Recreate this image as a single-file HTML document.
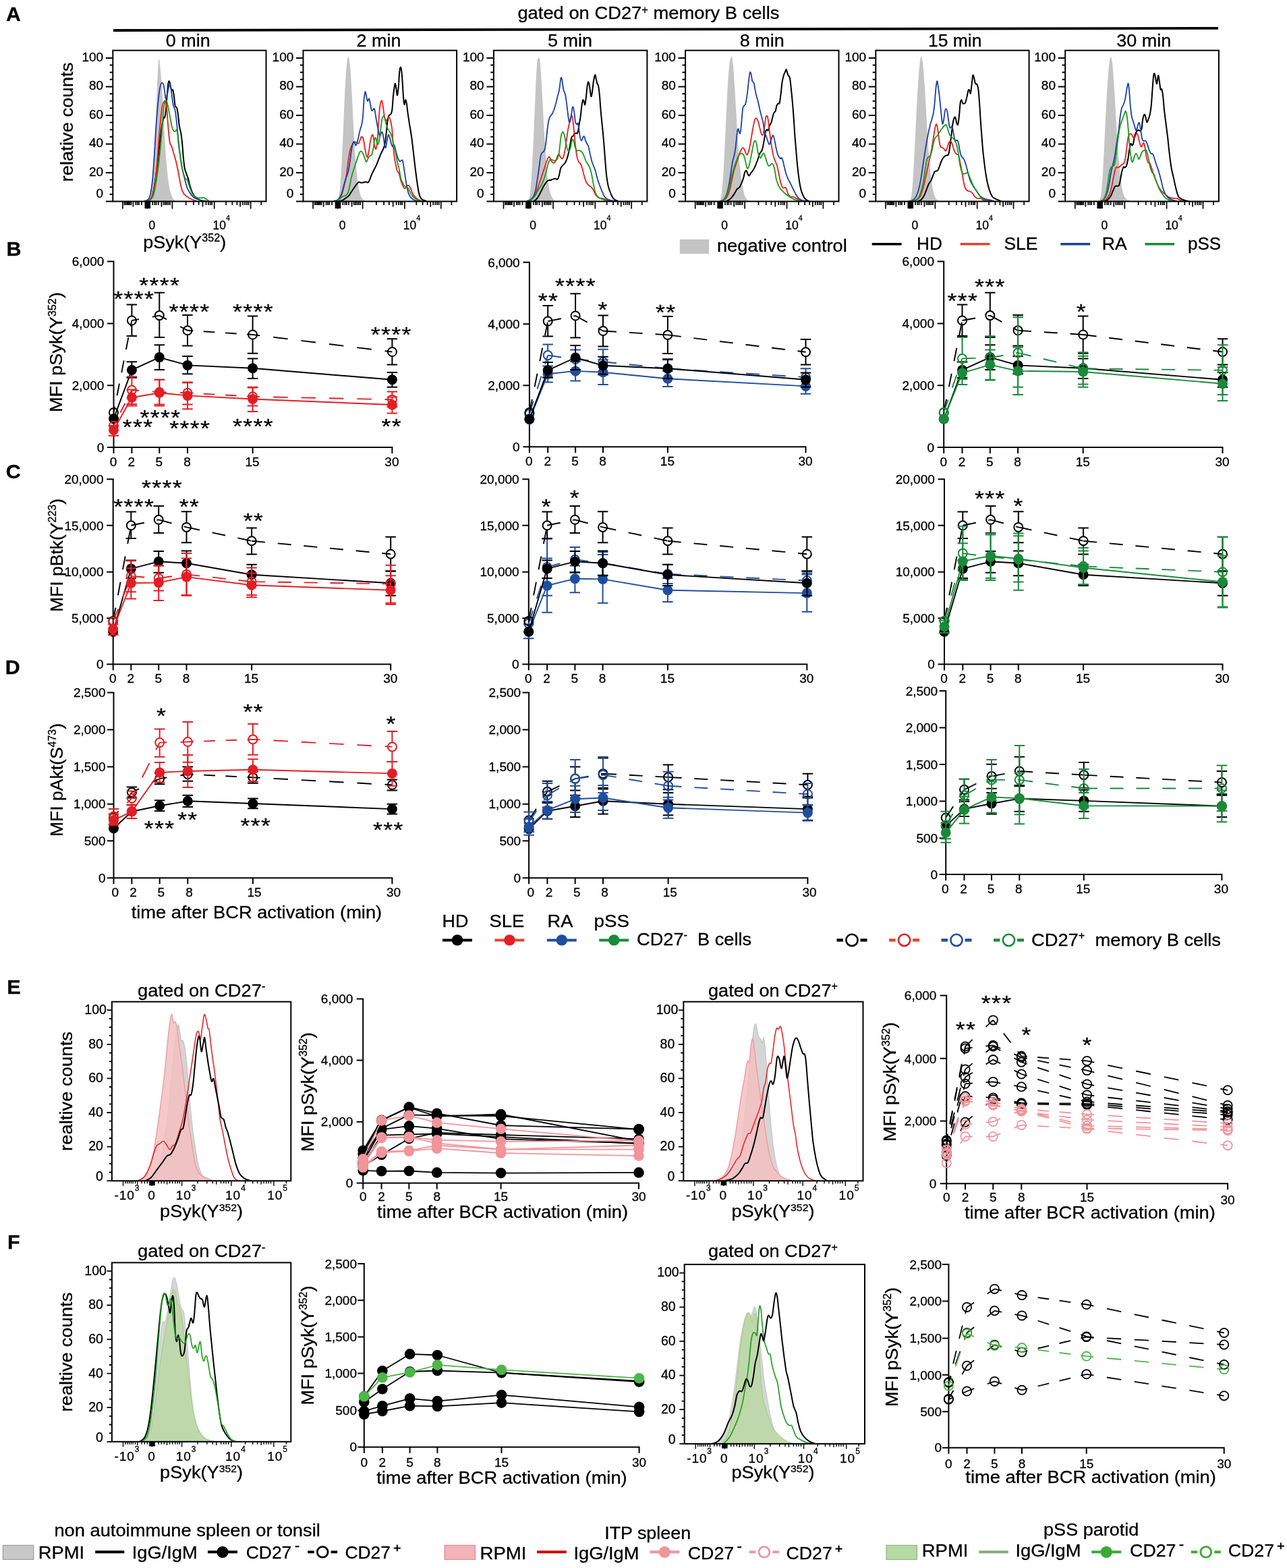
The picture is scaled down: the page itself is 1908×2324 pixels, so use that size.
<!DOCTYPE html>
<html lang="en"><head><meta charset="utf-8"><title>Figure</title>
<style>
html,body{margin:0;padding:0;background:#fff;}
body{width:1908px;height:2324px;overflow:hidden;}
svg{display:block;font-family:'Liberation Sans', Arial, Helvetica, sans-serif;}
text{fill:#000;stroke:#000;stroke-width:0.3px;}
</style></head><body>
<svg width="1908" height="2324" viewBox="0 0 1908 2324">
<rect width="1908" height="2324" fill="#fff"/>
<g id="panelA">
<text x="9" y="31" font-size="30" font-weight="bold" textLength="21.8" lengthAdjust="spacingAndGlyphs">A</text>
<text x="767.4" y="28.4" font-size="26.3" textLength="388" lengthAdjust="spacingAndGlyphs">gated on CD27<tspan font-size="15.8" dy="-8.7">+</tspan><tspan dy="8.7"> memory B cells</tspan></text>
<line x1="168" y1="45" x2="1806" y2="41.9" stroke="#000" stroke-width="3.8"/>
<path d="M220 298.5C220.8 296 222.9 293.4 224.3 284.7C225.7 275.9 226.7 265.6 227.8 250.1C228.9 234.5 229.4 220 230.4 198.2C231.3 176.5 232.2 147.8 232.9 129.1C233.7 110.5 234.1 102 234.7 94.6C235.2 87.1 235.4 87 235.9 87.6C236.4 88.3 236.6 90.6 237.3 98C238 105.5 238.8 112.6 239.9 129.1C241 145.6 242.1 169.4 243.3 189.6C244.6 209.8 245.5 226.5 246.8 241.5C248 256.4 249 264.2 250.2 272.6C251.5 281 252.4 284.1 253.7 288.1C254.9 292.2 255.9 293.2 257.1 295C258.4 296.8 260 297.6 260.6 298.1Z" fill="#c4c4c4"/>
<path d="M217.4 298.1C218.3 297.7 221 297.4 222.6 295.9C224.1 294.4 224.8 294 226 289.8C227.3 285.6 228.2 280.3 229.5 272.6C230.7 264.8 231.7 256.9 232.9 246.6C234.2 236.4 235.2 226.1 236.4 215.5C237.6 205 238.8 195.2 239.9 187.9C241 180.6 241.7 177.4 242.5 174.9C243.2 172.4 243.6 176.1 244.2 174.1C244.8 172 245.3 169.3 245.9 163.7C246.5 158.1 247 150.1 247.6 142.9C248.3 135.8 248.7 128 249.4 123.9C250 119.9 250.5 119.9 251.1 120.5C251.7 121.1 252.2 124.9 252.8 127.4C253.4 129.9 253.9 133.2 254.6 134.3C255.2 135.4 255.7 131.9 256.3 133.4C256.9 135 257.4 138.7 258 142.9C258.6 147.1 259 153.7 259.7 156.8C260.5 159.9 261.5 157.7 262.3 160.2C263.1 162.7 263.4 165.9 264.1 170.6C264.7 175.3 265 181.2 265.8 186.2C266.6 191.1 267.6 193.6 268.4 198.2C269.2 202.9 269.5 205.9 270.1 212.1C270.7 218.3 271.2 226.3 271.8 232.8C272.5 239.3 272.8 244 273.6 248.4C274.3 252.7 275.2 254.2 276.2 257C277.1 259.8 277.8 260.8 278.7 263.9C279.7 267 280.2 270.6 281.3 274.3C282.4 278 283.5 281.7 284.8 284.7C286 287.6 286.7 288.8 288.2 290.7C289.8 292.6 291.3 293.8 293.4 295C295.6 296.3 298.2 297.1 300.3 297.6C302.5 298.2 304.6 298 305.5 298.1" fill="none" stroke="#000000" stroke-width="2" stroke-linejoin="round"/>
<path d="M218.3 298.1C219.2 297.6 221.9 297.1 223.4 295C225 292.9 225.7 291.4 226.9 286.4C228.1 281.4 229.3 275.5 230.4 267.4C231.4 259.3 232 252.3 232.9 241.5C233.9 230.6 234.6 218.4 235.5 206.9C236.5 195.4 237.2 186.5 238.1 177.5C239.1 168.5 239.8 161.6 240.7 156.8C241.7 152 242.5 152 243.3 150.7C244.1 149.5 244.4 148.8 245 149.9C245.7 151 246.2 151.8 246.8 156.8C247.4 161.8 247.9 170 248.5 177.5C249.1 185 249.6 192 250.2 198.2C250.9 204.5 251.2 208.7 252 212.1C252.7 215.5 253.6 214.8 254.6 217.3C255.5 219.7 256.1 222.2 257.1 225.9C258.2 229.6 259.4 233 260.6 238C261.8 243 262.8 247.3 264.1 253.5C265.3 259.8 266.3 267 267.5 272.6C268.8 278.2 269.4 281.4 271 284.7C272.5 287.9 274 288.8 276.2 290.7C278.3 292.6 280.3 293.7 283.1 295C285.9 296.4 290.1 297.6 291.7 298.1" fill="none" stroke="#f01a1a" stroke-width="1.8" stroke-linejoin="round"/>
<path d="M213.9 298.1C214.9 297.7 217.6 297.4 219.1 295.9C220.7 294.4 221.3 295 222.6 289.8C223.8 284.7 224.9 277.6 226 267.4C227.1 257.1 227.7 246.8 228.6 232.8C229.6 218.8 230.3 203.3 231.2 189.6C232.2 175.9 232.9 166.7 233.8 156.8C234.7 146.8 235.6 140.1 236.4 134.3C237.2 128.6 237.8 126.9 238.5 124.8C239.2 122.7 239.5 122.4 240.2 122.6C240.9 122.7 241.7 123.2 242.5 125.7C243.2 128.1 243.6 132.3 244.2 136C244.8 139.8 245.3 145.5 245.9 146.4C246.5 147.3 247 143.7 247.6 141.2C248.3 138.7 248.7 135.2 249.4 132.6C250 129.9 250.6 127.8 251.1 126.5C251.6 125.3 251.8 124.6 252.3 125.7C252.8 126.8 253.1 128.8 253.7 132.6C254.2 136.3 254.8 142.1 255.4 146.4C256 150.8 256.4 153.7 257.1 156.8C257.9 159.9 259 160 259.7 163.7C260.5 167.4 260.8 171.9 261.5 177.5C262.1 183.1 262.6 187.9 263.2 194.8C263.8 201.6 264.1 208.7 264.9 215.5C265.7 222.4 266.4 226 267.5 232.8C268.6 239.7 269.7 247.3 271 253.5C272.2 259.8 273.2 262.7 274.4 267.4C275.7 272 276.3 275.7 277.9 279.5C279.4 283.2 281.2 285.6 283.1 288.1C284.9 290.6 285.8 291.7 288.2 293.3C290.7 294.9 293.8 295.9 296.9 296.8C300 297.6 304 297.9 305.5 298.1" fill="none" stroke="#1c3fa8" stroke-width="1.8" stroke-linejoin="round"/>
<path d="M219.1 298.1C220.1 297.6 222.8 296.8 224.3 295C225.9 293.2 226.5 292.5 227.8 288.1C229 283.8 230 278.3 231.2 270.8C232.5 263.4 233.6 255 234.7 246.6C235.8 238.2 236.3 233.5 237.3 224.2C238.2 214.8 238.9 205.7 239.9 194.8C240.8 183.9 241.7 171.5 242.5 163.7C243.2 155.9 243.6 154.3 244.2 151.6C244.8 148.9 245.3 148.5 245.9 148.5C246.5 148.5 246.9 148.9 247.6 151.6C248.4 154.3 249.3 159 250.2 163.7C251.2 168.4 251.9 172.8 252.8 177.5C253.8 182.2 254.5 186.5 255.4 189.6C256.3 192.7 257.1 194 258 194.8C258.9 195.6 259.8 194.2 260.6 193.9C261.4 193.6 261.7 191.4 262.3 193.1C262.9 194.8 263.4 198.8 264.1 203.4C264.7 208.1 265 212.1 265.8 219C266.6 225.8 267.4 235.2 268.4 241.5C269.3 247.7 269.9 249.5 271 253.5C272.1 257.6 273.2 261.4 274.4 263.9C275.7 266.4 276.6 264.9 277.9 267.4C279.1 269.9 280.1 274.3 281.3 277.7C282.6 281.2 283.5 284 284.8 286.4C286 288.7 286.7 289.5 288.2 290.7C289.8 291.9 291.6 292.8 293.4 293.3C295.3 293.8 297.1 293.4 298.6 293.3C300.2 293.2 300.8 292.6 302.1 292.9C303.3 293.3 304.1 294.1 305.5 295C306.9 296 309.1 297.6 309.9 298.1" fill="none" stroke="#1a9a1a" stroke-width="1.8" stroke-linejoin="round"/>
<rect x="167.3" y="74.7" width="227.2" height="223.8" fill="none" stroke="#000" stroke-width="2"/>
<path d="M156.8 298.5h10.5M162.7 287.9h4.6M162.7 277.2h4.6M162.7 266.6h4.6M156.8 256h10.5M162.7 245.4h4.6M162.7 234.7h4.6M162.7 224.1h4.6M156.8 213.5h10.5M162.7 202.8h4.6M162.7 192.2h4.6M162.7 181.6h4.6M156.8 170.9h10.5M162.7 160.3h4.6M162.7 149.7h4.6M162.7 139.1h4.6M156.8 128.4h10.5M162.7 117.8h4.6M162.7 107.2h4.6M162.7 96.5h4.6M156.8 85.9h10.5" stroke="#000" stroke-width="2" fill="none"/>
<path d="M181.9 298.5v11M218.4 298.5v11M255.4 298.5v11M317.7 298.5v11M371.6 298.5v11M197.4 298.5v8M239.4 298.5v8M300.5 298.5v8M356.1 298.5v8M184.5 298.5v5.5M186.5 298.5v5.5M188.6 298.5v5.5M190.4 298.5v5.5M192.3 298.5v5.5M194.3 298.5v5.5M201.3 298.5v5.5M203.7 298.5v5.5M206 298.5v5.5M209.9 298.5v5.5M226.2 298.5v5.5M229.3 298.5v5.5M231.6 298.5v5.5M234.8 298.5v5.5M242.5 298.5v5.5M244.9 298.5v5.5M247.2 298.5v5.5M249.5 298.5v5.5M251.9 298.5v5.5M275.7 298.5v5.5M286.9 298.5v5.5M294.6 298.5v5.5M305.5 298.5v5.5M308.9 298.5v5.5M311.7 298.5v5.5M314.1 298.5v5.5M335.1 298.5v5.5M344.4 298.5v5.5M351.4 298.5v5.5M360 298.5v5.5M363.1 298.5v5.5M365.9 298.5v5.5M368.5 298.5v5.5M387.2 298.5v5.5" stroke="#000" stroke-width="1.7" fill="none"/>
<rect x="214.5" y="298.5" width="8.6" height="10.5" fill="#000"/>
<text x="153.1" y="292.9" font-size="19" text-anchor="end">0</text>
<text x="153.1" y="260.6" font-size="19" text-anchor="end">20</text>
<text x="153.1" y="218.1" font-size="19" text-anchor="end">40</text>
<text x="153.1" y="175.6" font-size="19" text-anchor="end">60</text>
<text x="153.1" y="133.1" font-size="19" text-anchor="end">80</text>
<text x="153.1" y="90.6" font-size="19" text-anchor="end">100</text>
<text x="278.8" y="68.8" font-size="26.3" text-anchor="middle" textLength="66" lengthAdjust="spacingAndGlyphs">0 min</text>
<text x="225.4" y="339.9" font-size="17.5" text-anchor="middle">0</text>
<text x="315.5" y="339.9" font-size="17.5">10<tspan font-size="10.8" dy="-13.1">4</tspan></text>
<path d="M500.9 298.1C501.3 295.7 502.5 293.3 503.4 284.7C504.4 276 505.1 265.6 506 250.1C507 234.5 507.7 218.5 508.6 198.2C509.6 178 510.3 155.8 511.2 137.8C512.2 119.7 512.9 107.7 513.8 98C514.7 88.4 515.5 84.2 516.4 84.2C517.3 84.2 518.1 88.4 519 98C519.9 107.7 520.7 121.3 521.6 137.8C522.5 154.3 523.2 172.5 524.2 189.6C525.1 206.7 525.7 218.8 526.8 232.8C527.9 246.8 529 257.7 530.2 267.4C531.5 277 532.4 281.6 533.7 286.4C534.9 291.2 535.6 292 537.1 294.2C538.7 296.3 541.4 297.4 542.3 298.1Z" fill="#c4c4c4"/>
<path d="M502.6 298.1C503.5 297.9 505.9 297.6 507.8 296.8C509.6 295.9 511.2 294.5 512.9 293.3C514.7 292.1 515.9 291.4 517.3 289.8C518.7 288.3 519.5 286.5 520.7 284.7C522 282.8 522.8 281.5 524.2 279.5C525.6 277.4 527.1 275.1 528.5 273.4C529.9 271.7 530.7 270.4 532 270C533.2 269.5 534.2 270.7 535.4 270.8C536.7 270.9 537.6 270.7 538.9 270.5C540.1 270.2 541.1 269.4 542.3 269.4C543.6 269.4 544.7 271.2 545.8 270.5C546.9 269.8 547.4 267.8 548.4 265.6C549.3 263.5 549.9 261.2 551 258.7C552.1 256.2 553.2 254.3 554.4 251.8C555.7 249.3 556.6 247.7 557.9 244.9C559.1 242.1 560.1 239.4 561.3 236.3C562.6 233.2 563.5 230.4 564.8 227.6C566 224.8 567.2 223.5 568.2 220.7C569.3 217.9 570.1 216.1 570.8 212.1C571.6 208 571.9 203.8 572.6 198.2C573.2 192.6 573.6 185.8 574.3 181C575 176.1 575.7 173.5 576.5 171.5C577.4 169.4 578.1 171.1 579 169.7C579.8 168.3 580.5 168.5 581.2 163.7C581.9 158.9 582.3 149.2 582.9 142.9C583.6 136.7 584.1 132.5 584.7 129.1C585.2 125.7 585.5 123.3 586 123.9C586.6 124.6 587.1 129.5 587.6 132.6C588.1 135.7 588.4 141.8 589 141.2C589.5 140.6 590.2 135 590.7 129.1C591.3 123.2 591.6 113.5 592.1 108.4C592.6 103.3 592.8 101.9 593.3 100.6C593.8 99.4 594.2 98.8 594.7 101.5C595.2 104.1 595.7 107.8 596.2 115.3C596.8 122.8 597.4 135.8 598 142.9C598.5 150.1 598.8 154.1 599.4 155C599.9 156 600.5 148.4 601.1 148.1C601.7 147.8 602.2 149.9 602.8 153.3C603.4 156.7 603.8 161.5 604.5 167.1C605.3 172.7 606.2 178.5 607.1 184.4C608.1 190.3 608.8 193.4 609.7 200C610.7 206.5 611.4 212.9 612.3 220.7C613.2 228.5 614 235.4 614.9 243.2C615.8 251 616.6 257.1 617.5 263.9C618.4 270.8 619.2 276.2 620.1 281.2C621 286.2 621.6 288.9 622.7 291.6C623.8 294.2 624.4 294.7 626.1 295.9C627.9 297.1 631.1 297.7 632.2 298.1" fill="none" stroke="#000000" stroke-width="2" stroke-linejoin="round"/>
<path d="M499.1 298.1C500.1 297.3 502.8 295.7 504.3 293.3C505.9 290.9 506.5 288.7 507.8 284.7C509 280.6 510.1 275.5 511.2 270.8C512.3 266.2 512.9 264.6 513.8 258.7C514.7 252.8 515.5 244.5 516.4 238C517.3 231.5 518.1 226.5 519 222.4C519.9 218.4 520.7 217.6 521.6 215.5C522.5 213.5 523.2 212.1 524.2 211.2C525.1 210.3 525.8 210.2 526.8 210.3C527.7 210.5 528.4 211.8 529.4 212.1C530.3 212.4 531 213.3 532 212.1C532.9 210.8 533.8 206.9 534.6 205.2C535.3 203.5 535.5 202.3 536.3 202.6C537.1 202.9 537.9 203.3 538.9 206.9C539.8 210.5 540.5 217.8 541.5 222.4C542.4 227.1 543.1 232.2 544.1 232.8C545 233.4 545.7 230.3 546.6 225.9C547.6 221.5 548.3 213.3 549.2 208.6C550.2 204 551.1 200.9 551.8 200C552.6 199 552.9 200.6 553.6 203.4C554.2 206.2 554.6 212.4 555.3 215.5C556 218.6 556.8 222.3 557.5 220.7C558.3 219.2 558.9 214 559.6 206.9C560.3 199.7 560.7 190 561.3 181C562 171.9 562.6 162.5 563.4 156.8C564.2 151 564.9 149.3 565.7 149C566.4 148.7 566.7 151.2 567.4 155C568.1 158.9 568.9 166.2 569.6 170.6C570.4 175 570.9 178.3 571.7 179.2C572.5 180.2 573.4 176.8 574.3 175.8C575.2 174.8 575.8 173.4 576.5 173.7C577.3 174 577.8 174.3 578.6 177.5C579.5 180.7 580.4 184.5 581.2 191.3C582 198.2 582.3 208.1 582.9 215.5C583.6 223 583.9 227.2 584.7 232.8C585.4 238.4 586.5 242.9 587.3 246.6C588 250.4 588.2 251.7 589 253.5C589.8 255.4 590.6 254.5 591.6 257C592.5 259.5 593.1 264 594.2 267.4C595.3 270.8 596.5 273.8 597.6 276C598.7 278.2 599.3 279.5 600.2 279.5C601.2 279.5 601.9 276.9 602.8 276C603.7 275.2 604.5 274.5 605.4 274.8C606.3 275.1 606.9 275.7 608 277.7C609.1 279.8 610.1 283.7 611.5 286.4C612.9 289 614.2 290.7 615.8 292.4C617.3 294.1 618.4 294.9 620.1 295.9C621.8 296.9 624.3 297.7 625.3 298.1" fill="none" stroke="#f01a1a" stroke-width="1.8" stroke-linejoin="round"/>
<path d="M493.9 298.1C495.2 297.7 498.7 297.7 500.9 295.9C503 294.1 504.5 291.7 506 288.1C507.6 284.5 508.2 280.4 509.5 276C510.7 271.7 511.7 268 512.9 263.9C514.2 259.9 515.3 258.2 516.4 253.5C517.5 248.9 518.1 244.2 519 238C519.9 231.8 520.7 224 521.6 219C522.5 214 523.4 211.6 524.2 210.3C525 209.1 525.3 211.1 525.9 212.1C526.5 213 526.9 216.2 527.6 215.5C528.4 214.9 529.1 212.7 530.2 208.6C531.3 204.6 532.6 197.4 533.7 193.1C534.8 188.7 535.5 188.2 536.3 184.4C537.1 180.7 537.4 179.2 538 172.3C538.6 165.5 539.1 152.9 539.7 146.4C540.4 139.9 540.8 136.7 541.5 136C542.1 135.4 542.6 140.5 543.2 142.9C543.8 145.4 544.2 149.2 544.9 149.9C545.6 150.5 546.4 145.5 547.2 146.4C547.9 147.3 548.6 151.9 549.2 155C549.9 158.2 550.2 162.4 551 163.7C551.7 164.9 552.8 162.3 553.6 162C554.3 161.6 554.5 159.2 555.3 162C556.1 164.8 556.9 172.2 557.9 177.5C558.8 182.8 559.5 187 560.5 191.3C561.4 195.7 562.3 200.5 563.1 201.7C563.8 202.9 564.2 199.3 564.8 198.2C565.4 197.2 565.9 195 566.5 195.7C567.1 196.3 567.6 198.4 568.2 201.7C568.9 205 569.4 210.7 570 213.8C570.6 216.9 571.1 219.6 571.7 219C572.3 218.4 572.8 213.5 573.4 210.3C574.1 207.2 574.6 203.6 575.2 201.7C575.7 199.8 575.9 199 576.5 200C577.2 200.9 577.9 204.4 578.6 206.9C579.3 209.4 579.7 211.9 580.3 213.8C581 215.7 581.3 216.9 582.1 217.3C582.9 217.6 583.7 214 584.7 215.5C585.6 217.1 586.3 222.5 587.3 225.9C588.2 229.3 588.9 232.2 589.9 234.5C590.8 236.9 591.5 238.2 592.4 238.9C593.4 239.5 594.3 238.2 595 238C595.8 237.8 596.1 236.4 596.8 238C597.4 239.6 597.7 242 598.5 246.6C599.3 251.3 600.1 258 601.1 263.9C602 269.8 602.7 275.1 603.7 279.5C604.6 283.8 605.2 285.6 606.3 288.1C607.4 290.6 608.2 291.7 609.7 293.3C611.3 294.9 613 295.9 614.9 296.8C616.8 297.6 619.2 297.9 620.1 298.1" fill="none" stroke="#1c3fa8" stroke-width="1.8" stroke-linejoin="round"/>
<path d="M499.1 298.1C500.1 297.4 502.6 295.5 504.3 294.2C506 292.8 506.9 291.6 508.6 290.7C510.3 289.8 512.3 290.7 513.8 289C515.4 287.3 516 285.7 517.3 281.2C518.5 276.7 519.5 269.2 520.7 263.9C522 258.6 522.9 255.9 524.2 251.8C525.4 247.8 526.4 245.2 527.6 241.5C528.9 237.7 530 234 531.1 231.1C532.2 228.1 532.8 226.2 533.7 225C534.6 223.9 535.3 223.9 536.3 224.7C537.2 225.5 537.9 227.3 538.9 229.4C539.8 231.4 540.7 234.4 541.5 236.3C542.2 238.1 542.4 240 543.2 239.7C544 239.4 544.9 236.1 545.8 234.5C546.7 233 547.4 232 548.4 231.1C549.3 230.1 550 231.5 551 229.4C551.9 227.2 552.8 223 553.6 219C554.3 214.9 554.7 209.5 555.3 206.9C555.9 204.2 556.4 203.7 557 204.3C557.6 204.9 558.1 208.6 558.7 210.3C559.4 212.1 559.8 214.7 560.5 213.8C561.2 212.9 561.9 209.8 562.7 205.2C563.5 200.5 564.1 193.2 564.8 187.9C565.5 182.6 565.9 178.6 566.5 175.8C567.1 173 567.6 172.6 568.2 172.3C568.9 172 569.5 171.9 570.3 174.1C571.1 176.2 571.7 181.3 572.6 184.4C573.4 187.5 574.1 189.2 575.2 191.3C576.2 193.5 577.5 194.3 578.6 196.5C579.7 198.7 580.3 200 581.2 203.4C582.1 206.9 582.9 211.5 583.8 215.5C584.7 219.6 585.5 221.5 586.4 225.9C587.3 230.3 588.1 235.4 589 239.7C589.9 244.1 590.6 245.7 591.6 250.1C592.5 254.4 593.1 259.9 594.2 263.9C595.3 268 596.5 270.4 597.6 272.6C598.7 274.7 599.3 275.2 600.2 276C601.2 276.8 601.9 276.3 602.8 276.9C603.7 277.5 604.3 277.8 605.4 279.5C606.5 281.2 607.5 284 608.9 286.4C610.3 288.7 611.5 290.7 613.2 292.4C614.9 294.1 616.5 294.9 618.4 295.9C620.2 296.9 622.6 297.7 623.5 298.1" fill="none" stroke="#1a9a1a" stroke-width="1.8" stroke-linejoin="round"/>
<rect x="449.5" y="74.7" width="227.6" height="223.8" fill="none" stroke="#000" stroke-width="2"/>
<path d="M439 298.5h10.5M444.9 287.9h4.6M444.9 277.2h4.6M444.9 266.6h4.6M439 256h10.5M444.9 245.4h4.6M444.9 234.7h4.6M444.9 224.1h4.6M439 213.5h10.5M444.9 202.8h4.6M444.9 192.2h4.6M444.9 181.6h4.6M439 170.9h10.5M444.9 160.3h4.6M444.9 149.7h4.6M444.9 139.1h4.6M439 128.4h10.5M444.9 117.8h4.6M444.9 107.2h4.6M444.9 96.5h4.6M439 85.9h10.5" stroke="#000" stroke-width="2" fill="none"/>
<path d="M464.1 298.5v11M500.6 298.5v11M537.6 298.5v11M599.9 298.5v11M653.8 298.5v11M479.6 298.5v8M521.6 298.5v8M582.7 298.5v8M638.3 298.5v8M466.7 298.5v5.5M468.7 298.5v5.5M470.8 298.5v5.5M472.6 298.5v5.5M474.5 298.5v5.5M476.5 298.5v5.5M483.5 298.5v5.5M485.9 298.5v5.5M488.2 298.5v5.5M492.1 298.5v5.5M508.4 298.5v5.5M511.5 298.5v5.5M513.8 298.5v5.5M517 298.5v5.5M524.7 298.5v5.5M527.1 298.5v5.5M529.4 298.5v5.5M531.7 298.5v5.5M534.1 298.5v5.5M557.9 298.5v5.5M569.1 298.5v5.5M576.8 298.5v5.5M587.7 298.5v5.5M591.1 298.5v5.5M593.9 298.5v5.5M596.3 298.5v5.5M617.3 298.5v5.5M626.6 298.5v5.5M633.6 298.5v5.5M642.2 298.5v5.5M645.3 298.5v5.5M648.1 298.5v5.5M650.7 298.5v5.5M669.4 298.5v5.5" stroke="#000" stroke-width="1.7" fill="none"/>
<rect x="496.7" y="298.5" width="8.6" height="10.5" fill="#000"/>
<text x="435.3" y="292.9" font-size="19" text-anchor="end">0</text>
<text x="435.3" y="260.6" font-size="19" text-anchor="end">20</text>
<text x="435.3" y="218.1" font-size="19" text-anchor="end">40</text>
<text x="435.3" y="175.6" font-size="19" text-anchor="end">60</text>
<text x="435.3" y="133.1" font-size="19" text-anchor="end">80</text>
<text x="435.3" y="90.6" font-size="19" text-anchor="end">100</text>
<text x="561.6" y="68.8" font-size="26.3" text-anchor="middle" textLength="66" lengthAdjust="spacingAndGlyphs">2 min</text>
<text x="507.6" y="339.9" font-size="17.5" text-anchor="middle">0</text>
<text x="597.7" y="339.9" font-size="17.5">10<tspan font-size="10.8" dy="-13.1">4</tspan></text>
<path d="M783.4 298.1C783.9 295.7 785.1 293.3 786 284.7C787 276 787.7 265.6 788.6 250.1C789.6 234.5 790.3 218.5 791.2 198.2C792.2 178 792.9 156.4 793.8 137.8C794.7 119.1 795.3 103.6 796.1 94.6C796.8 85.5 797.1 88.7 797.8 87.3C798.5 85.9 799.2 83.9 799.9 86.8C800.5 89.6 800.8 92.5 801.6 103.2C802.4 113.9 803.2 129.9 804.2 146.4C805.1 162.9 805.8 179.2 806.8 194.8C807.7 210.3 808.4 220.4 809.4 232.8C810.3 245.3 810.9 254.6 812 263.9C813 273.2 814 279.2 815.4 284.7C816.8 290.1 818.2 291.7 819.7 294.2C821.3 296.6 823.3 297.4 824.1 298.1Z" fill="#c4c4c4"/>
<path d="M791.2 298.1C792 297.6 794.1 296.5 795.5 295C796.9 293.5 797.8 292 799 289.8C800.2 287.7 801.2 285.4 802.5 282.9C803.7 280.4 804.7 278.2 805.9 276C807.2 273.8 808.1 272.4 809.4 270.8C810.6 269.3 811.6 268.1 812.8 267.4C814.1 266.7 815 267.3 816.3 267C817.5 266.7 818.5 266 819.7 265.6C821 265.2 821.9 264.8 823.2 264.8C824.4 264.8 825.6 266.7 826.6 265.6C827.7 264.6 828.5 261.5 829.2 258.7C830 255.9 830.2 252.4 831 250.1C831.7 247.8 832.6 247 833.6 245.8C834.5 244.5 835.2 244.3 836.2 243.2C837.1 242.1 837.8 241.6 838.7 239.7C839.7 237.9 840.5 235.6 841.3 232.8C842.2 230 842.6 227.9 843.4 224.2C844.2 220.4 844.9 215.8 845.7 212.1C846.4 208.3 846.7 205.3 847.4 203.4C848.1 201.6 848.9 202.6 849.6 201.7C850.4 200.8 850.9 199 851.7 198.2C852.5 197.5 853.4 197.7 854.3 197.4C855.2 197.1 855.8 198.9 856.5 196.5C857.3 194.2 857.9 188.8 858.6 184.4C859.4 180.1 860 177.3 860.7 172.3C861.4 167.4 861.8 161.1 862.4 156.8C863.1 152.4 863.7 149.1 864.3 148.1C865 147.2 865.5 150.3 866 151.6C866.6 152.8 866.7 156.6 867.3 155C867.8 153.5 868.4 147.9 869 142.9C869.6 138 870.1 131.3 870.7 127.4C871.3 123.5 871.8 121 872.4 121.3C873.1 121.7 873.5 125.2 874.2 129.1C874.9 133 875.6 141.7 876.2 142.9C876.9 144.2 877.3 140.4 878 136C878.7 131.7 879.4 123.3 880.2 118.8C881 114.2 881.7 111.3 882.3 111C882.9 110.7 883.1 114.7 883.7 117C884.2 119.4 884.8 122.1 885.4 123.9C886 125.8 886.5 124.3 887.1 127.4C887.8 130.5 888.2 134.7 888.9 141.2C889.5 147.8 890 156.5 890.6 163.7C891.2 170.8 891.7 174.7 892.3 181C892.9 187.2 893.4 191.4 894 198.2C894.7 205.1 895.1 211.2 895.8 219C896.4 226.8 896.9 234 897.5 241.5C898.1 248.9 898.5 254.2 899.2 260.5C900 266.7 900.7 271.3 901.8 276C902.9 280.7 904 283.3 905.3 286.4C906.5 289.5 907.5 291.5 908.7 293.3C910 295.1 910.8 295.5 912.2 296.4C913.6 297.3 915.7 297.8 916.5 298.1" fill="none" stroke="#000000" stroke-width="2" stroke-linejoin="round"/>
<path d="M782.6 298.1C783.5 297.7 785.9 297.4 787.8 295.9C789.6 294.4 791.4 292.5 792.9 289.8C794.5 287.2 795.2 284.6 796.4 281.2C797.6 277.8 798.6 274.6 799.9 270.8C801.1 267.1 802.1 264.2 803.3 260.5C804.6 256.7 805.5 253.8 806.8 250.1C808 246.4 809.1 242.7 810.2 239.7C811.3 236.8 812 234.9 812.8 233.7C813.6 232.4 813.9 232.3 814.6 232.8C815.2 233.3 815.5 234.9 816.3 236.3C817.1 237.7 817.9 239.7 818.9 240.6C819.8 241.5 820.5 241.9 821.5 241.5C822.4 241 823.1 239.9 824.1 238C825 236.1 825.9 232.8 826.6 231.1C827.4 229.4 827.6 228.2 828.4 228.5C829.2 228.8 830 231.6 831 232.8C831.9 234.1 832.7 235.7 833.6 235.4C834.4 235.1 835 233.7 835.8 231.1C836.6 228.4 837.1 225.1 837.9 220.7C838.6 216.4 839.2 212.2 840 206.9C840.7 201.6 841.4 196 842.2 191.3C843 186.7 843.7 184.4 844.4 181C845.2 177.5 845.9 174 846.5 172.3C847.1 170.6 847.3 169.9 847.9 171.5C848.5 173 849 176.1 849.6 181C850.3 185.8 850.7 192 851.4 198.2C852 204.5 852.4 209.6 853.1 215.5C853.8 221.4 854.3 226.7 855.2 231.1C856 235.4 856.8 237.7 857.8 239.7C858.7 241.7 859.4 240.8 860.3 242.3C861.3 243.9 862 245.4 862.9 248.4C863.9 251.3 864.6 255.3 865.5 258.7C866.5 262.2 867.2 264.9 868.1 267.4C869.1 269.9 869.8 271.2 870.7 272.6C871.6 274 872.2 274.2 873.3 275.1C874.4 276.1 875.5 276.3 876.8 277.7C878 279.1 879 280.7 880.2 282.9C881.5 285.1 882.3 288 883.7 289.8C885.1 291.7 886.3 292.5 888 293.3C889.7 294.1 891.3 293.7 893.2 294.2C895 294.6 896.2 295.2 898.4 295.9C900.5 296.6 904 297.7 905.3 298.1" fill="none" stroke="#f01a1a" stroke-width="1.8" stroke-linejoin="round"/>
<path d="M780.9 298.1C781.8 297.7 784.3 297.1 786 295.9C787.7 294.7 789 293.9 790.4 291.6C791.8 289.2 792.7 287.3 793.8 282.9C794.9 278.6 795.5 273.3 796.4 267.4C797.3 261.5 798.1 256.6 799 250.1C799.9 243.6 800.7 235.4 801.6 231.1C802.5 226.7 803.3 227.1 804.2 225.9C805.1 224.7 805.7 225.7 806.4 224.2C807.2 222.6 807.8 221 808.5 217.3C809.2 213.5 809.6 208.7 810.2 203.4C810.9 198.1 811.3 192.5 812 187.9C812.6 183.2 813 180.3 813.7 177.5C814.4 174.7 814.9 173.9 815.8 172.3C816.6 170.8 817.5 170.7 818.5 168.9C819.6 167 820.5 164.8 821.5 162C822.5 159.2 823.1 156.7 824.1 153.3C825 149.9 825.7 146.7 826.6 142.9C827.6 139.2 828.5 136.9 829.2 132.6C830 128.2 830.4 121.9 831 118.8C831.5 115.6 831.7 114.6 832.2 115C832.6 115.3 833 117.3 833.6 120.5C834.1 123.7 834.5 129.2 835.3 132.6C836.1 136 837.1 136.4 837.9 139.5C838.7 142.6 839 145.5 839.6 149.9C840.2 154.2 840.7 158.7 841.3 163.7C842 168.7 842.4 174.4 843.1 177.5C843.7 180.6 844.2 181.6 844.8 181C845.4 180.3 845.9 177.5 846.5 174.1C847.1 170.6 847.7 164.8 848.2 162C848.8 159.2 849.1 157.6 849.6 158.5C850.2 159.4 850.7 163.1 851.4 167.1C852 171.2 852.4 177.9 853.1 181C853.8 184.1 854.5 184.1 855.2 184.4C855.8 184.7 856.3 181.5 856.9 182.7C857.4 183.9 857.7 187.6 858.3 191.3C858.8 195.1 859.3 200.3 860 203.4C860.7 206.5 861.2 208.8 862.1 208.6C862.9 208.5 863.9 203.7 864.7 202.6C865.4 201.5 865.8 201.5 866.4 202.6C867 203.7 867.3 206.6 868.1 208.6C868.9 210.6 869.9 212.2 870.7 213.8C871.5 215.4 871.7 214.5 872.4 217.3C873.2 220.1 874.1 225.3 875 229.4C876 233.4 876.7 236.6 877.6 239.7C878.6 242.8 879.3 244.1 880.2 246.6C881.2 249.1 881.9 250.4 882.8 253.5C883.7 256.7 884.3 260.2 885.4 263.9C886.5 267.6 887.6 270.9 888.9 274.3C890.1 277.7 891.1 280 892.3 282.9C893.6 285.9 894.4 288.5 895.8 290.7C897.2 292.9 898.4 293.9 900.1 295C901.8 296.1 903.1 296.2 905.3 296.8C907.5 297.3 910.9 297.9 912.2 298.1" fill="none" stroke="#1c3fa8" stroke-width="1.8" stroke-linejoin="round"/>
<path d="M782.6 298.1C783.5 297.7 785.9 297.2 787.8 295.9C789.6 294.5 791.2 293 792.9 290.7C794.7 288.4 795.7 285.6 797.3 282.9C798.8 280.3 800.2 278.5 801.6 276C803 273.5 803.8 272.2 805 269.1C806.3 266 807.4 262.5 808.5 258.7C809.6 255 810.2 251.8 811.1 248.4C812 244.9 812.8 241.9 813.7 239.7C814.5 237.5 814.8 236.7 815.8 236.3C816.7 235.8 817.7 236.8 818.9 237.1C820.1 237.4 821.1 238.2 822.3 238C823.6 237.8 824.7 237.8 825.8 236.3C826.9 234.7 827.6 233.1 828.4 229.4C829.2 225.6 829.5 220.5 830.1 215.5C830.7 210.6 831.2 205.2 831.8 201.7C832.5 198.2 832.9 197.1 833.6 196.2C834.2 195.2 834.7 195.5 835.3 196.5C835.9 197.5 836.4 199.2 837 201.7C837.6 204.2 838 206.9 838.7 210.3C839.5 213.8 840.2 218.2 841 220.7C841.8 223.2 842.6 224.5 843.4 224.2C844.2 223.9 844.9 221.5 845.7 219C846.4 216.5 846.8 212.6 847.4 210.3C848 208.1 848.5 206.5 849.1 206.5C849.7 206.5 850.2 208.3 850.8 210.3C851.5 212.4 851.8 215.8 852.6 218.1C853.3 220.5 854.1 222.5 855.2 223.3C856.2 224.1 857.5 222.6 858.6 222.8C859.7 222.9 860.3 223.5 861.2 224.2C862.1 224.9 862.9 225.2 863.8 226.8C864.7 228.3 865.5 230.5 866.4 232.8C867.3 235.1 868.1 237.9 869 239.7C869.9 241.6 870.6 241.6 871.6 243.2C872.5 244.7 873.2 245.9 874.2 248.4C875.1 250.9 875.8 253 876.8 257C877.7 261 878.4 266.2 879.4 270.8C880.3 275.5 881 279.5 881.9 282.9C882.9 286.3 883.3 287.9 884.5 289.8C885.8 291.8 887 292.6 888.9 293.6C890.7 294.7 892.6 295.1 894.9 295.9C897.2 296.7 900.6 297.7 901.8 298.1" fill="none" stroke="#1a9a1a" stroke-width="1.8" stroke-linejoin="round"/>
<rect x="731.9" y="74.7" width="227.5" height="223.8" fill="none" stroke="#000" stroke-width="2"/>
<path d="M721.4 298.5h10.5M727.3 287.9h4.6M727.3 277.2h4.6M727.3 266.6h4.6M721.4 256h10.5M727.3 245.4h4.6M727.3 234.7h4.6M727.3 224.1h4.6M721.4 213.5h10.5M727.3 202.8h4.6M727.3 192.2h4.6M727.3 181.6h4.6M721.4 170.9h10.5M727.3 160.3h4.6M727.3 149.7h4.6M727.3 139.1h4.6M721.4 128.4h10.5M727.3 117.8h4.6M727.3 107.2h4.6M727.3 96.5h4.6M721.4 85.9h10.5" stroke="#000" stroke-width="2" fill="none"/>
<path d="M746.5 298.5v11M783 298.5v11M820 298.5v11M882.3 298.5v11M936.2 298.5v11M762 298.5v8M804 298.5v8M865.1 298.5v8M920.7 298.5v8M749.1 298.5v5.5M751.1 298.5v5.5M753.2 298.5v5.5M755 298.5v5.5M756.9 298.5v5.5M758.9 298.5v5.5M765.9 298.5v5.5M768.3 298.5v5.5M770.6 298.5v5.5M774.5 298.5v5.5M790.8 298.5v5.5M793.9 298.5v5.5M796.2 298.5v5.5M799.4 298.5v5.5M807.1 298.5v5.5M809.5 298.5v5.5M811.8 298.5v5.5M814.1 298.5v5.5M816.5 298.5v5.5M840.3 298.5v5.5M851.5 298.5v5.5M859.2 298.5v5.5M870.1 298.5v5.5M873.5 298.5v5.5M876.3 298.5v5.5M878.7 298.5v5.5M899.7 298.5v5.5M909 298.5v5.5M916 298.5v5.5M924.6 298.5v5.5M927.7 298.5v5.5M930.5 298.5v5.5M933.1 298.5v5.5M951.8 298.5v5.5" stroke="#000" stroke-width="1.7" fill="none"/>
<rect x="779.1" y="298.5" width="8.6" height="10.5" fill="#000"/>
<text x="717.7" y="292.9" font-size="19" text-anchor="end">0</text>
<text x="717.7" y="260.6" font-size="19" text-anchor="end">20</text>
<text x="717.7" y="218.1" font-size="19" text-anchor="end">40</text>
<text x="717.7" y="175.6" font-size="19" text-anchor="end">60</text>
<text x="717.7" y="133.1" font-size="19" text-anchor="end">80</text>
<text x="717.7" y="90.6" font-size="19" text-anchor="end">100</text>
<text x="845" y="68.8" font-size="26.3" text-anchor="middle" textLength="66" lengthAdjust="spacingAndGlyphs">5 min</text>
<text x="790" y="339.9" font-size="17.5" text-anchor="middle">0</text>
<text x="880.1" y="339.9" font-size="17.5">10<tspan font-size="10.8" dy="-13.1">4</tspan></text>
<path d="M1067.6 298.1C1068 295.7 1069.2 293.3 1070.2 284.7C1071.1 276 1071.8 265.6 1072.8 250.1C1073.7 234.5 1074.4 218.5 1075.4 198.2C1076.4 178 1077.3 155.8 1078.3 137.8C1079.3 119.7 1080 107.7 1081.1 98C1082.1 88.4 1083.3 84.8 1084.3 84.2C1085.3 83.6 1085.7 86.5 1086.6 94.6C1087.5 102.6 1088.2 115.1 1089.2 129.1C1090.1 143.1 1090.8 156.8 1091.8 172.3C1092.7 187.9 1093.4 202.2 1094.4 215.5C1095.3 228.9 1096 237.3 1097 246.6C1097.9 256 1098.5 260.2 1099.6 267.4C1100.6 274.5 1101.8 281.6 1103 286.4C1104.3 291.2 1105.1 292 1106.5 294.2C1107.9 296.3 1110 297.4 1110.8 298.1Z" fill="#c4c4c4"/>
<path d="M1077.1 298.1C1077.9 297.7 1080 296.9 1081.4 295.9C1082.8 294.9 1083.5 294.1 1084.9 292.4C1086.3 290.7 1087.8 288.6 1089.2 286.4C1090.6 284.2 1091.4 281.9 1092.6 280.3C1093.9 278.8 1094.9 279.5 1096.1 277.7C1097.3 276 1098.5 273.3 1099.6 270.8C1100.6 268.3 1101.3 266.7 1102.1 263.9C1103 261.1 1103.4 257.3 1104.2 255.3C1105 253.3 1105.7 252.4 1106.5 252.7C1107.2 253 1107.5 255.6 1108.2 257C1108.9 258.4 1109.5 260.6 1110.4 260.5C1111.4 260.3 1112.2 257.7 1113.4 256.1C1114.5 254.6 1115.7 253.5 1116.8 251.8C1117.9 250.1 1118.3 249.1 1119.4 246.6C1120.5 244.1 1121.6 241.4 1122.9 238C1124.1 234.6 1125.1 230.4 1126.3 227.6C1127.6 224.8 1128.7 225.6 1129.8 222.4C1130.9 219.3 1131.5 215 1132.4 210.3C1133.3 205.7 1133.9 199.8 1134.6 196.5C1135.4 193.3 1136 192.8 1136.7 192.2C1137.5 191.6 1138 194.2 1138.8 193.1C1139.6 192 1140.2 188.3 1141 186.2C1141.9 184 1142.8 183.5 1143.6 181C1144.5 178.5 1145 174.8 1145.7 172.3C1146.4 169.8 1146.7 168.5 1147.4 167.1C1148.1 165.7 1149 166.4 1149.7 164.6C1150.4 162.7 1150.7 158.8 1151.4 156.8C1152.1 154.8 1152.9 154.1 1153.6 153.3C1154.4 152.5 1155 155.3 1155.7 152.5C1156.5 149.7 1157.1 143.2 1157.8 137.8C1158.5 132.3 1158.8 126.9 1159.5 122.2C1160.2 117.5 1161 114.6 1161.8 111.8C1162.6 109 1163.3 108.3 1164 106.7C1164.7 105 1165.1 102.5 1165.7 102.9C1166.3 103.2 1166.7 106.6 1167.3 108.4C1167.9 110.2 1168.5 111.5 1169.2 112.7C1169.8 114 1170.3 112.3 1170.9 115.3C1171.5 118.3 1172 122.9 1172.6 129.1C1173.3 135.3 1174 142.1 1174.7 149.9C1175.4 157.6 1175.8 163.6 1176.5 172.3C1177.1 181 1177.6 189.9 1178.2 198.2C1178.8 206.6 1179.3 211.5 1179.9 219C1180.5 226.5 1181 232.6 1181.6 239.7C1182.3 246.9 1182.9 252.5 1183.7 258.7C1184.5 265 1185.1 269.6 1186 274.3C1186.8 279 1187.5 281.4 1188.5 284.7C1189.6 287.9 1190.8 290.3 1192 292.4C1193.2 294.5 1194.1 295.4 1195.5 296.4C1196.9 297.4 1199 297.8 1199.8 298.1" fill="none" stroke="#000000" stroke-width="2" stroke-linejoin="round"/>
<path d="M1069.3 298.1C1070.2 297.7 1072.8 297.4 1074.5 295.9C1076.2 294.4 1077.4 292.8 1078.8 289.8C1080.2 286.9 1081.2 283.5 1082.3 279.5C1083.4 275.4 1083.9 271.7 1084.9 267.4C1085.8 263 1086.5 259 1087.5 255.3C1088.4 251.5 1089 250.1 1090 246.6C1091.1 243.2 1092.3 240 1093.5 236.3C1094.7 232.5 1095.9 228.7 1097 225.9C1098 223.1 1098.7 222 1099.6 220.7C1100.4 219.5 1101 218.7 1101.8 219C1102.6 219.3 1103.1 220.9 1103.9 222.4C1104.6 224 1105.3 226.4 1105.9 227.6C1106.6 228.9 1107 230 1107.7 229.4C1108.4 228.7 1109 227.3 1109.9 224.2C1110.8 221.1 1111.6 217.1 1112.5 212.1C1113.4 207.1 1114.2 201.8 1115.1 196.5C1116 191.2 1116.9 186.3 1117.7 182.7C1118.5 179.1 1118.7 178 1119.4 176.6C1120.1 175.3 1120.7 175 1121.5 175.4C1122.3 175.9 1122.9 177 1123.7 179.2C1124.6 181.5 1125.2 184.8 1126 187.9C1126.8 191 1127.3 194.3 1128.1 196.5C1128.8 198.8 1129.6 200.3 1130.3 200.3C1131 200.3 1131.4 199.4 1132 196.5C1132.7 193.7 1133.2 188.5 1133.8 184.4C1134.4 180.4 1134.7 176.3 1135.3 174.1C1135.9 171.8 1136.4 171.4 1137.1 172C1137.7 172.6 1138.2 174 1138.8 177.5C1139.4 181 1139.9 186.4 1140.5 191.3C1141.1 196.3 1141.5 199.9 1142.2 205.2C1143 210.4 1143.6 215.7 1144.5 220.7C1145.4 225.7 1146.1 229.4 1147.1 232.8C1148 236.2 1148.7 237.2 1149.7 239.7C1150.6 242.2 1151.3 243.2 1152.3 246.6C1153.2 250.1 1153.9 254.4 1154.9 258.7C1155.8 263.1 1156.5 267.4 1157.4 270.8C1158.4 274.3 1159.2 276.3 1160 277.7C1160.9 279.1 1161.5 278.6 1162.3 278.6C1163.1 278.6 1163.7 277.3 1164.4 277.7C1165 278.2 1165.3 279.3 1166.1 281.2C1166.9 283.1 1167.6 286.2 1168.7 288.1C1169.8 290 1170.9 290.9 1172.1 291.6C1173.4 292.2 1174.3 291.3 1175.6 291.6C1176.8 291.9 1177.6 292.6 1179 293.3C1180.4 294 1181.7 294.7 1183.4 295.4C1185.1 296.1 1186.4 296.6 1188.5 297.1C1190.7 297.6 1194.2 297.9 1195.5 298.1" fill="none" stroke="#f01a1a" stroke-width="1.8" stroke-linejoin="round"/>
<path d="M1067.6 298.1C1068.5 297.7 1071.1 297.7 1072.8 295.9C1074.5 294.1 1075.7 292 1077.1 288.1C1078.5 284.2 1079.5 279.6 1080.5 274.3C1081.6 269 1082.2 264.6 1083.1 258.7C1084.1 252.8 1084.8 246.4 1085.7 241.5C1086.7 236.5 1087.5 234.5 1088.3 231.1C1089.1 227.7 1089.4 226.8 1090 222.4C1090.7 218.1 1091.2 211.9 1091.8 206.9C1092.3 201.9 1092.7 197.7 1093.2 194.8C1093.6 191.9 1093.8 190.7 1094.4 191C1094.9 191.3 1095.6 195.4 1096.1 196.5C1096.6 197.7 1096.8 198.9 1097.3 197.4C1097.8 195.8 1098.2 192.4 1098.7 187.9C1099.2 183.4 1099.6 177.3 1100.1 172.3C1100.5 167.4 1100.8 163 1101.3 160.2C1101.8 157.4 1102.4 157.7 1103 156.8C1103.6 155.8 1104.1 156.6 1104.7 155C1105.4 153.5 1105.8 151.6 1106.5 148.1C1107.1 144.7 1107.6 141 1108.2 136C1108.8 131.1 1109.4 125.1 1109.9 120.5C1110.5 115.8 1110.8 112.6 1111.3 110.1C1111.8 107.6 1112 106.3 1112.5 106.7C1113 107 1113.4 109.4 1113.9 111.8C1114.4 114.3 1114.8 118.5 1115.4 120.5C1116.1 122.5 1117 120.9 1117.7 123.1C1118.4 125.3 1118.8 129.3 1119.4 132.6C1120 135.8 1120.4 138.1 1121.2 141.2C1121.9 144.3 1122.8 146.1 1123.7 149.9C1124.7 153.6 1125.4 157.9 1126.3 162C1127.3 166 1128 168.6 1128.9 172.3C1129.9 176.1 1130.7 178.7 1131.5 182.7C1132.3 186.7 1132.5 191.4 1133.2 194.8C1134 198.2 1135.1 199.5 1135.8 201.7C1136.6 203.9 1136.9 205 1137.6 206.9C1138.2 208.8 1138.7 210.8 1139.3 212.1C1139.9 213.3 1140.4 214.4 1141 213.8C1141.6 213.2 1142 210.8 1142.8 208.6C1143.5 206.4 1144.3 203 1145 201.7C1145.7 200.4 1146.1 200.1 1146.7 201.4C1147.4 202.6 1147.8 205.4 1148.5 208.6C1149.1 211.8 1149.8 215.6 1150.5 219C1151.3 222.4 1151.8 225.1 1152.6 227.6C1153.4 230.1 1154 231.4 1154.9 232.8C1155.7 234.2 1156.4 235.2 1157.1 235.4C1157.8 235.6 1158.2 233.2 1158.8 233.7C1159.4 234.1 1159.9 235.7 1160.6 238C1161.2 240.3 1161.8 243.2 1162.6 246.6C1163.5 250.1 1164.3 253.9 1165.2 257C1166.2 260.1 1166.7 261.4 1167.8 263.9C1168.9 266.4 1169.9 268 1171.3 270.8C1172.7 273.6 1174 276.4 1175.6 279.5C1177.1 282.6 1178.4 285.5 1179.9 288.1C1181.5 290.8 1182.5 292.5 1184.2 294.2C1185.9 295.8 1187.4 296.4 1189.4 297.1C1191.4 297.8 1194.4 297.9 1195.5 298.1" fill="none" stroke="#1c3fa8" stroke-width="1.8" stroke-linejoin="round"/>
<path d="M1068.4 298.1C1069.4 297.7 1071.9 297.7 1073.6 295.9C1075.3 294.1 1076.5 291.7 1077.9 288.1C1079.3 284.5 1080.2 281 1081.4 276C1082.6 271 1083.6 265.4 1084.9 260.5C1086.1 255.5 1087.1 252.4 1088.3 248.4C1089.6 244.3 1090.5 241.3 1091.8 238C1093 234.7 1094.1 232 1095.2 230.2C1096.3 228.4 1096.9 228.4 1097.8 228C1098.8 227.5 1099.5 227.1 1100.4 227.6C1101.3 228.2 1102.1 228.9 1103 231.1C1103.9 233.3 1104.5 236.6 1105.3 239.7C1106 242.8 1106.6 246.7 1107.3 248.4C1108 250.1 1108.4 250.2 1109.1 249.2C1109.7 248.3 1110.4 246.1 1111.1 243.2C1111.9 240.2 1112.5 237.2 1113.4 232.8C1114.2 228.5 1115.1 223 1116 219C1116.8 214.9 1117.3 212.2 1118 210.3C1118.8 208.5 1119.3 208 1119.9 208.6C1120.6 209.2 1121 210.7 1121.7 213.8C1122.4 216.9 1122.9 222.5 1123.7 225.9C1124.6 229.3 1125.6 231.4 1126.3 232.8C1127.1 234.2 1127.4 234.3 1128.1 233.7C1128.7 233.1 1129.4 230.5 1130.1 229.4C1130.9 228.2 1131.6 226.7 1132.4 227.3C1133.2 227.9 1133.9 230.6 1134.6 232.8C1135.4 235.1 1135.9 237.4 1136.7 239.7C1137.5 242.1 1138.4 244.9 1139.3 245.8C1140.2 246.6 1141 245.2 1141.9 244.6C1142.8 243.9 1143.6 242.3 1144.5 242.3C1145.4 242.4 1146 242.9 1146.7 244.9C1147.5 246.9 1148.1 250.1 1148.8 253.5C1149.5 257 1149.8 260.5 1150.5 263.9C1151.3 267.3 1152.2 270.1 1153.1 272.6C1154.1 275 1154.6 276 1155.7 277.7C1156.8 279.5 1157.8 280.5 1159.2 282.1C1160.6 283.6 1161.9 285 1163.5 286.4C1165 287.8 1166.1 288.6 1167.8 289.8C1169.5 291.1 1171.1 292.2 1173 293.3C1174.9 294.4 1176 295.1 1178.2 295.9C1180.4 296.7 1182.6 297.2 1185.1 297.6C1187.6 298 1190.8 298 1192 298.1" fill="none" stroke="#1a9a1a" stroke-width="1.8" stroke-linejoin="round"/>
<rect x="1016.1" y="74.7" width="227.4" height="223.8" fill="none" stroke="#000" stroke-width="2"/>
<path d="M1005.6 298.5h10.5M1011.5 287.9h4.6M1011.5 277.2h4.6M1011.5 266.6h4.6M1005.6 256h10.5M1011.5 245.4h4.6M1011.5 234.7h4.6M1011.5 224.1h4.6M1005.6 213.5h10.5M1011.5 202.8h4.6M1011.5 192.2h4.6M1011.5 181.6h4.6M1005.6 170.9h10.5M1011.5 160.3h4.6M1011.5 149.7h4.6M1011.5 139.1h4.6M1005.6 128.4h10.5M1011.5 117.8h4.6M1011.5 107.2h4.6M1011.5 96.5h4.6M1005.6 85.9h10.5" stroke="#000" stroke-width="2" fill="none"/>
<path d="M1030.7 298.5v11M1067.2 298.5v11M1104.2 298.5v11M1166.5 298.5v11M1220.4 298.5v11M1046.2 298.5v8M1088.2 298.5v8M1149.3 298.5v8M1204.9 298.5v8M1033.3 298.5v5.5M1035.3 298.5v5.5M1037.4 298.5v5.5M1039.2 298.5v5.5M1041.1 298.5v5.5M1043.1 298.5v5.5M1050.1 298.5v5.5M1052.5 298.5v5.5M1054.8 298.5v5.5M1058.7 298.5v5.5M1075 298.5v5.5M1078.1 298.5v5.5M1080.4 298.5v5.5M1083.6 298.5v5.5M1091.3 298.5v5.5M1093.7 298.5v5.5M1096 298.5v5.5M1098.3 298.5v5.5M1100.7 298.5v5.5M1124.5 298.5v5.5M1135.7 298.5v5.5M1143.4 298.5v5.5M1154.3 298.5v5.5M1157.7 298.5v5.5M1160.5 298.5v5.5M1162.9 298.5v5.5M1183.9 298.5v5.5M1193.2 298.5v5.5M1200.2 298.5v5.5M1208.8 298.5v5.5M1211.9 298.5v5.5M1214.7 298.5v5.5M1217.3 298.5v5.5M1236 298.5v5.5" stroke="#000" stroke-width="1.7" fill="none"/>
<rect x="1063.3" y="298.5" width="8.6" height="10.5" fill="#000"/>
<text x="1001.9" y="292.9" font-size="19" text-anchor="end">0</text>
<text x="1001.9" y="260.6" font-size="19" text-anchor="end">20</text>
<text x="1001.9" y="218.1" font-size="19" text-anchor="end">40</text>
<text x="1001.9" y="175.6" font-size="19" text-anchor="end">60</text>
<text x="1001.9" y="133.1" font-size="19" text-anchor="end">80</text>
<text x="1001.9" y="90.6" font-size="19" text-anchor="end">100</text>
<text x="1129.8" y="68.8" font-size="26.3" text-anchor="middle" textLength="66" lengthAdjust="spacingAndGlyphs">8 min</text>
<text x="1074.2" y="339.9" font-size="17.5" text-anchor="middle">0</text>
<text x="1164.3" y="339.9" font-size="17.5">10<tspan font-size="10.8" dy="-13.1">4</tspan></text>
<path d="M1349.3 298.1C1349.8 295.7 1351 293.3 1351.9 284.7C1352.8 276 1353.6 265.6 1354.5 250.1C1355.4 234.5 1356.2 216.9 1357.1 198.2C1358 179.6 1358.7 162.6 1359.7 146.4C1360.6 130.2 1361.4 119 1362.3 108.4C1363.1 97.8 1363.8 92 1364.5 87.6C1365.2 83.3 1365.4 82.6 1366.1 84.2C1366.8 85.7 1367.4 88.2 1368.3 96.3C1369.2 104.4 1370 115.4 1370.9 129.1C1371.8 142.8 1372.6 156.8 1373.5 172.3C1374.4 187.9 1375.2 202.2 1376.1 215.5C1377 228.9 1377.8 236.7 1378.7 246.6C1379.6 256.6 1380.2 263.4 1381.3 270.8C1382.4 278.3 1383.5 283.8 1384.7 288.1C1386 292.5 1386.8 293.2 1388.2 295C1389.6 296.8 1391.7 297.6 1392.5 298.1Z" fill="#c4c4c4"/>
<path d="M1361.4 298.1C1362.2 297.7 1364.2 297.4 1365.7 295.9C1367.3 294.4 1368.6 292.5 1370 289.8C1371.4 287.2 1372.3 284.3 1373.5 281.2C1374.7 278.1 1375.7 275 1377 272.6C1378.2 270.1 1379.3 269.6 1380.4 267.4C1381.5 265.2 1382.1 262.8 1383 260.5C1383.9 258.1 1384.7 255.7 1385.6 254.4C1386.5 253.2 1387.3 254 1388.2 253.5C1389.1 253.1 1389.9 253.4 1390.8 251.8C1391.7 250.3 1392.4 247.4 1393.4 244.9C1394.3 242.4 1395 240 1396 238C1396.9 236 1397.6 234.9 1398.6 233.7C1399.5 232.4 1400.2 231.7 1401.2 231.1C1402.1 230.5 1402.8 230.7 1403.7 230.2C1404.7 229.8 1405.5 231.1 1406.3 228.5C1407.2 225.8 1407.6 221 1408.4 215.5C1409.2 210.1 1409.8 204.5 1410.7 198.2C1411.5 192 1412.2 185.2 1412.9 181C1413.6 176.8 1414 176.2 1414.6 174.9C1415.3 173.7 1415.7 172.7 1416.4 174.1C1417 175.5 1417.7 180.8 1418.4 182.7C1419.1 184.6 1419.5 186.3 1420.2 184.4C1420.8 182.6 1421.3 177.9 1421.9 172.3C1422.5 166.7 1423 157.7 1423.6 153.3C1424.2 149 1424.7 148.1 1425.3 148.1C1426 148.1 1426.6 152.4 1427.4 153.3C1428.2 154.3 1429 153.6 1429.7 153.3C1430.4 153 1430.7 153.5 1431.4 151.6C1432.1 149.7 1432.9 146.1 1433.6 142.9C1434.4 139.8 1434.7 136 1435.4 134.3C1436 132.6 1436.5 132.7 1437.1 133.4C1437.7 134.2 1438.2 140 1438.8 138.6C1439.4 137.2 1439.9 130.5 1440.6 125.7C1441.2 120.8 1441.7 113.7 1442.3 111.8C1442.9 110 1443.3 113.1 1444 115.3C1444.7 117.5 1445.3 122.2 1446.1 123.9C1446.9 125.7 1447.6 123.2 1448.3 124.8C1449.1 126.4 1449.7 127.4 1450.4 132.6C1451.1 137.7 1451.5 144.6 1452.1 153.3C1452.8 162 1453.2 171.9 1453.9 181C1454.5 190 1455 195.7 1455.6 203.4C1456.2 211.2 1456.5 216.4 1457.3 224.2C1458.1 231.9 1459 239.5 1459.9 246.6C1460.8 253.8 1461.6 258.6 1462.5 263.9C1463.4 269.2 1464 272 1465.1 276C1466.2 280.1 1467.3 283.4 1468.5 286.4C1469.8 289.3 1470.4 290.8 1472 292.4C1473.6 294 1475 294.3 1477.2 295.4C1479.4 296.4 1482.9 297.6 1484.1 298.1" fill="none" stroke="#000000" stroke-width="2" stroke-linejoin="round"/>
<path d="M1354.5 298.1C1355.4 297.7 1357.8 297.4 1359.7 295.9C1361.5 294.4 1363.2 293.4 1364.9 289.8C1366.6 286.3 1367.8 281.3 1369.2 276C1370.6 270.7 1371.4 266.1 1372.6 260.5C1373.9 254.9 1374.9 250.5 1376.1 244.9C1377.3 239.3 1378.5 234.6 1379.6 229.4C1380.6 224.1 1381.2 221.1 1382.1 215.5C1383.1 209.9 1383.9 203.5 1384.7 198.2C1385.6 193 1386.3 188.6 1387 186.2C1387.7 183.7 1388.1 183.5 1388.7 184.8C1389.3 186 1389.8 189.1 1390.4 193.1C1391.1 197 1391.5 202.5 1392.2 206.9C1392.9 211.2 1393.4 215.1 1394.2 217.3C1395.1 219.4 1395.9 218 1396.8 218.6C1397.8 219.3 1398.5 219.8 1399.4 220.7C1400.4 221.6 1401.1 224.1 1402 223.8C1402.9 223.5 1403.5 221.1 1404.3 219C1405 216.9 1405.5 213.9 1406.3 212.1C1407.2 210.3 1408.1 209 1408.9 209C1409.8 209 1410.4 210.3 1411.2 212.1C1412 213.9 1412.4 216.5 1413.2 219C1414.1 221.5 1414.9 224.2 1415.8 225.9C1416.8 227.6 1417.5 227.7 1418.4 228.5C1419.4 229.3 1420.1 227.9 1421 230.2C1422 232.6 1422.7 236.9 1423.6 241.5C1424.6 246 1425.3 250 1426.2 255.3C1427.1 260.6 1427.9 266.5 1428.8 270.8C1429.7 275.2 1430.3 277.3 1431.4 279.5C1432.5 281.6 1433.6 282.1 1434.9 282.9C1436.1 283.7 1437.1 283.2 1438.3 283.8C1439.6 284.4 1440.5 285 1441.8 286.4C1443 287.8 1443.8 290.2 1445.2 291.6C1446.6 293 1447.8 293.7 1449.5 294.2C1451.2 294.6 1452.5 293.7 1454.7 294.2C1456.9 294.6 1459.1 296 1461.6 296.8C1464.1 297.5 1467.3 297.9 1468.5 298.1" fill="none" stroke="#f01a1a" stroke-width="1.8" stroke-linejoin="round"/>
<path d="M1347.6 298.1C1348.5 297.9 1350.9 297.9 1352.8 296.8C1354.6 295.6 1356.2 294.7 1357.9 291.6C1359.7 288.5 1360.9 284.8 1362.3 279.5C1363.7 274.2 1364.6 268.4 1365.7 262.2C1366.8 256 1367.4 251.1 1368.3 244.9C1369.3 238.7 1370 233.5 1370.9 227.6C1371.8 221.7 1372.6 217.4 1373.5 212.1C1374.4 206.8 1375.2 202.9 1376.1 198.2C1377 193.6 1377.8 189.9 1378.7 186.2C1379.6 182.4 1380.3 180.9 1381.3 177.5C1382.2 174.1 1383.1 171.5 1383.9 167.1C1384.6 162.8 1385 159.5 1385.6 153.3C1386.2 147.1 1386.7 138.5 1387.3 132.6C1387.9 126.7 1388.5 121.7 1389.1 120.5C1389.6 119.2 1389.9 122.6 1390.4 125.7C1391 128.8 1391.5 132.8 1392.2 137.8C1392.8 142.7 1393.3 147.4 1393.9 153.3C1394.5 159.2 1395 165.2 1395.6 170.6C1396.2 176 1396.7 182.3 1397.4 183.6C1398 184.8 1398.5 180.8 1399.1 177.5C1399.7 174.2 1400.2 168.4 1400.8 165.4C1401.4 162.5 1401.9 161.1 1402.5 161.1C1403.2 161.1 1403.6 162.5 1404.3 165.4C1404.9 168.4 1405.4 173.5 1406 177.5C1406.6 181.6 1407.1 185.7 1407.7 187.9C1408.3 190.1 1408.8 189.8 1409.4 189.6C1410.1 189.5 1410.6 186.4 1411.2 187C1411.8 187.6 1412.3 190.1 1412.9 193.1C1413.5 196 1413.9 200.6 1414.6 203.4C1415.3 206.2 1415.9 207.8 1416.7 208.6C1417.5 209.4 1418.5 207.1 1419.3 207.8C1420.1 208.4 1420.4 209.4 1421 212.1C1421.6 214.7 1422 219 1422.8 222.4C1423.5 225.9 1424.1 228.9 1425 231.1C1425.9 233.3 1426.9 233 1427.9 234.5C1428.9 236.1 1429.6 237.2 1430.5 239.7C1431.5 242.2 1432.2 244.9 1433.1 248.4C1434.1 251.8 1434.8 255.3 1435.7 258.7C1436.6 262.2 1437.2 264.6 1438.3 267.4C1439.4 270.2 1440.5 272.1 1441.8 274.3C1443 276.5 1444 277.6 1445.2 279.5C1446.5 281.3 1447.3 282.6 1448.7 284.7C1450.1 286.7 1451.3 289 1453 290.7C1454.7 292.4 1456 293.2 1458.2 294.2C1460.4 295.1 1462.3 295.2 1465.1 295.9C1467.9 296.6 1472.2 297.7 1473.7 298.1" fill="none" stroke="#1c3fa8" stroke-width="1.8" stroke-linejoin="round"/>
<path d="M1351 298.1C1352 297.9 1354.4 297.6 1356.2 296.8C1358.1 295.9 1359.7 295.8 1361.4 293.3C1363.1 290.8 1364.3 287.6 1365.7 282.9C1367.1 278.3 1368.1 273.3 1369.2 267.4C1370.3 261.5 1370.8 255.7 1371.8 250.1C1372.7 244.5 1373.4 239.5 1374.4 236.3C1375.3 233 1376 233 1377 231.9C1377.9 230.9 1378.7 231.9 1379.6 230.2C1380.4 228.5 1381 225.7 1381.8 222.4C1382.6 219.2 1383 215.3 1383.9 212.1C1384.7 208.8 1385.5 206.2 1386.5 204.3C1387.4 202.4 1388 203.1 1389.1 201.7C1390.1 200.3 1391.3 198.4 1392.5 196.5C1393.8 194.7 1394.7 193 1396 191.3C1397.2 189.6 1398.2 188.2 1399.4 187C1400.6 185.8 1401.6 184.3 1402.5 184.8C1403.5 185.2 1403.8 187.2 1404.6 189.6C1405.4 192 1406.3 195.9 1407.2 198.2C1408.1 200.6 1408.7 201.3 1409.8 202.6C1410.9 203.8 1412 203.8 1413.2 205.2C1414.5 206.6 1415.6 207.9 1416.7 210.3C1417.8 212.8 1418.4 214.9 1419.3 219C1420.2 223 1420.8 227.8 1421.5 232.8C1422.3 237.8 1422.8 242.6 1423.6 246.6C1424.5 250.7 1425.3 253.3 1426.2 255.3C1427.1 257.3 1427.9 257.6 1428.8 257.9C1429.7 258.2 1430.3 257.3 1431.4 257C1432.5 256.7 1433.8 255.2 1434.9 256.1C1435.9 257.1 1436.4 259.5 1437.4 262.2C1438.5 264.8 1439.7 268 1440.9 270.8C1442.1 273.6 1443.1 275.6 1444.4 277.7C1445.6 279.9 1446.4 280.7 1447.8 282.9C1449.2 285.1 1450.6 287.5 1452.1 289.8C1453.7 292.2 1454.9 294.4 1456.5 295.9C1458 297.4 1460 297.7 1460.8 298.1" fill="none" stroke="#1a9a1a" stroke-width="1.8" stroke-linejoin="round"/>
<rect x="1298.3" y="74.7" width="227.3" height="223.8" fill="none" stroke="#000" stroke-width="2"/>
<path d="M1287.8 298.5h10.5M1293.7 287.9h4.6M1293.7 277.2h4.6M1293.7 266.6h4.6M1287.8 256h10.5M1293.7 245.4h4.6M1293.7 234.7h4.6M1293.7 224.1h4.6M1287.8 213.5h10.5M1293.7 202.8h4.6M1293.7 192.2h4.6M1293.7 181.6h4.6M1287.8 170.9h10.5M1293.7 160.3h4.6M1293.7 149.7h4.6M1293.7 139.1h4.6M1287.8 128.4h10.5M1293.7 117.8h4.6M1293.7 107.2h4.6M1293.7 96.5h4.6M1287.8 85.9h10.5" stroke="#000" stroke-width="2" fill="none"/>
<path d="M1312.9 298.5v11M1349.4 298.5v11M1386.4 298.5v11M1448.7 298.5v11M1502.6 298.5v11M1328.4 298.5v8M1370.4 298.5v8M1431.5 298.5v8M1487.1 298.5v8M1315.5 298.5v5.5M1317.5 298.5v5.5M1319.6 298.5v5.5M1321.4 298.5v5.5M1323.3 298.5v5.5M1325.3 298.5v5.5M1332.3 298.5v5.5M1334.7 298.5v5.5M1337 298.5v5.5M1340.9 298.5v5.5M1357.2 298.5v5.5M1360.3 298.5v5.5M1362.6 298.5v5.5M1365.8 298.5v5.5M1373.5 298.5v5.5M1375.9 298.5v5.5M1378.2 298.5v5.5M1380.5 298.5v5.5M1382.9 298.5v5.5M1406.7 298.5v5.5M1417.9 298.5v5.5M1425.6 298.5v5.5M1436.5 298.5v5.5M1439.9 298.5v5.5M1442.7 298.5v5.5M1445.1 298.5v5.5M1466.1 298.5v5.5M1475.4 298.5v5.5M1482.4 298.5v5.5M1491 298.5v5.5M1494.1 298.5v5.5M1496.9 298.5v5.5M1499.5 298.5v5.5M1518.2 298.5v5.5" stroke="#000" stroke-width="1.7" fill="none"/>
<rect x="1345.5" y="298.5" width="8.6" height="10.5" fill="#000"/>
<text x="1284.1" y="292.9" font-size="19" text-anchor="end">0</text>
<text x="1284.1" y="260.6" font-size="19" text-anchor="end">20</text>
<text x="1284.1" y="218.1" font-size="19" text-anchor="end">40</text>
<text x="1284.1" y="175.6" font-size="19" text-anchor="end">60</text>
<text x="1284.1" y="133.1" font-size="19" text-anchor="end">80</text>
<text x="1284.1" y="90.6" font-size="19" text-anchor="end">100</text>
<text x="1415.7" y="68.8" font-size="26.3" text-anchor="middle" textLength="79.5" lengthAdjust="spacingAndGlyphs">15 min</text>
<text x="1356.4" y="339.9" font-size="17.5" text-anchor="middle">0</text>
<text x="1446.5" y="339.9" font-size="17.5">10<tspan font-size="10.8" dy="-13.1">4</tspan></text>
<path d="M1630.2 298.1C1630.6 295.7 1631.8 293.3 1632.8 284.7C1633.7 276 1634.4 265.6 1635.4 250.1C1636.3 234.5 1637 216.9 1637.9 198.2C1638.9 179.6 1639.6 162.6 1640.5 146.4C1641.5 130.2 1642.3 118.7 1643.1 108.4C1644 98.1 1644.5 93.6 1645.2 89.4C1645.9 85.1 1646.4 83.8 1647.1 84.7C1647.8 85.6 1648.3 86.6 1649.2 94.6C1650 102.6 1650.8 115.1 1651.8 129.1C1652.7 143.1 1653.4 156.8 1654.4 172.3C1655.3 187.9 1656 202.2 1657 215.5C1657.9 228.9 1658.6 236.7 1659.6 246.6C1660.5 256.6 1661.1 263.4 1662.1 270.8C1663.2 278.3 1664.2 283.8 1665.6 288.1C1667 292.5 1668.1 293.2 1669.9 295C1671.8 296.8 1674.9 297.6 1676 298.1Z" fill="#c4c4c4"/>
<path d="M1637.9 298.1C1638.7 297.7 1640.7 297.2 1642.3 295.9C1643.8 294.5 1645.2 293 1646.6 290.7C1648 288.4 1648.9 285.6 1650 282.9C1651.2 280.3 1652.1 277.3 1653.2 276C1654.2 274.7 1655.1 275.8 1656.1 275.7C1657.1 275.5 1657.8 276.6 1658.7 275.1C1659.5 273.7 1660 271 1660.8 267.4C1661.5 263.8 1662.1 258.9 1663 255.3C1663.9 251.7 1664.8 248.7 1665.6 247.5C1666.4 246.3 1666.9 248.7 1667.7 248.4C1668.5 248.1 1669.1 247.9 1669.9 245.8C1670.7 243.6 1671.4 240.5 1672.2 236.3C1672.9 232.1 1673.5 226.6 1674.2 222.4C1675 218.2 1675.5 214.2 1676.3 212.9C1677.1 211.7 1677.8 215.7 1678.6 215.5C1679.3 215.4 1679.7 214.6 1680.3 212.1C1680.9 209.6 1681.2 204.7 1682 201.7C1682.8 198.7 1683.6 197.3 1684.6 195.7C1685.6 194 1686.8 193 1687.7 192.7C1688.7 192.4 1689 194.2 1689.8 193.9C1690.6 193.7 1691.6 194.3 1692.4 191.3C1693.2 188.4 1693.4 181.4 1694.1 177.5C1694.8 173.6 1695.6 170.7 1696.4 169.7C1697.1 168.8 1697.4 170.3 1698.1 172.3C1698.8 174.3 1699.4 180 1700.2 181C1700.9 181.9 1701.5 179.4 1702.2 177.5C1703 175.6 1703.7 174.3 1704.5 170.6C1705.3 166.9 1706 163.6 1706.7 156.8C1707.4 149.9 1707.8 140.7 1708.5 132.6C1709.1 124.5 1709.6 115.9 1710.2 111.8C1710.8 107.7 1711.3 108.5 1711.9 109.8C1712.5 111 1713 116.2 1713.6 118.8C1714.2 121.3 1714.6 125.2 1715.2 123.9C1715.8 122.7 1716.4 112.5 1717.1 111.8C1717.8 111.2 1718.2 116.8 1718.8 120.5C1719.4 124.2 1719.9 130.5 1720.6 132.6C1721.2 134.7 1721.7 130.7 1722.3 132.2C1722.9 133.8 1723.3 135.6 1724 141.2C1724.7 146.9 1725.2 155.9 1726.1 163.7C1726.9 171.5 1727.7 177 1728.7 184.4C1729.6 191.9 1730.3 197.1 1731.3 205.2C1732.2 213.2 1732.9 221.6 1733.9 229.4C1734.8 237.1 1735.4 242.1 1736.5 248.4C1737.5 254.6 1738.7 258.3 1739.9 263.9C1741.2 269.5 1742.1 274.6 1743.4 279.5C1744.6 284.3 1745.4 288 1746.8 290.7C1748.2 293.4 1749.3 293.5 1751.1 294.7C1753 295.8 1755.2 296.5 1757.2 297.1C1759.2 297.7 1761.4 297.9 1762.4 298.1" fill="none" stroke="#000000" stroke-width="2" stroke-linejoin="round"/>
<path d="M1635.4 298.1C1636.3 297.6 1638.8 296.8 1640.5 295C1642.3 293.2 1643.5 291.5 1644.9 288.1C1646.3 284.7 1647.2 280.7 1648.3 276C1649.4 271.3 1650 266.5 1650.9 262.2C1651.8 257.8 1652.4 254.5 1653.2 251.8C1653.9 249.2 1654.4 248.1 1655.2 247.5C1656.1 246.9 1656.9 248.5 1657.8 248.4C1658.8 248.2 1659.5 247.4 1660.4 246.6C1661.3 245.9 1661.9 245 1663 244C1664.1 243.1 1665.4 243.5 1666.5 241.5C1667.5 239.4 1667.9 237.5 1668.7 232.8C1669.5 228.1 1670.1 220.8 1670.8 215.5C1671.5 210.2 1671.7 206.5 1672.5 203.4C1673.3 200.4 1674.2 199.4 1675.1 198.6C1676 197.8 1676.9 198.2 1677.7 199.1C1678.5 200 1679 202.5 1679.8 203.4C1680.5 204.4 1681.2 205.1 1682 204.3C1682.8 203.5 1683.5 200.1 1684.3 199.1C1685 198.1 1685.6 197.2 1686.3 198.6C1687.1 200 1687.6 203.8 1688.4 206.9C1689.2 209.9 1689.9 213.6 1690.7 215.5C1691.4 217.5 1691.8 217.9 1692.4 217.6C1693 217.3 1693.5 214.8 1694.1 213.8C1694.7 212.8 1695.2 211.1 1695.8 212.1C1696.5 213 1696.9 215.6 1697.6 219C1698.2 222.4 1698.5 227.2 1699.3 231.1C1700.1 235 1701 238.7 1701.9 240.6C1702.8 242.5 1703.5 240.1 1704.5 241.5C1705.4 242.9 1706.1 245.6 1707.1 248.4C1708 251.2 1708.7 254.2 1709.7 257C1710.6 259.8 1711.2 261.1 1712.3 263.9C1713.3 266.7 1714.5 269.8 1715.7 272.6C1717 275.4 1717.8 277.3 1719.2 279.5C1720.6 281.6 1721.9 283.1 1723.5 284.7C1725 286.2 1726.1 286.7 1727.8 288.1C1729.5 289.5 1731.1 291.4 1733 292.4C1734.9 293.4 1736.2 293.3 1738.2 293.6C1740.2 294 1742.1 293.6 1744.2 294.2C1746.4 294.7 1748.3 296 1750.3 296.8C1752.3 297.5 1754.5 297.9 1755.5 298.1" fill="none" stroke="#f01a1a" stroke-width="1.8" stroke-linejoin="round"/>
<path d="M1631 298.1C1632 297.7 1634.5 297.7 1636.2 295.9C1637.9 294.1 1639.1 292 1640.5 288.1C1641.9 284.2 1642.9 279.6 1644 274.3C1645.1 269 1645.7 263.7 1646.6 258.7C1647.5 253.8 1648.3 250.4 1649.2 246.6C1650.1 242.9 1650.7 241.7 1651.4 238C1652.2 234.3 1652.7 231.2 1653.5 225.9C1654.3 220.6 1655.2 214.8 1656.1 208.6C1657 202.4 1657.8 197.9 1658.7 191.3C1659.5 184.8 1660 177.9 1660.8 172.3C1661.5 166.7 1662.1 163.3 1663 160.2C1663.9 157.1 1664.7 157.5 1665.6 155C1666.5 152.6 1667.3 150.4 1668.2 146.4C1669.1 142.4 1669.7 136.6 1670.4 132.6C1671.2 128.5 1671.6 124.9 1672.2 123.9C1672.7 123 1672.9 124 1673.4 127.4C1673.8 130.8 1674.3 137.4 1674.8 142.9C1675.2 148.5 1675.4 153.2 1676 158.5C1676.5 163.8 1676.9 168.3 1677.7 172.3C1678.5 176.4 1679.4 177.9 1680.3 181C1681.2 184.1 1682.1 187.3 1682.9 189.6C1683.7 191.9 1684 194.2 1684.6 193.9C1685.2 193.6 1685.7 190.1 1686.3 187.9C1687 185.7 1687.7 182.1 1688.4 181.8C1689.1 181.5 1689.5 183.2 1690.1 186.2C1690.8 189.1 1691.2 194.5 1691.9 198.2C1692.5 202 1692.9 205 1693.6 206.9C1694.3 208.8 1695 208.7 1695.8 209C1696.7 209.3 1697.5 207.7 1698.4 208.6C1699.4 209.5 1700.1 211.3 1701 213.8C1702 216.3 1702.7 220 1703.6 222.4C1704.6 224.9 1705.3 226.6 1706.2 227.6C1707.1 228.6 1707.9 226.7 1708.8 228C1709.7 229.2 1710.5 231.8 1711.4 234.5C1712.3 237.3 1713.1 240.4 1714 243.2C1714.9 246 1715.6 247.3 1716.6 250.1C1717.5 252.9 1718.2 255.3 1719.2 258.7C1720.1 262.2 1720.8 265.4 1721.8 269.1C1722.7 272.8 1723.3 276 1724.4 279.5C1725.4 282.9 1726.4 285.6 1727.8 288.1C1729.2 290.6 1730.3 291.8 1732.1 293.3C1734 294.8 1735.8 295.5 1738.2 296.4C1740.5 297.3 1743.8 297.8 1745.1 298.1" fill="none" stroke="#1c3fa8" stroke-width="1.8" stroke-linejoin="round"/>
<path d="M1631 298.1C1632 297.6 1634.7 297.1 1636.2 295C1637.8 292.9 1638.6 290.4 1639.7 286.4C1640.8 282.3 1641.4 277.8 1642.3 272.6C1643.1 267.3 1643.7 261.2 1644.5 257C1645.3 252.8 1645.8 251.1 1646.6 249.2C1647.4 247.4 1648.2 247.4 1649.2 246.6C1650.1 245.9 1651 246.5 1651.8 244.9C1652.6 243.4 1652.9 241.7 1653.5 238C1654.1 234.3 1654.5 230.4 1655.2 224.2C1656 217.9 1656.9 210 1657.8 203.4C1658.8 196.9 1659.5 192.2 1660.4 187.9C1661.3 183.5 1662.1 182 1663 179.2C1663.9 176.4 1664.8 174.7 1665.6 172.3C1666.4 170 1667.1 167.6 1667.7 166.3C1668.3 165 1668.5 164 1669.1 165.1C1669.6 166.2 1670.2 167.9 1670.8 172.3C1671.4 176.7 1671.9 182.5 1672.5 189.6C1673.1 196.8 1673.6 205.2 1674.2 212.1C1674.9 218.9 1675.3 223 1676 227.6C1676.6 232.3 1677.1 235.8 1677.7 238C1678.3 240.2 1678.6 241 1679.4 239.7C1680.2 238.5 1681.1 233.3 1682 231.1C1682.9 228.8 1683.5 227.3 1684.3 227.3C1685 227.3 1685.6 229.5 1686.3 231.1C1687.1 232.7 1687.6 236.3 1688.4 236.3C1689.2 236.3 1689.8 233.1 1690.7 231.1C1691.5 229.1 1692.3 226.4 1693.2 225C1694.2 223.6 1694.8 223.8 1695.8 223.3C1696.8 222.8 1697.8 221.3 1698.8 222.1C1699.7 222.9 1700.2 224.8 1701 227.6C1701.8 230.5 1702.5 234.3 1703.3 238C1704 241.7 1704.5 245.3 1705.3 248.4C1706.2 251.5 1707 253.6 1707.9 255.3C1708.9 257 1709.6 256 1710.5 257.9C1711.5 259.7 1712.2 263 1713.1 265.6C1714.1 268.3 1714.6 269.8 1715.7 272.6C1716.8 275.4 1717.8 278.4 1719.2 281.2C1720.6 284 1721.9 285.9 1723.5 288.1C1725 290.3 1726.1 291.8 1727.8 293.3C1729.5 294.8 1730.8 295.5 1733 296.4C1735.2 297.3 1738.7 297.8 1739.9 298.1" fill="none" stroke="#1a9a1a" stroke-width="1.8" stroke-linejoin="round"/>
<rect x="1579.2" y="74.7" width="227.7" height="223.8" fill="none" stroke="#000" stroke-width="2"/>
<path d="M1568.7 298.5h10.5M1574.6 287.9h4.6M1574.6 277.2h4.6M1574.6 266.6h4.6M1568.7 256h10.5M1574.6 245.4h4.6M1574.6 234.7h4.6M1574.6 224.1h4.6M1568.7 213.5h10.5M1574.6 202.8h4.6M1574.6 192.2h4.6M1574.6 181.6h4.6M1568.7 170.9h10.5M1574.6 160.3h4.6M1574.6 149.7h4.6M1574.6 139.1h4.6M1568.7 128.4h10.5M1574.6 117.8h4.6M1574.6 107.2h4.6M1574.6 96.5h4.6M1568.7 85.9h10.5" stroke="#000" stroke-width="2" fill="none"/>
<path d="M1593.8 298.5v11M1630.3 298.5v11M1667.3 298.5v11M1729.6 298.5v11M1783.5 298.5v11M1609.3 298.5v8M1651.3 298.5v8M1712.4 298.5v8M1768 298.5v8M1596.4 298.5v5.5M1598.4 298.5v5.5M1600.5 298.5v5.5M1602.3 298.5v5.5M1604.2 298.5v5.5M1606.2 298.5v5.5M1613.2 298.5v5.5M1615.6 298.5v5.5M1617.9 298.5v5.5M1621.8 298.5v5.5M1638.1 298.5v5.5M1641.2 298.5v5.5M1643.5 298.5v5.5M1646.7 298.5v5.5M1654.4 298.5v5.5M1656.8 298.5v5.5M1659.1 298.5v5.5M1661.4 298.5v5.5M1663.8 298.5v5.5M1687.6 298.5v5.5M1698.8 298.5v5.5M1706.5 298.5v5.5M1717.4 298.5v5.5M1720.8 298.5v5.5M1723.6 298.5v5.5M1726 298.5v5.5M1747 298.5v5.5M1756.3 298.5v5.5M1763.3 298.5v5.5M1771.9 298.5v5.5M1775 298.5v5.5M1777.8 298.5v5.5M1780.4 298.5v5.5M1799.1 298.5v5.5" stroke="#000" stroke-width="1.7" fill="none"/>
<rect x="1626.4" y="298.5" width="8.6" height="10.5" fill="#000"/>
<text x="1565" y="292.9" font-size="19" text-anchor="end">0</text>
<text x="1565" y="260.6" font-size="19" text-anchor="end">20</text>
<text x="1565" y="218.1" font-size="19" text-anchor="end">40</text>
<text x="1565" y="175.6" font-size="19" text-anchor="end">60</text>
<text x="1565" y="133.1" font-size="19" text-anchor="end">80</text>
<text x="1565" y="90.6" font-size="19" text-anchor="end">100</text>
<text x="1695.8" y="68.8" font-size="26.3" text-anchor="middle" textLength="81" lengthAdjust="spacingAndGlyphs">30 min</text>
<text x="1637.3" y="339.9" font-size="17.5" text-anchor="middle">0</text>
<text x="1727.4" y="339.9" font-size="17.5">10<tspan font-size="10.8" dy="-13.1">4</tspan></text>
<text x="108.3" y="181" font-size="26.3" text-anchor="middle" transform="rotate(-90 108.3 181)" textLength="177" lengthAdjust="spacingAndGlyphs">relative counts</text>
<text x="212.2" y="367.9" font-size="26.3" textLength="123" lengthAdjust="spacingAndGlyphs">pSyk(Y<tspan font-size="15.8" dy="-9.5">352</tspan><tspan dy="9.5">)</tspan></text>
<rect x="1007.8" y="354.8" width="43.3" height="21.4" fill="#c4c4c4"/>
<text x="1062.9" y="372.8" font-size="26.3" textLength="193" lengthAdjust="spacingAndGlyphs">negative control</text>
<line x1="1292.7" y1="361.8" x2="1336.6" y2="361.8" stroke="#000" stroke-width="3.4"/>
<text x="1359.1" y="370" font-size="26.3" textLength="37.9" lengthAdjust="spacingAndGlyphs">HD</text>
<line x1="1423.7" y1="361.8" x2="1467.5" y2="361.8" stroke="#e8442a" stroke-width="3.4"/>
<text x="1488.4" y="370" font-size="26.3" textLength="50.2" lengthAdjust="spacingAndGlyphs">SLE</text>
<line x1="1572.3" y1="361.8" x2="1616.1" y2="361.8" stroke="#1c3fa8" stroke-width="3.4"/>
<text x="1633.8" y="370" font-size="26.3" textLength="36.9" lengthAdjust="spacingAndGlyphs">RA</text>
<line x1="1697.4" y1="361.8" x2="1741.2" y2="361.8" stroke="#1a8a3a" stroke-width="3.4"/>
<text x="1761.1" y="370" font-size="26.3" textLength="49.1" lengthAdjust="spacingAndGlyphs">pSS</text>
</g>
<g id="panelBCD">
<text x="9.4" y="378.6" font-size="30" font-weight="bold" textLength="22" lengthAdjust="spacingAndGlyphs">B</text>
<text x="8.8" y="708.8" font-size="30" font-weight="bold" textLength="22" lengthAdjust="spacingAndGlyphs">C</text>
<text x="7.8" y="999" font-size="30" font-weight="bold" textLength="22" lengthAdjust="spacingAndGlyphs">D</text>
<g>
<path d="M168.5 386.6V663H582.4M159 387.6h9.5M159 479.4h9.5M159 571.2h9.5M159 663h9.5M168.5 663v9M195.4 663v9M236.3 663v9M278 663v9M374.6 663v9M581.4 663v9" stroke="#000" stroke-width="2" fill="none"/>
<text x="154.3" y="394.3" font-size="19" text-anchor="end">6,000</text>
<text x="154.3" y="486.1" font-size="19" text-anchor="end">4,000</text>
<text x="154.3" y="577.9" font-size="19" text-anchor="end">2,000</text>
<text x="154.3" y="669.7" font-size="19" text-anchor="end">0</text>
<text x="168" y="690.7" font-size="19" text-anchor="middle">0</text>
<text x="194.9" y="690.7" font-size="19" text-anchor="middle">2</text>
<text x="235.8" y="690.7" font-size="19" text-anchor="middle">5</text>
<text x="277.5" y="690.7" font-size="19" text-anchor="middle">8</text>
<text x="374.1" y="690.7" font-size="19" text-anchor="middle">15</text>
<text x="580.9" y="690.7" font-size="19" text-anchor="middle">30</text>
<path d="M195.4 536.2V559.8M187.6 536.2h15.5M187.6 559.8h15.5M236.3 511.2V548M228.6 511.2h15.5M228.6 548h15.5M278 528.1V554.3M270.2 528.1h15.5M270.2 554.3h15.5M374.6 531.4V560.9M366.8 531.4h15.5M366.8 560.9h15.5M581.4 552.1V573.8M573.6 552.1h15.5M573.6 573.8h15.5" stroke="#000000" stroke-width="2" fill="none"/>
<circle cx="168.5" cy="620.6" r="7.5" fill="#000000"/>
<circle cx="195.4" cy="548.4" r="7.5" fill="#000000"/>
<circle cx="236.3" cy="529.6" r="7.5" fill="#000000"/>
<circle cx="278" cy="541.4" r="7.5" fill="#000000"/>
<circle cx="374.6" cy="545.8" r="7.5" fill="#000000"/>
<circle cx="581.4" cy="562.8" r="7.5" fill="#000000"/>
<path d="M168.5 620.6L195.4 548.4L236.3 529.6L278 541.4L374.6 545.8L581.4 562.8" stroke="#000000" stroke-width="1.9" fill="none" stroke-linejoin="round"/>
<path d="M195.4 451.4V468M195.4 482V497.9M187.6 451.4h15.5M187.6 497.9h15.5M236.3 433.7V460.6M236.3 474.6V500.1M228.6 433.7h15.5M228.6 500.1h15.5M278 466.9V482.8M278 496.8V512.6M270.2 466.9h15.5M270.2 512.6h15.5M374.6 468.4V489M374.6 503V523.7M366.8 468.4h15.5M366.8 523.7h15.5M581.4 502.3V514.5M581.4 528.5V540.6M573.6 502.3h15.5M573.6 540.6h15.5" stroke="#000000" stroke-width="2" fill="none"/>
<circle cx="168.5" cy="611.4" r="6.5" fill="none" stroke="#000000" stroke-width="2"/>
<circle cx="195.4" cy="475" r="6.5" fill="none" stroke="#000000" stroke-width="2"/>
<circle cx="236.3" cy="467.6" r="6.5" fill="none" stroke="#000000" stroke-width="2"/>
<circle cx="278" cy="489.8" r="6.5" fill="none" stroke="#000000" stroke-width="2"/>
<circle cx="374.6" cy="496" r="6.5" fill="none" stroke="#000000" stroke-width="2"/>
<circle cx="581.4" cy="521.5" r="6.5" fill="none" stroke="#000000" stroke-width="2"/>
<path d="M168.5 611.4L170.2 602.6M173.5 586.2L177 568.5M180.2 552.1L183.7 534.4M186.9 518L190.4 500.3M193.6 483.9L195.4 475M195.4 475L206 473.1M225.7 469.6L236.3 467.6M236.3 467.6L247.1 473.4M267.1 484L278 489.8M278 489.8L286.3 490.3M301.8 491.3L318.5 492.4M334 493.4L350.7 494.5M366.2 495.5L374.6 496M374.6 496L385.3 497.4M405.2 499.8L426.7 502.4M446.5 504.9L468 507.5M487.9 510L509.4 512.6M529.3 515.1L550.8 517.7M570.6 520.2L581.4 521.5" stroke="#000000" stroke-width="1.9" fill="none"/>
<path d="M168.5 631V645.7M160.7 631h15.5M160.7 645.7h15.5M195.4 577.5V601.5M187.6 577.5h15.5M187.6 601.5h15.5M236.3 562.8V601.5M228.6 562.8h15.5M228.6 601.5h15.5M278 567.2V606.3M270.2 567.2h15.5M270.2 606.3h15.5M374.6 573.8V610M366.8 573.8h15.5M366.8 610h15.5M581.4 588.6V612.5M573.6 588.6h15.5M573.6 612.5h15.5" stroke="#e31e24" stroke-width="2" fill="none"/>
<circle cx="168.5" cy="637.2" r="7.5" fill="#e31e24"/>
<circle cx="195.4" cy="589.3" r="7.5" fill="#e31e24"/>
<circle cx="236.3" cy="582.3" r="7.5" fill="#e31e24"/>
<circle cx="278" cy="586.4" r="7.5" fill="#e31e24"/>
<circle cx="374.6" cy="591.5" r="7.5" fill="#e31e24"/>
<circle cx="581.4" cy="600" r="7.5" fill="#e31e24"/>
<path d="M168.5 637.2L195.4 589.3L236.3 582.3L278 586.4L374.6 591.5L581.4 600" stroke="#e31e24" stroke-width="1.9" fill="none" stroke-linejoin="round"/>
<path d="M195.4 558.3V571.2M195.4 585.2V598.9M187.6 558.3h15.5M187.6 598.9h15.5M236.3 562.8V574.2M236.3 588.2V599.6M228.6 562.8h15.5M228.6 599.6h15.5M278 566.5V575.3M278 589.3V599.6M270.2 566.5h15.5M270.2 599.6h15.5M374.6 574.6V580.8M374.6 594.8V601.5M366.8 574.6h15.5M366.8 601.5h15.5M581.4 580.5V585.3M581.4 599.3V603.3M573.6 580.5h15.5M573.6 603.3h15.5" stroke="#e31e24" stroke-width="2" fill="none"/>
<circle cx="168.5" cy="631" r="6.5" fill="none" stroke="#e31e24" stroke-width="2"/>
<circle cx="195.4" cy="578.2" r="6.5" fill="none" stroke="#e31e24" stroke-width="2"/>
<circle cx="236.3" cy="581.2" r="6.5" fill="none" stroke="#e31e24" stroke-width="2"/>
<circle cx="278" cy="582.3" r="6.5" fill="none" stroke="#e31e24" stroke-width="2"/>
<circle cx="374.6" cy="587.8" r="6.5" fill="none" stroke="#e31e24" stroke-width="2"/>
<circle cx="581.4" cy="592.3" r="6.5" fill="none" stroke="#e31e24" stroke-width="2"/>
<path d="M168.5 631L172 624.1M178.4 611.5L185.4 597.8M191.9 585.1L195.4 578.2M195.4 578.2L206 579M225.7 580.4L236.3 581.2M236.3 581.2L247.1 581.5M267.1 582L278 582.3M278 582.3L286.3 582.8M301.8 583.7L318.5 584.6M334 585.5L350.7 586.5M366.2 587.4L374.6 587.8M374.6 587.8L385.3 588.1M405.2 588.5L426.7 588.9M446.5 589.4L468 589.8M487.9 590.3L509.4 590.7M529.3 591.1L550.8 591.6M570.6 592L581.4 592.3" stroke="#e31e24" stroke-width="1.9" fill="none"/>
<text transform="translate(198 453.8) scale(1.15 1)" x="-25.8" y="0" font-size="31" letter-spacing="1.2" stroke="#000" stroke-width="0.5">****</text>
<text transform="translate(235.9 434.2) scale(1.15 1)" x="-25.8" y="0" font-size="31" letter-spacing="1.2" stroke="#000" stroke-width="0.5">****</text>
<text transform="translate(280.2 473.3) scale(1.15 1)" x="-25.8" y="0" font-size="31" letter-spacing="1.2" stroke="#000" stroke-width="0.5">****</text>
<text transform="translate(374.6 473.3) scale(1.15 1)" x="-25.8" y="0" font-size="31" letter-spacing="1.2" stroke="#000" stroke-width="0.5">****</text>
<text transform="translate(579.5 506.9) scale(1.15 1)" x="-25.8" y="0" font-size="31" letter-spacing="1.2" stroke="#000" stroke-width="0.5">****</text>
<text transform="translate(237.1 629.6) scale(1.15 1)" x="-25.8" y="0" font-size="31" letter-spacing="1.2" stroke="#000" stroke-width="0.5">****</text>
<text transform="translate(203.9 644.4) scale(1.15 1)" x="-19.2" y="0" font-size="31" letter-spacing="1.2" stroke="#000" stroke-width="0.5">***</text>
<text transform="translate(280.9 645.5) scale(1.15 1)" x="-25.8" y="0" font-size="31" letter-spacing="1.2" stroke="#000" stroke-width="0.5">****</text>
<text transform="translate(374.6 643.3) scale(1.15 1)" x="-25.8" y="0" font-size="31" letter-spacing="1.2" stroke="#000" stroke-width="0.5">****</text>
<text transform="translate(579.9 643.3) scale(1.15 1)" x="-12.6" y="0" font-size="31" letter-spacing="1.2" stroke="#000" stroke-width="0.5">**</text>
</g>
<g>
<path d="M784.9 387.8V662.3H1195.5M775.4 388.8h9.5M775.4 480.2h9.5M775.4 571.2h9.5M775.4 662.3h9.5M784.9 662.3v9M812.2 662.3v9M853.1 662.3v9M894 662.3v9M989.9 662.3v9M1194.5 662.3v9" stroke="#000" stroke-width="2" fill="none"/>
<text x="770.7" y="395.5" font-size="19" text-anchor="end">6,000</text>
<text x="770.7" y="486.9" font-size="19" text-anchor="end">4,000</text>
<text x="770.7" y="577.9" font-size="19" text-anchor="end">2,000</text>
<text x="770.7" y="669" font-size="19" text-anchor="end">0</text>
<text x="784.4" y="690" font-size="19" text-anchor="middle">0</text>
<text x="811.7" y="690" font-size="19" text-anchor="middle">2</text>
<text x="852.6" y="690" font-size="19" text-anchor="middle">5</text>
<text x="893.5" y="690" font-size="19" text-anchor="middle">8</text>
<text x="989.4" y="690" font-size="19" text-anchor="middle">15</text>
<text x="1194" y="690" font-size="19" text-anchor="middle">30</text>
<path d="M812.2 542.5V566.5M804.4 542.5h15.5M804.4 566.5h15.5M853.1 535.9V564.6M845.3 535.9h15.5M845.3 564.6h15.5M894 533.3V570.1M886.3 533.3h15.5M886.3 570.1h15.5M989.9 549.9V573.1M982.1 549.9h15.5M982.1 573.1h15.5M1194.5 560.9V583.8M1186.7 560.9h15.5M1186.7 583.8h15.5" stroke="#1f4e9e" stroke-width="2" fill="none"/>
<circle cx="784.9" cy="621.8" r="7.5" fill="#1f4e9e"/>
<circle cx="812.2" cy="554.3" r="7.5" fill="#1f4e9e"/>
<circle cx="853.1" cy="549.9" r="7.5" fill="#1f4e9e"/>
<circle cx="894" cy="551.7" r="7.5" fill="#1f4e9e"/>
<circle cx="989.9" cy="561.3" r="7.5" fill="#1f4e9e"/>
<circle cx="1194.5" cy="572.4" r="7.5" fill="#1f4e9e"/>
<path d="M784.9 621.8L812.2 554.3L853.1 549.9L894 551.7L989.9 561.3L1194.5 572.4" stroke="#1f4e9e" stroke-width="1.9" fill="none" stroke-linejoin="round"/>
<path d="M812.2 510.4V519.6M812.2 533.6V559.1M804.4 510.4h15.5M804.4 559.1h15.5M853.1 518.5V525.5M853.1 539.5V551.7M845.3 518.5h15.5M845.3 551.7h15.5M894 517.8V529.2M894 543.2V555.4M886.3 517.8h15.5M886.3 555.4h15.5M989.9 533.3V539.2M989.9 553.2V560.9M982.1 533.3h15.5M982.1 560.9h15.5M1194.5 546.2V552.1M1194.5 566.1V572M1186.7 546.2h15.5M1186.7 572h15.5" stroke="#1f4e9e" stroke-width="2" fill="none"/>
<circle cx="784.9" cy="613.6" r="6.5" fill="none" stroke="#1f4e9e" stroke-width="2"/>
<circle cx="812.2" cy="526.6" r="6.5" fill="none" stroke="#1f4e9e" stroke-width="2"/>
<circle cx="853.1" cy="532.5" r="6.5" fill="none" stroke="#1f4e9e" stroke-width="2"/>
<circle cx="894" cy="536.2" r="6.5" fill="none" stroke="#1f4e9e" stroke-width="2"/>
<circle cx="989.9" cy="546.2" r="6.5" fill="none" stroke="#1f4e9e" stroke-width="2"/>
<circle cx="1194.5" cy="559.1" r="6.5" fill="none" stroke="#1f4e9e" stroke-width="2"/>
<path d="M784.9 613.6L812.2 526.6M812.2 526.6L853.1 532.5M853.1 532.5L894 536.2M894 536.2L989.9 546.2M989.9 546.2L1194.5 559.1" stroke="#1f4e9e" stroke-width="1.9" fill="none" stroke-dasharray="20 18.8"/>
<path d="M812.2 452.9V469.1M812.2 483.1V498.6M804.4 452.9h15.5M804.4 498.6h15.5M853.1 435.2V461M853.1 475V500.5M845.3 435.2h15.5M845.3 500.5h15.5M894 467.6V483.5M894 497.5V513.4M886.3 467.6h15.5M886.3 513.4h15.5M989.9 469.1V489.4M989.9 503.4V524.1M982.1 469.1h15.5M982.1 524.1h15.5M1194.5 503V514.8M1194.5 528.8V540.6M1186.7 503h15.5M1186.7 540.6h15.5" stroke="#000000" stroke-width="2" fill="none"/>
<circle cx="784.9" cy="611.4" r="6.5" fill="none" stroke="#000000" stroke-width="2"/>
<circle cx="812.2" cy="476.1" r="6.5" fill="none" stroke="#000000" stroke-width="2"/>
<circle cx="853.1" cy="468" r="6.5" fill="none" stroke="#000000" stroke-width="2"/>
<circle cx="894" cy="490.5" r="6.5" fill="none" stroke="#000000" stroke-width="2"/>
<circle cx="989.9" cy="496.4" r="6.5" fill="none" stroke="#000000" stroke-width="2"/>
<circle cx="1194.5" cy="521.8" r="6.5" fill="none" stroke="#000000" stroke-width="2"/>
<path d="M784.9 611.4L812.2 476.1M812.2 476.1L853.1 468M853.1 468L894 490.5M894 490.5L989.9 496.4M989.9 496.4L1194.5 521.8" stroke="#000000" stroke-width="1.9" fill="none" stroke-dasharray="20 18.8"/>
<path d="M812.2 537V559.8M804.4 537h15.5M804.4 559.8h15.5M853.1 511.9V548M845.3 511.9h15.5M845.3 548h15.5M894 528.8V554.7M886.3 528.8h15.5M886.3 554.7h15.5M989.9 532.2V560.9M982.1 532.2h15.5M982.1 560.9h15.5M1194.5 552.4V573.8M1186.7 552.4h15.5M1186.7 573.8h15.5" stroke="#000000" stroke-width="2" fill="none"/>
<circle cx="784.9" cy="621" r="7.5" fill="#000000"/>
<circle cx="812.2" cy="548.8" r="7.5" fill="#000000"/>
<circle cx="853.1" cy="530" r="7.5" fill="#000000"/>
<circle cx="894" cy="541.8" r="7.5" fill="#000000"/>
<circle cx="989.9" cy="546.2" r="7.5" fill="#000000"/>
<circle cx="1194.5" cy="562.8" r="7.5" fill="#000000"/>
<path d="M784.9 621L812.2 548.8L853.1 530L894 541.8L989.9 546.2L1194.5 562.8" stroke="#000000" stroke-width="1.9" fill="none" stroke-linejoin="round"/>
<text transform="translate(812.2 457.3) scale(1.15 1)" x="-12.6" y="0" font-size="31" letter-spacing="1.2" stroke="#000" stroke-width="0.5">**</text>
<text transform="translate(852.7 435.2) scale(1.15 1)" x="-25.8" y="0" font-size="31" letter-spacing="1.2" stroke="#000" stroke-width="0.5">****</text>
<text transform="translate(893.3 470.3) scale(1.15 1)" x="-6" y="0" font-size="31" letter-spacing="1.2" stroke="#000" stroke-width="0.5">*</text>
<text transform="translate(986.5 473.9) scale(1.15 1)" x="-12.6" y="0" font-size="31" letter-spacing="1.2" stroke="#000" stroke-width="0.5">**</text>
</g>
<g>
<path d="M1399.2 386.6V663H1813.5M1389.7 387.6h9.5M1389.7 479.4h9.5M1389.7 571.2h9.5M1389.7 663h9.5M1399.2 663v9M1426.5 663v9M1467.8 663v9M1509.1 663v9M1605.7 663v9M1812.5 663v9" stroke="#000" stroke-width="2" fill="none"/>
<text x="1385" y="394.3" font-size="19" text-anchor="end">6,000</text>
<text x="1385" y="486.1" font-size="19" text-anchor="end">4,000</text>
<text x="1385" y="577.9" font-size="19" text-anchor="end">2,000</text>
<text x="1385" y="669.7" font-size="19" text-anchor="end">0</text>
<text x="1398.7" y="690.7" font-size="19" text-anchor="middle">0</text>
<text x="1426" y="690.7" font-size="19" text-anchor="middle">2</text>
<text x="1467.3" y="690.7" font-size="19" text-anchor="middle">5</text>
<text x="1508.6" y="690.7" font-size="19" text-anchor="middle">8</text>
<text x="1605.2" y="690.7" font-size="19" text-anchor="middle">15</text>
<text x="1812" y="690.7" font-size="19" text-anchor="middle">30</text>
<path d="M1426.5 536.2V559.8M1418.8 536.2h15.5M1418.8 559.8h15.5M1467.8 511.2V548M1460.1 511.2h15.5M1460.1 548h15.5M1509.1 528.1V554.3M1501.4 528.1h15.5M1501.4 554.3h15.5M1605.7 531.4V560.9M1597.9 531.4h15.5M1597.9 560.9h15.5M1812.5 552.1V573.8M1804.8 552.1h15.5M1804.8 573.8h15.5" stroke="#000000" stroke-width="2" fill="none"/>
<circle cx="1399.2" cy="621" r="7.5" fill="#000000"/>
<circle cx="1426.5" cy="548.4" r="7.5" fill="#000000"/>
<circle cx="1467.8" cy="529.6" r="7.5" fill="#000000"/>
<circle cx="1509.1" cy="541.4" r="7.5" fill="#000000"/>
<circle cx="1605.7" cy="545.8" r="7.5" fill="#000000"/>
<circle cx="1812.5" cy="562.8" r="7.5" fill="#000000"/>
<path d="M1399.2 621L1426.5 548.4L1467.8 529.6L1509.1 541.4L1605.7 545.8L1812.5 562.8" stroke="#000000" stroke-width="1.9" fill="none" stroke-linejoin="round"/>
<path d="M1426.5 451.4V468M1426.5 482V497.9M1418.8 451.4h15.5M1418.8 497.9h15.5M1467.8 433.7V460.6M1467.8 474.6V500.1M1460.1 433.7h15.5M1460.1 500.1h15.5M1509.1 466.9V482.8M1509.1 496.8V512.6M1501.4 466.9h15.5M1501.4 512.6h15.5M1605.7 468.4V489M1605.7 503V523.7M1597.9 468.4h15.5M1597.9 523.7h15.5M1812.5 502.3V514.5M1812.5 528.5V540.6M1804.8 502.3h15.5M1804.8 540.6h15.5" stroke="#000000" stroke-width="2" fill="none"/>
<circle cx="1399.2" cy="611.4" r="6.5" fill="none" stroke="#000000" stroke-width="2"/>
<circle cx="1426.5" cy="475" r="6.5" fill="none" stroke="#000000" stroke-width="2"/>
<circle cx="1467.8" cy="467.6" r="6.5" fill="none" stroke="#000000" stroke-width="2"/>
<circle cx="1509.1" cy="489.8" r="6.5" fill="none" stroke="#000000" stroke-width="2"/>
<circle cx="1605.7" cy="496" r="6.5" fill="none" stroke="#000000" stroke-width="2"/>
<circle cx="1812.5" cy="521.5" r="6.5" fill="none" stroke="#000000" stroke-width="2"/>
<path d="M1399.2 611.4L1426.5 475M1426.5 475L1467.8 467.6M1467.8 467.6L1509.1 489.8M1509.1 489.8L1605.7 496M1605.7 496L1812.5 521.5" stroke="#000000" stroke-width="1.9" fill="none" stroke-dasharray="20 18.8"/>
<path d="M1426.5 500.1V524.4M1426.5 538.4V562M1418.8 500.1h15.5M1418.8 562h15.5M1467.8 498.2V523.3M1467.8 537.3V562.8M1460.1 498.2h15.5M1460.1 562.8h15.5M1509.1 469.9V515.9M1509.1 529.9V573.8M1501.4 469.9h15.5M1501.4 573.8h15.5M1605.7 522.2V539.2M1605.7 553.2V569.4M1597.9 522.2h15.5M1597.9 569.4h15.5M1812.5 511.2V541.8M1812.5 555.8V584.9M1804.8 511.2h15.5M1804.8 584.9h15.5" stroke="#1a8a3a" stroke-width="2" fill="none"/>
<circle cx="1399.2" cy="611.4" r="6.5" fill="none" stroke="#1a8a3a" stroke-width="2"/>
<circle cx="1426.5" cy="531.4" r="6.5" fill="none" stroke="#1a8a3a" stroke-width="2"/>
<circle cx="1467.8" cy="530.3" r="6.5" fill="none" stroke="#1a8a3a" stroke-width="2"/>
<circle cx="1509.1" cy="522.9" r="6.5" fill="none" stroke="#1a8a3a" stroke-width="2"/>
<circle cx="1605.7" cy="546.2" r="6.5" fill="none" stroke="#1a8a3a" stroke-width="2"/>
<circle cx="1812.5" cy="548.8" r="6.5" fill="none" stroke="#1a8a3a" stroke-width="2"/>
<path d="M1399.2 611.4L1426.5 531.4M1426.5 531.4L1467.8 530.3M1467.8 530.3L1509.1 522.9M1509.1 522.9L1605.7 546.2M1605.7 546.2L1812.5 548.8" stroke="#1a8a3a" stroke-width="1.9" fill="none" stroke-dasharray="20 18.8"/>
<path d="M1426.5 537V570.1M1418.8 537h15.5M1418.8 570.1h15.5M1467.8 518.5V563.5M1460.1 518.5h15.5M1460.1 563.5h15.5M1509.1 514.8V584.9M1501.4 514.8h15.5M1501.4 584.9h15.5M1605.7 527.7V573.8M1597.9 527.7h15.5M1597.9 573.8h15.5M1812.5 544.3V594.1M1804.8 544.3h15.5M1804.8 594.1h15.5" stroke="#1a8a3a" stroke-width="2" fill="none"/>
<circle cx="1399.2" cy="621" r="7.5" fill="#1a8a3a"/>
<circle cx="1426.5" cy="552.8" r="7.5" fill="#1a8a3a"/>
<circle cx="1467.8" cy="540.6" r="7.5" fill="#1a8a3a"/>
<circle cx="1509.1" cy="549.9" r="7.5" fill="#1a8a3a"/>
<circle cx="1605.7" cy="551" r="7.5" fill="#1a8a3a"/>
<circle cx="1812.5" cy="568.7" r="7.5" fill="#1a8a3a"/>
<path d="M1399.2 621L1426.5 552.8L1467.8 540.6L1509.1 549.9L1605.7 551L1812.5 568.7" stroke="#1a8a3a" stroke-width="1.9" fill="none" stroke-linejoin="round"/>
<text transform="translate(1426.5 457.1) scale(1.15 1)" x="-19.2" y="0" font-size="31" letter-spacing="1.2" stroke="#000" stroke-width="0.5">***</text>
<text transform="translate(1467.1 436.1) scale(1.15 1)" x="-19.2" y="0" font-size="31" letter-spacing="1.2" stroke="#000" stroke-width="0.5">***</text>
<text transform="translate(1602.7 472.9) scale(1.15 1)" x="-6" y="0" font-size="31" letter-spacing="1.2" stroke="#000" stroke-width="0.5">*</text>
</g>
<g>
<path d="M167.7 709.2V984.5H580.2M158.2 710.2h9.5M158.2 778.8h9.5M158.2 847.7h9.5M158.2 916.3h9.5M158.2 984.5h9.5M167.7 984.5v9M194.3 984.5v9M235.2 984.5v9M276.5 984.5v9M373.1 984.5v9M579.2 984.5v9" stroke="#000" stroke-width="2" fill="none"/>
<text x="153.5" y="716.9" font-size="19" text-anchor="end">20,000</text>
<text x="153.5" y="785.5" font-size="19" text-anchor="end">15,000</text>
<text x="153.5" y="854.4" font-size="19" text-anchor="end">10,000</text>
<text x="153.5" y="923" font-size="19" text-anchor="end">5,000</text>
<text x="153.5" y="991.2" font-size="19" text-anchor="end">0</text>
<text x="167.2" y="1012.2" font-size="19" text-anchor="middle">0</text>
<text x="193.8" y="1012.2" font-size="19" text-anchor="middle">2</text>
<text x="234.7" y="1012.2" font-size="19" text-anchor="middle">5</text>
<text x="276" y="1012.2" font-size="19" text-anchor="middle">8</text>
<text x="372.6" y="1012.2" font-size="19" text-anchor="middle">15</text>
<text x="578.7" y="1012.2" font-size="19" text-anchor="middle">30</text>
<path d="M194.3 830.4V857M186.5 830.4h15.5M186.5 857h15.5M235.2 817.1V848.8M227.5 817.1h15.5M227.5 848.8h15.5M276.5 816.4V853.3M268.7 816.4h15.5M268.7 853.3h15.5M373.1 836.7V868M365.3 836.7h15.5M365.3 868h15.5M579.2 846.6V882.8M571.4 846.6h15.5M571.4 882.8h15.5" stroke="#000000" stroke-width="2" fill="none"/>
<circle cx="167.7" cy="936.2" r="7.5" fill="#000000"/>
<circle cx="194.3" cy="842.9" r="7.5" fill="#000000"/>
<circle cx="235.2" cy="832.3" r="7.5" fill="#000000"/>
<circle cx="276.5" cy="834.8" r="7.5" fill="#000000"/>
<circle cx="373.1" cy="851.8" r="7.5" fill="#000000"/>
<circle cx="579.2" cy="864.3" r="7.5" fill="#000000"/>
<path d="M167.7 936.2L194.3 842.9L235.2 832.3L276.5 834.8L373.1 851.8L579.2 864.3" stroke="#000000" stroke-width="1.9" fill="none" stroke-linejoin="round"/>
<path d="M194.3 758.5V771.8M194.3 785.8V798M186.5 758.5h15.5M186.5 798h15.5M235.2 750V763.3M235.2 777.3V789.9M227.5 750h15.5M227.5 789.9h15.5M276.5 758.2V774.4M276.5 788.4V804.2M268.7 758.2h15.5M268.7 804.2h15.5M373.1 782.5V794.7M373.1 808.7V821.6M365.3 782.5h15.5M365.3 821.6h15.5M579.2 795.8V814.2M579.2 828.2V846.6M571.4 795.8h15.5M571.4 846.6h15.5" stroke="#000000" stroke-width="2" fill="none"/>
<circle cx="167.7" cy="920.4" r="6.5" fill="none" stroke="#000000" stroke-width="2"/>
<circle cx="194.3" cy="778.8" r="6.5" fill="none" stroke="#000000" stroke-width="2"/>
<circle cx="235.2" cy="770.3" r="6.5" fill="none" stroke="#000000" stroke-width="2"/>
<circle cx="276.5" cy="781.4" r="6.5" fill="none" stroke="#000000" stroke-width="2"/>
<circle cx="373.1" cy="801.7" r="6.5" fill="none" stroke="#000000" stroke-width="2"/>
<circle cx="579.2" cy="821.2" r="6.5" fill="none" stroke="#000000" stroke-width="2"/>
<path d="M167.7 920.4L194.3 778.8M194.3 778.8L235.2 770.3M235.2 770.3L276.5 781.4M276.5 781.4L373.1 801.7M373.1 801.7L579.2 821.2" stroke="#000000" stroke-width="1.9" fill="none" stroke-dasharray="20 18.8"/>
<path d="M194.3 831.2V847M194.3 861V877.2M186.5 831.2h15.5M186.5 877.2h15.5M235.2 838.5V850M235.2 864V875.4M227.5 838.5h15.5M227.5 875.4h15.5M276.5 820.1V844.4M276.5 858.4V882M268.7 820.1h15.5M268.7 882h15.5M373.1 841.5V855.1M373.1 869.1V882M365.3 841.5h15.5M365.3 882h15.5M579.2 837.8V858.4M579.2 872.4V893.8M571.4 837.8h15.5M571.4 893.8h15.5" stroke="#e31e24" stroke-width="2" fill="none"/>
<circle cx="167.7" cy="921.5" r="6.5" fill="none" stroke="#e31e24" stroke-width="2"/>
<circle cx="194.3" cy="854" r="6.5" fill="none" stroke="#e31e24" stroke-width="2"/>
<circle cx="235.2" cy="857" r="6.5" fill="none" stroke="#e31e24" stroke-width="2"/>
<circle cx="276.5" cy="851.4" r="6.5" fill="none" stroke="#e31e24" stroke-width="2"/>
<circle cx="373.1" cy="862.1" r="6.5" fill="none" stroke="#e31e24" stroke-width="2"/>
<circle cx="579.2" cy="865.4" r="6.5" fill="none" stroke="#e31e24" stroke-width="2"/>
<path d="M167.7 921.5L194.3 854M194.3 854L235.2 857M235.2 857L276.5 851.4M276.5 851.4L373.1 862.1M373.1 862.1L579.2 865.4" stroke="#e31e24" stroke-width="1.9" fill="none" stroke-dasharray="20 18.8"/>
<path d="M167.7 925.2V941M160 925.2h15.5M160 941h15.5M194.3 842.2V887.6M186.5 842.2h15.5M186.5 887.6h15.5M235.2 838.5V890.1M227.5 838.5h15.5M227.5 890.1h15.5M276.5 827.5V882.8M268.7 827.5h15.5M268.7 882.8h15.5M373.1 849.6V885.3M365.3 849.6h15.5M365.3 885.3h15.5M579.2 853.3V895.7M571.4 853.3h15.5M571.4 895.7h15.5" stroke="#e31e24" stroke-width="2" fill="none"/>
<circle cx="167.7" cy="932.5" r="7.5" fill="#e31e24"/>
<circle cx="194.3" cy="864.3" r="7.5" fill="#e31e24"/>
<circle cx="235.2" cy="863.6" r="7.5" fill="#e31e24"/>
<circle cx="276.5" cy="855.1" r="7.5" fill="#e31e24"/>
<circle cx="373.1" cy="867.3" r="7.5" fill="#e31e24"/>
<circle cx="579.2" cy="874.7" r="7.5" fill="#e31e24"/>
<path d="M167.7 932.5L194.3 864.3L235.2 863.6L276.5 855.1L373.1 867.3L579.2 874.7" stroke="#e31e24" stroke-width="1.9" fill="none" stroke-linejoin="round"/>
<text transform="translate(198 761.6) scale(1.15 1)" x="-25.8" y="0" font-size="31" letter-spacing="1.2" stroke="#000" stroke-width="0.5">****</text>
<text transform="translate(239.6 734) scale(1.15 1)" x="-25.8" y="0" font-size="31" letter-spacing="1.2" stroke="#000" stroke-width="0.5">****</text>
<text transform="translate(280.2 761.6) scale(1.15 1)" x="-12.6" y="0" font-size="31" letter-spacing="1.2" stroke="#000" stroke-width="0.5">**</text>
<text transform="translate(375.3 783) scale(1.15 1)" x="-12.6" y="0" font-size="31" letter-spacing="1.2" stroke="#000" stroke-width="0.5">**</text>
</g>
<g>
<path d="M783.8 709.2V984.5H1197.3M774.3 710.2h9.5M774.3 778.8h9.5M774.3 847.7h9.5M774.3 916.3h9.5M774.3 984.5h9.5M783.8 984.5v9M811.1 984.5v9M852.4 984.5v9M893.6 984.5v9M989.9 984.5v9M1196.3 984.5v9" stroke="#000" stroke-width="2" fill="none"/>
<text x="769.6" y="716.9" font-size="19" text-anchor="end">20,000</text>
<text x="769.6" y="785.5" font-size="19" text-anchor="end">15,000</text>
<text x="769.6" y="854.4" font-size="19" text-anchor="end">10,000</text>
<text x="769.6" y="923" font-size="19" text-anchor="end">5,000</text>
<text x="769.6" y="991.2" font-size="19" text-anchor="end">0</text>
<text x="783.3" y="1012.2" font-size="19" text-anchor="middle">0</text>
<text x="810.6" y="1012.2" font-size="19" text-anchor="middle">2</text>
<text x="851.9" y="1012.2" font-size="19" text-anchor="middle">5</text>
<text x="893.1" y="1012.2" font-size="19" text-anchor="middle">8</text>
<text x="989.4" y="1012.2" font-size="19" text-anchor="middle">15</text>
<text x="1195.8" y="1012.2" font-size="19" text-anchor="middle">30</text>
<path d="M783.8 925.2V946.2M776 925.2h15.5M776 946.2h15.5M811.1 827.5V907.8M803.3 827.5h15.5M803.3 907.8h15.5M852.4 838.5V878.3M844.6 838.5h15.5M844.6 878.3h15.5M893.6 821.9V893.8M885.9 821.9h15.5M885.9 893.8h15.5M989.9 857V892M982.1 857h15.5M982.1 892h15.5M1196.3 851.4V906.7M1188.6 851.4h15.5M1188.6 906.7h15.5" stroke="#1f4e9e" stroke-width="2" fill="none"/>
<circle cx="783.8" cy="936.2" r="7.5" fill="#1f4e9e"/>
<circle cx="811.1" cy="868" r="7.5" fill="#1f4e9e"/>
<circle cx="852.4" cy="857.7" r="7.5" fill="#1f4e9e"/>
<circle cx="893.6" cy="858.4" r="7.5" fill="#1f4e9e"/>
<circle cx="989.9" cy="874.7" r="7.5" fill="#1f4e9e"/>
<circle cx="1196.3" cy="879.1" r="7.5" fill="#1f4e9e"/>
<path d="M783.8 936.2L811.1 868L852.4 857.7L893.6 858.4L989.9 874.7L1196.3 879.1" stroke="#1f4e9e" stroke-width="1.9" fill="none" stroke-linejoin="round"/>
<path d="M811.1 798.7V833.4M811.1 847.4V882.8M803.3 798.7h15.5M803.3 882.8h15.5M852.4 810.9V822.3M852.4 836.3V847.7M844.6 810.9h15.5M844.6 847.7h15.5M893.6 818.2V827.8M893.6 841.8V852.5M885.9 818.2h15.5M885.9 852.5h15.5M989.9 836.7V843.7M989.9 857.7V865.1M982.1 836.7h15.5M982.1 865.1h15.5M1196.3 849.6V853.6M1196.3 867.6V882.8M1188.6 849.6h15.5M1188.6 882.8h15.5" stroke="#1f4e9e" stroke-width="2" fill="none"/>
<circle cx="783.8" cy="924.1" r="6.5" fill="none" stroke="#1f4e9e" stroke-width="2"/>
<circle cx="811.1" cy="840.4" r="6.5" fill="none" stroke="#1f4e9e" stroke-width="2"/>
<circle cx="852.4" cy="829.3" r="6.5" fill="none" stroke="#1f4e9e" stroke-width="2"/>
<circle cx="893.6" cy="834.8" r="6.5" fill="none" stroke="#1f4e9e" stroke-width="2"/>
<circle cx="989.9" cy="850.7" r="6.5" fill="none" stroke="#1f4e9e" stroke-width="2"/>
<circle cx="1196.3" cy="860.6" r="6.5" fill="none" stroke="#1f4e9e" stroke-width="2"/>
<path d="M783.8 924.1L811.1 840.4M811.1 840.4L852.4 829.3M852.4 829.3L893.6 834.8M893.6 834.8L989.9 850.7M989.9 850.7L1196.3 860.6" stroke="#1f4e9e" stroke-width="1.9" fill="none" stroke-dasharray="20 18.8"/>
<path d="M811.1 758.5V771.8M811.1 785.8V798M803.3 758.5h15.5M803.3 798h15.5M852.4 750V763.3M852.4 777.3V789.9M844.6 750h15.5M844.6 789.9h15.5M893.6 758.2V774.4M893.6 788.4V804.2M885.9 758.2h15.5M885.9 804.2h15.5M989.9 782.5V794.7M989.9 808.7V821.6M982.1 782.5h15.5M982.1 821.6h15.5M1196.3 795.8V814.2M1196.3 828.2V846.6M1188.6 795.8h15.5M1188.6 846.6h15.5" stroke="#000000" stroke-width="2" fill="none"/>
<circle cx="783.8" cy="920.4" r="6.5" fill="none" stroke="#000000" stroke-width="2"/>
<circle cx="811.1" cy="778.8" r="6.5" fill="none" stroke="#000000" stroke-width="2"/>
<circle cx="852.4" cy="770.3" r="6.5" fill="none" stroke="#000000" stroke-width="2"/>
<circle cx="893.6" cy="781.4" r="6.5" fill="none" stroke="#000000" stroke-width="2"/>
<circle cx="989.9" cy="801.7" r="6.5" fill="none" stroke="#000000" stroke-width="2"/>
<circle cx="1196.3" cy="821.2" r="6.5" fill="none" stroke="#000000" stroke-width="2"/>
<path d="M783.8 920.4L811.1 778.8M811.1 778.8L852.4 770.3M852.4 770.3L893.6 781.4M893.6 781.4L989.9 801.7M989.9 801.7L1196.3 821.2" stroke="#000000" stroke-width="1.9" fill="none" stroke-dasharray="20 18.8"/>
<path d="M811.1 830.4V857M803.3 830.4h15.5M803.3 857h15.5M852.4 817.1V848.8M844.6 817.1h15.5M844.6 848.8h15.5M893.6 816.4V853.3M885.9 816.4h15.5M885.9 853.3h15.5M989.9 836.7V868M982.1 836.7h15.5M982.1 868h15.5M1196.3 846.6V882.8M1188.6 846.6h15.5M1188.6 882.8h15.5" stroke="#000000" stroke-width="2" fill="none"/>
<circle cx="783.8" cy="936.2" r="7.5" fill="#000000"/>
<circle cx="811.1" cy="842.9" r="7.5" fill="#000000"/>
<circle cx="852.4" cy="832.3" r="7.5" fill="#000000"/>
<circle cx="893.6" cy="834.8" r="7.5" fill="#000000"/>
<circle cx="989.9" cy="851.8" r="7.5" fill="#000000"/>
<circle cx="1196.3" cy="864.3" r="7.5" fill="#000000"/>
<path d="M783.8 936.2L811.1 842.9L852.4 832.3L893.6 834.8L989.9 851.8L1196.3 864.3" stroke="#000000" stroke-width="1.9" fill="none" stroke-linejoin="round"/>
<text transform="translate(809.6 761.6) scale(1.15 1)" x="-6" y="0" font-size="31" letter-spacing="1.2" stroke="#000" stroke-width="0.5">*</text>
<text transform="translate(851.6 749.4) scale(1.15 1)" x="-6" y="0" font-size="31" letter-spacing="1.2" stroke="#000" stroke-width="0.5">*</text>
</g>
<g>
<path d="M1400 709.2V984.5H1813.5M1390.5 710.2h9.5M1390.5 778.8h9.5M1390.5 847.7h9.5M1390.5 916.3h9.5M1390.5 984.5h9.5M1400 984.5v9M1427.3 984.5v9M1468.6 984.5v9M1509.8 984.5v9M1606.1 984.5v9M1812.5 984.5v9" stroke="#000" stroke-width="2" fill="none"/>
<text x="1385.8" y="716.9" font-size="19" text-anchor="end">20,000</text>
<text x="1385.8" y="785.5" font-size="19" text-anchor="end">15,000</text>
<text x="1385.8" y="854.4" font-size="19" text-anchor="end">10,000</text>
<text x="1385.8" y="923" font-size="19" text-anchor="end">5,000</text>
<text x="1385.8" y="991.2" font-size="19" text-anchor="end">0</text>
<text x="1399.5" y="1012.2" font-size="19" text-anchor="middle">0</text>
<text x="1426.8" y="1012.2" font-size="19" text-anchor="middle">2</text>
<text x="1468.1" y="1012.2" font-size="19" text-anchor="middle">5</text>
<text x="1509.3" y="1012.2" font-size="19" text-anchor="middle">8</text>
<text x="1605.6" y="1012.2" font-size="19" text-anchor="middle">15</text>
<text x="1812" y="1012.2" font-size="19" text-anchor="middle">30</text>
<path d="M1427.3 830.4V857M1419.5 830.4h15.5M1419.5 857h15.5M1468.6 817.1V848.8M1460.8 817.1h15.5M1460.8 848.8h15.5M1509.8 816.4V853.3M1502.1 816.4h15.5M1502.1 853.3h15.5M1606.1 836.7V868M1598.3 836.7h15.5M1598.3 868h15.5M1812.5 846.6V882.8M1804.8 846.6h15.5M1804.8 882.8h15.5" stroke="#000000" stroke-width="2" fill="none"/>
<circle cx="1400" cy="936.2" r="7.5" fill="#000000"/>
<circle cx="1427.3" cy="842.9" r="7.5" fill="#000000"/>
<circle cx="1468.6" cy="832.3" r="7.5" fill="#000000"/>
<circle cx="1509.8" cy="834.8" r="7.5" fill="#000000"/>
<circle cx="1606.1" cy="851.8" r="7.5" fill="#000000"/>
<circle cx="1812.5" cy="864.3" r="7.5" fill="#000000"/>
<path d="M1400 936.2L1427.3 842.9L1468.6 832.3L1509.8 834.8L1606.1 851.8L1812.5 864.3" stroke="#000000" stroke-width="1.9" fill="none" stroke-linejoin="round"/>
<path d="M1427.3 758.5V771.8M1427.3 785.8V798M1419.5 758.5h15.5M1419.5 798h15.5M1468.6 750V763.3M1468.6 777.3V789.9M1460.8 750h15.5M1460.8 789.9h15.5M1509.8 758.2V774.4M1509.8 788.4V804.2M1502.1 758.2h15.5M1502.1 804.2h15.5M1606.1 782.5V794.7M1606.1 808.7V821.6M1598.3 782.5h15.5M1598.3 821.6h15.5M1812.5 795.8V814.2M1812.5 828.2V846.6M1804.8 795.8h15.5M1804.8 846.6h15.5" stroke="#000000" stroke-width="2" fill="none"/>
<circle cx="1400" cy="920.4" r="6.5" fill="none" stroke="#000000" stroke-width="2"/>
<circle cx="1427.3" cy="778.8" r="6.5" fill="none" stroke="#000000" stroke-width="2"/>
<circle cx="1468.6" cy="770.3" r="6.5" fill="none" stroke="#000000" stroke-width="2"/>
<circle cx="1509.8" cy="781.4" r="6.5" fill="none" stroke="#000000" stroke-width="2"/>
<circle cx="1606.1" cy="801.7" r="6.5" fill="none" stroke="#000000" stroke-width="2"/>
<circle cx="1812.5" cy="821.2" r="6.5" fill="none" stroke="#000000" stroke-width="2"/>
<path d="M1400 920.4L1427.3 778.8M1427.3 778.8L1468.6 770.3M1468.6 770.3L1509.8 781.4M1509.8 781.4L1606.1 801.7M1606.1 801.7L1812.5 821.2" stroke="#000000" stroke-width="1.9" fill="none" stroke-dasharray="20 18.8"/>
<path d="M1427.3 780.3V813.1M1427.3 827.1V859.9M1419.5 780.3h15.5M1419.5 859.9h15.5M1468.6 792.4V818.6M1468.6 832.6V859.9M1460.8 792.4h15.5M1460.8 859.9h15.5M1509.8 790.6V822.3M1509.8 836.3V874.7M1502.1 790.6h15.5M1502.1 874.7h15.5M1606.1 812V832.3M1606.1 846.3V866.2M1598.3 812h15.5M1598.3 866.2h15.5M1812.5 796.1V840.7M1812.5 854.7V899.4M1804.8 796.1h15.5M1804.8 899.4h15.5" stroke="#1a8a3a" stroke-width="2" fill="none"/>
<circle cx="1400" cy="920.4" r="6.5" fill="none" stroke="#1a8a3a" stroke-width="2"/>
<circle cx="1427.3" cy="820.1" r="6.5" fill="none" stroke="#1a8a3a" stroke-width="2"/>
<circle cx="1468.6" cy="825.6" r="6.5" fill="none" stroke="#1a8a3a" stroke-width="2"/>
<circle cx="1509.8" cy="829.3" r="6.5" fill="none" stroke="#1a8a3a" stroke-width="2"/>
<circle cx="1606.1" cy="839.3" r="6.5" fill="none" stroke="#1a8a3a" stroke-width="2"/>
<circle cx="1812.5" cy="847.7" r="6.5" fill="none" stroke="#1a8a3a" stroke-width="2"/>
<path d="M1400 920.4L1427.3 820.1M1427.3 820.1L1468.6 825.6M1468.6 825.6L1509.8 829.3M1509.8 829.3L1606.1 839.3M1606.1 839.3L1812.5 847.7" stroke="#1a8a3a" stroke-width="1.9" fill="none" stroke-dasharray="20 18.8"/>
<path d="M1400 919.6V938.1M1392.2 919.6h15.5M1392.2 938.1h15.5M1427.3 805.3V858.8M1419.5 805.3h15.5M1419.5 858.8h15.5M1468.6 790.6V857M1460.8 790.6h15.5M1460.8 857h15.5M1509.8 794.3V862.5M1502.1 794.3h15.5M1502.1 862.5h15.5M1606.1 816.4V866.2M1598.3 816.4h15.5M1598.3 866.2h15.5M1812.5 823.8V900.5M1804.8 823.8h15.5M1804.8 900.5h15.5" stroke="#1a8a3a" stroke-width="2" fill="none"/>
<circle cx="1400" cy="928.8" r="7.5" fill="#1a8a3a"/>
<circle cx="1427.3" cy="831.9" r="7.5" fill="#1a8a3a"/>
<circle cx="1468.6" cy="823.8" r="7.5" fill="#1a8a3a"/>
<circle cx="1509.8" cy="828.2" r="7.5" fill="#1a8a3a"/>
<circle cx="1606.1" cy="841.5" r="7.5" fill="#1a8a3a"/>
<circle cx="1812.5" cy="862.5" r="7.5" fill="#1a8a3a"/>
<path d="M1400 928.8L1427.3 831.9L1468.6 823.8L1509.8 828.2L1606.1 841.5L1812.5 862.5" stroke="#1a8a3a" stroke-width="1.9" fill="none" stroke-linejoin="round"/>
<text transform="translate(1467.1 749.8) scale(1.15 1)" x="-19.2" y="0" font-size="31" letter-spacing="1.2" stroke="#000" stroke-width="0.5">***</text>
<text transform="translate(1509.5 760.9) scale(1.15 1)" x="-6" y="0" font-size="31" letter-spacing="1.2" stroke="#000" stroke-width="0.5">*</text>
</g>
<g>
<path d="M168.5 1025.5V1301.2H582.4M159 1026.5h9.5M159 1081.5h9.5M159 1136.4h9.5M159 1191.7h9.5M159 1246.3h9.5M159 1301.2h9.5M168.5 1301.2v9M195.4 1301.2v9M236.7 1301.2v9M278.3 1301.2v9M374.9 1301.2v9M581.4 1301.2v9" stroke="#000" stroke-width="2" fill="none"/>
<text x="156.5" y="1033.2" font-size="19" text-anchor="end">2,500</text>
<text x="156.5" y="1088.2" font-size="19" text-anchor="end">2,000</text>
<text x="156.5" y="1143.1" font-size="19" text-anchor="end">1,500</text>
<text x="156.5" y="1198.4" font-size="19" text-anchor="end">1,000</text>
<text x="156.5" y="1253" font-size="19" text-anchor="end">500</text>
<text x="156.5" y="1307.9" font-size="19" text-anchor="end">0</text>
<text x="170.7" y="1329.4" font-size="19" text-anchor="middle">0</text>
<text x="197.6" y="1329.4" font-size="19" text-anchor="middle">2</text>
<text x="238.9" y="1329.4" font-size="19" text-anchor="middle">5</text>
<text x="280.5" y="1329.4" font-size="19" text-anchor="middle">8</text>
<text x="377.1" y="1329.4" font-size="19" text-anchor="middle">15</text>
<text x="583.6" y="1329.4" font-size="19" text-anchor="middle">30</text>
<path d="M195.4 1166.6V1167.4M195.4 1181.4V1182.5M187.6 1166.6h15.5M187.6 1182.5h15.5M236.7 1145.6V1147.1M236.7 1161.1V1162.2M228.9 1145.6h15.5M228.9 1162.2h15.5M278.3 1136.4V1140.5M278.3 1154.5V1157.8M270.6 1136.4h15.5M270.6 1157.8h15.5M374.9 1143.8V1145.3M374.9 1159.3V1160.7M367.2 1143.8h15.5M367.2 1160.7h15.5M581.4 1155.6V1156.3M581.4 1170.3V1171.4M573.6 1155.6h15.5M573.6 1171.4h15.5" stroke="#000000" stroke-width="2" fill="none"/>
<circle cx="168.5" cy="1212" r="6.5" fill="none" stroke="#000000" stroke-width="2"/>
<circle cx="195.4" cy="1174.4" r="6.5" fill="none" stroke="#000000" stroke-width="2"/>
<circle cx="236.7" cy="1154.1" r="6.5" fill="none" stroke="#000000" stroke-width="2"/>
<circle cx="278.3" cy="1147.5" r="6.5" fill="none" stroke="#000000" stroke-width="2"/>
<circle cx="374.9" cy="1152.3" r="6.5" fill="none" stroke="#000000" stroke-width="2"/>
<circle cx="581.4" cy="1163.3" r="6.5" fill="none" stroke="#000000" stroke-width="2"/>
<path d="M168.5 1212L175.5 1202.2M188.4 1184.2L195.4 1174.4M195.4 1174.4L206.1 1169.1M225.9 1159.4L236.7 1154.1M236.7 1154.1L247.5 1152.4M267.5 1149.2L278.3 1147.5M278.3 1147.5L286.7 1147.9M302.2 1148.6L318.9 1149.5M334.4 1150.2L351.1 1151.1M366.6 1151.8L374.9 1152.3M374.9 1152.3L385.7 1152.8M405.5 1153.9L427 1155M446.8 1156.1L468.2 1157.3M488.1 1158.3L509.5 1159.5M529.4 1160.5L550.8 1161.7M570.6 1162.7L581.4 1163.3" stroke="#000000" stroke-width="1.9" fill="none"/>
<path d="M236.7 1186.2V1202M228.9 1186.2h15.5M228.9 1202h15.5M278.3 1178.8V1196.1M270.6 1178.8h15.5M270.6 1196.1h15.5M374.9 1183.6V1198.3M367.2 1183.6h15.5M367.2 1198.3h15.5M581.4 1191.7V1206.5M573.6 1191.7h15.5M573.6 1206.5h15.5" stroke="#000000" stroke-width="2" fill="none"/>
<circle cx="168.5" cy="1227.8" r="7.5" fill="#000000"/>
<circle cx="195.4" cy="1202.8" r="7.5" fill="#000000"/>
<circle cx="236.7" cy="1194.3" r="7.5" fill="#000000"/>
<circle cx="278.3" cy="1187.3" r="7.5" fill="#000000"/>
<circle cx="374.9" cy="1191" r="7.5" fill="#000000"/>
<circle cx="581.4" cy="1199.1" r="7.5" fill="#000000"/>
<path d="M168.5 1227.8L195.4 1202.8L236.7 1194.3L278.3 1187.3L374.9 1191L581.4 1199.1" stroke="#000000" stroke-width="1.9" fill="none" stroke-linejoin="round"/>
<path d="M168.5 1199.1V1203.1M168.5 1217.1V1221.2M160.7 1199.1h15.5M160.7 1221.2h15.5M195.4 1172.5V1176.2M195.4 1190.2V1193.5M187.6 1172.5h15.5M187.6 1193.5h15.5M236.7 1080.4V1093.6M236.7 1107.6V1121.7M228.9 1080.4h15.5M228.9 1121.7h15.5M278.3 1070V1092.5M278.3 1106.5V1129.8M270.6 1070h15.5M270.6 1129.8h15.5M374.9 1073V1088.9M374.9 1102.9V1118.7M367.2 1073h15.5M367.2 1118.7h15.5M581.4 1084.1V1099.9M581.4 1113.9V1129M573.6 1084.1h15.5M573.6 1129h15.5" stroke="#e31e24" stroke-width="2" fill="none"/>
<circle cx="168.5" cy="1210.1" r="6.5" fill="none" stroke="#e31e24" stroke-width="2"/>
<circle cx="195.4" cy="1183.2" r="6.5" fill="none" stroke="#e31e24" stroke-width="2"/>
<circle cx="236.7" cy="1100.6" r="6.5" fill="none" stroke="#e31e24" stroke-width="2"/>
<circle cx="278.3" cy="1099.5" r="6.5" fill="none" stroke="#e31e24" stroke-width="2"/>
<circle cx="374.9" cy="1095.9" r="6.5" fill="none" stroke="#e31e24" stroke-width="2"/>
<circle cx="581.4" cy="1106.9" r="6.5" fill="none" stroke="#e31e24" stroke-width="2"/>
<path d="M168.5 1210.1L175.5 1203.1M188.4 1190.2L195.4 1183.2M195.4 1183.2L200.8 1172.5M210.7 1152.7L221.4 1131.2M231.3 1111.4L236.7 1100.6M236.7 1100.6L247.5 1100.4M267.5 1099.8L278.3 1099.5M278.3 1099.5L286.7 1099.2M302.2 1098.6L318.9 1098M334.4 1097.4L351.1 1096.8M366.6 1096.2L374.9 1095.9M374.9 1095.9L385.7 1096.4M405.5 1097.5L427 1098.6M446.8 1099.7L468.2 1100.9M488.1 1101.9L509.5 1103.1M529.4 1104.1L550.8 1105.3M570.6 1106.3L581.4 1106.9" stroke="#e31e24" stroke-width="1.9" fill="none"/>
<path d="M168.5 1206.5V1223M160.7 1206.5h15.5M160.7 1223h15.5M195.4 1192.8V1213.1M187.6 1192.8h15.5M187.6 1213.1h15.5M236.7 1130.1V1159.6M228.9 1130.1h15.5M228.9 1159.6h15.5M278.3 1119.1V1167M270.6 1119.1h15.5M270.6 1167h15.5M374.9 1125.3V1158.5M367.2 1125.3h15.5M367.2 1158.5h15.5M581.4 1129V1164.8M573.6 1129h15.5M573.6 1164.8h15.5" stroke="#e31e24" stroke-width="2" fill="none"/>
<circle cx="168.5" cy="1215.7" r="7.5" fill="#e31e24"/>
<circle cx="195.4" cy="1202.8" r="7.5" fill="#e31e24"/>
<circle cx="236.7" cy="1144.9" r="7.5" fill="#e31e24"/>
<circle cx="278.3" cy="1143" r="7.5" fill="#e31e24"/>
<circle cx="374.9" cy="1140.8" r="7.5" fill="#e31e24"/>
<circle cx="581.4" cy="1146.4" r="7.5" fill="#e31e24"/>
<path d="M168.5 1215.7L195.4 1202.8L236.7 1144.9L278.3 1143L374.9 1140.8L581.4 1146.4" stroke="#e31e24" stroke-width="1.9" fill="none" stroke-linejoin="round"/>
<text transform="translate(238.9 1071.7) scale(1.15 1)" x="-6" y="0" font-size="31" letter-spacing="1.2" stroke="#000" stroke-width="0.5">*</text>
<text transform="translate(374.9 1066.2) scale(1.15 1)" x="-12.6" y="0" font-size="31" letter-spacing="1.2" stroke="#000" stroke-width="0.5">**</text>
<text transform="translate(579.5 1083.9) scale(1.15 1)" x="-6" y="0" font-size="31" letter-spacing="1.2" stroke="#000" stroke-width="0.5">*</text>
<text transform="translate(235.9 1238.7) scale(1.15 1)" x="-19.2" y="0" font-size="31" letter-spacing="1.2" stroke="#000" stroke-width="0.5">***</text>
<text transform="translate(277.6 1225.8) scale(1.15 1)" x="-12.6" y="0" font-size="31" letter-spacing="1.2" stroke="#000" stroke-width="0.5">**</text>
<text transform="translate(378.6 1235) scale(1.15 1)" x="-19.2" y="0" font-size="31" letter-spacing="1.2" stroke="#000" stroke-width="0.5">***</text>
<text transform="translate(575.1 1241.3) scale(1.15 1)" x="-19.2" y="0" font-size="31" letter-spacing="1.2" stroke="#000" stroke-width="0.5">***</text>
</g>
<g>
<path d="M784.1 1025.5V1301.2H1198.4M774.6 1026.5h9.5M774.6 1081.5h9.5M774.6 1136.4h9.5M774.6 1191.7h9.5M774.6 1246.3h9.5M774.6 1301.2h9.5M784.1 1301.2v9M811.4 1301.2v9M852.7 1301.2v9M894 1301.2v9M990.6 1301.2v9M1197.4 1301.2v9" stroke="#000" stroke-width="2" fill="none"/>
<text x="772.1" y="1033.2" font-size="19" text-anchor="end">2,500</text>
<text x="772.1" y="1088.2" font-size="19" text-anchor="end">2,000</text>
<text x="772.1" y="1143.1" font-size="19" text-anchor="end">1,500</text>
<text x="772.1" y="1198.4" font-size="19" text-anchor="end">1,000</text>
<text x="772.1" y="1253" font-size="19" text-anchor="end">500</text>
<text x="772.1" y="1307.9" font-size="19" text-anchor="end">0</text>
<text x="786.7" y="1329.4" font-size="19" text-anchor="middle">0</text>
<text x="814" y="1329.4" font-size="19" text-anchor="middle">2</text>
<text x="855.3" y="1329.4" font-size="19" text-anchor="middle">5</text>
<text x="896.6" y="1329.4" font-size="19" text-anchor="middle">8</text>
<text x="993.2" y="1329.4" font-size="19" text-anchor="middle">15</text>
<text x="1200" y="1329.4" font-size="19" text-anchor="middle">30</text>
<path d="M811.4 1189.9V1213.8M803.7 1189.9h15.5M803.7 1213.8h15.5M852.7 1178.8V1210.9M845 1178.8h15.5M845 1210.9h15.5M894 1167.7V1206.5M886.3 1167.7h15.5M886.3 1206.5h15.5M990.6 1175.1V1208.3M982.8 1175.1h15.5M982.8 1208.3h15.5M1197.4 1182.5V1215.7M1189.7 1182.5h15.5M1189.7 1215.7h15.5" stroke="#000000" stroke-width="2" fill="none"/>
<circle cx="784.1" cy="1228.6" r="7.5" fill="#000000"/>
<circle cx="811.4" cy="1202" r="7.5" fill="#000000"/>
<circle cx="852.7" cy="1194.7" r="7.5" fill="#000000"/>
<circle cx="894" cy="1187.3" r="7.5" fill="#000000"/>
<circle cx="990.6" cy="1191.7" r="7.5" fill="#000000"/>
<circle cx="1197.4" cy="1199.1" r="7.5" fill="#000000"/>
<path d="M784.1 1228.6L811.4 1202L852.7 1194.7L894 1187.3L990.6 1191.7L1197.4 1199.1" stroke="#000000" stroke-width="1.9" fill="none" stroke-linejoin="round"/>
<path d="M811.4 1157.8V1166.3M811.4 1180.3V1188.8M803.7 1157.8h15.5M803.7 1188.8h15.5M852.7 1136.4V1147.1M852.7 1161.1V1171.4M845 1136.4h15.5M845 1171.4h15.5M894 1123.5V1139.7M894 1153.7V1169.6M886.3 1123.5h15.5M886.3 1169.6h15.5M990.6 1133.5V1144.9M990.6 1158.9V1170.3M982.8 1133.5h15.5M982.8 1170.3h15.5M1197.4 1146.7V1156.3M1197.4 1170.3V1180.6M1189.7 1146.7h15.5M1189.7 1180.6h15.5" stroke="#000000" stroke-width="2" fill="none"/>
<circle cx="784.1" cy="1215.7" r="6.5" fill="none" stroke="#000000" stroke-width="2"/>
<circle cx="811.4" cy="1173.3" r="6.5" fill="none" stroke="#000000" stroke-width="2"/>
<circle cx="852.7" cy="1154.1" r="6.5" fill="none" stroke="#000000" stroke-width="2"/>
<circle cx="894" cy="1146.7" r="6.5" fill="none" stroke="#000000" stroke-width="2"/>
<circle cx="990.6" cy="1151.9" r="6.5" fill="none" stroke="#000000" stroke-width="2"/>
<circle cx="1197.4" cy="1163.3" r="6.5" fill="none" stroke="#000000" stroke-width="2"/>
<path d="M784.1 1215.7L811.4 1173.3M811.4 1173.3L852.7 1154.1M852.7 1154.1L894 1146.7M894 1146.7L990.6 1151.9M990.6 1151.9L1197.4 1163.3" stroke="#000000" stroke-width="1.9" fill="none" stroke-dasharray="20 18.8"/>
<path d="M784.1 1203.5V1211.2M784.1 1225.2V1233M776.4 1203.5h15.5M776.4 1233h15.5M811.4 1161.1V1171.8M811.4 1185.8V1196.5M803.7 1161.1h15.5M803.7 1196.5h15.5M852.7 1126.1V1147.1M852.7 1161.1V1182.5M845 1126.1h15.5M845 1182.5h15.5M894 1121.7V1141.6M894 1155.6V1175.1M886.3 1121.7h15.5M886.3 1175.1h15.5M990.6 1143.8V1157.8M990.6 1171.8V1185.4M982.8 1143.8h15.5M982.8 1185.4h15.5M1197.4 1161.1V1170M1197.4 1184V1192.8M1189.7 1161.1h15.5M1189.7 1192.8h15.5" stroke="#1f4e9e" stroke-width="2" fill="none"/>
<circle cx="784.1" cy="1218.2" r="6.5" fill="none" stroke="#1f4e9e" stroke-width="2"/>
<circle cx="811.4" cy="1178.8" r="6.5" fill="none" stroke="#1f4e9e" stroke-width="2"/>
<circle cx="852.7" cy="1154.1" r="6.5" fill="none" stroke="#1f4e9e" stroke-width="2"/>
<circle cx="894" cy="1148.6" r="6.5" fill="none" stroke="#1f4e9e" stroke-width="2"/>
<circle cx="990.6" cy="1164.8" r="6.5" fill="none" stroke="#1f4e9e" stroke-width="2"/>
<circle cx="1197.4" cy="1177" r="6.5" fill="none" stroke="#1f4e9e" stroke-width="2"/>
<path d="M784.1 1218.2L811.4 1178.8M811.4 1178.8L852.7 1154.1M852.7 1154.1L894 1148.6M894 1148.6L990.6 1164.8M990.6 1164.8L1197.4 1177" stroke="#1f4e9e" stroke-width="1.9" fill="none" stroke-dasharray="20 18.8"/>
<path d="M784.1 1213.8V1237.8M776.4 1213.8h15.5M776.4 1237.8h15.5M811.4 1188V1213.8M803.7 1188h15.5M803.7 1213.8h15.5M852.7 1164.8V1203.9M845 1164.8h15.5M845 1203.9h15.5M894 1164.1V1200.9M886.3 1164.1h15.5M886.3 1200.9h15.5M990.6 1181.8V1212.7M982.8 1181.8h15.5M982.8 1212.7h15.5M1197.4 1193.5V1216.4M1189.7 1193.5h15.5M1189.7 1216.4h15.5" stroke="#1f4e9e" stroke-width="2" fill="none"/>
<circle cx="784.1" cy="1225.6" r="7.5" fill="#1f4e9e"/>
<circle cx="811.4" cy="1200.9" r="7.5" fill="#1f4e9e"/>
<circle cx="852.7" cy="1184.3" r="7.5" fill="#1f4e9e"/>
<circle cx="894" cy="1182.5" r="7.5" fill="#1f4e9e"/>
<circle cx="990.6" cy="1197.2" r="7.5" fill="#1f4e9e"/>
<circle cx="1197.4" cy="1204.6" r="7.5" fill="#1f4e9e"/>
<path d="M784.1 1225.6L811.4 1200.9L852.7 1184.3L894 1182.5L990.6 1197.2L1197.4 1204.6" stroke="#1f4e9e" stroke-width="1.9" fill="none" stroke-linejoin="round"/>
</g>
<g>
<path d="M1402.2 1023V1296H1812.4M1392.7 1024h9.5M1392.7 1078.5h9.5M1392.7 1133.1h9.5M1392.7 1187.6h9.5M1392.7 1242.2h9.5M1392.7 1296h9.5M1402.2 1296v9M1429.5 1296v9M1470 1296v9M1511.3 1296v9M1606.8 1296v9M1811.4 1296v9" stroke="#000" stroke-width="2" fill="none"/>
<text x="1390.2" y="1030.7" font-size="19" text-anchor="end">2,500</text>
<text x="1390.2" y="1085.2" font-size="19" text-anchor="end">2,000</text>
<text x="1390.2" y="1139.8" font-size="19" text-anchor="end">1,500</text>
<text x="1390.2" y="1194.3" font-size="19" text-anchor="end">1,000</text>
<text x="1390.2" y="1248.9" font-size="19" text-anchor="end">500</text>
<text x="1390.2" y="1302.7" font-size="19" text-anchor="end">0</text>
<text x="1401.2" y="1324.2" font-size="19" text-anchor="middle">0</text>
<text x="1428.5" y="1324.2" font-size="19" text-anchor="middle">2</text>
<text x="1469" y="1324.2" font-size="19" text-anchor="middle">5</text>
<text x="1510.3" y="1324.2" font-size="19" text-anchor="middle">8</text>
<text x="1605.8" y="1324.2" font-size="19" text-anchor="middle">15</text>
<text x="1810.4" y="1324.2" font-size="19" text-anchor="middle">30</text>
<path d="M1429.5 1188V1210.1M1421.7 1188h15.5M1421.7 1210.1h15.5M1470 1175.1V1206.5M1462.3 1175.1h15.5M1462.3 1206.5h15.5M1511.3 1164.1V1202.8M1503.6 1164.1h15.5M1503.6 1202.8h15.5M1606.8 1170.7V1202.8M1599.1 1170.7h15.5M1599.1 1202.8h15.5M1811.4 1178.8V1210.9M1803.7 1178.8h15.5M1803.7 1210.9h15.5" stroke="#000000" stroke-width="2" fill="none"/>
<circle cx="1402.2" cy="1224.1" r="7.5" fill="#000000"/>
<circle cx="1429.5" cy="1199.1" r="7.5" fill="#000000"/>
<circle cx="1470" cy="1191" r="7.5" fill="#000000"/>
<circle cx="1511.3" cy="1183.6" r="7.5" fill="#000000"/>
<circle cx="1606.8" cy="1186.9" r="7.5" fill="#000000"/>
<circle cx="1811.4" cy="1194.7" r="7.5" fill="#000000"/>
<path d="M1402.2 1224.1L1429.5 1199.1L1470 1191L1511.3 1183.6L1606.8 1186.9L1811.4 1194.7" stroke="#000000" stroke-width="1.9" fill="none" stroke-linejoin="round"/>
<path d="M1429.5 1154.8V1163.3M1429.5 1177.3V1185.4M1421.7 1154.8h15.5M1421.7 1185.4h15.5M1470 1132.7V1143.4M1470 1157.4V1168.8M1462.3 1132.7h15.5M1462.3 1168.8h15.5M1511.3 1121.7V1136M1511.3 1150V1165.2M1503.6 1121.7h15.5M1503.6 1165.2h15.5M1606.8 1130.1V1141.6M1606.8 1155.6V1167.7M1599.1 1130.1h15.5M1599.1 1167.7h15.5M1811.4 1143V1152.6M1811.4 1166.6V1177M1803.7 1143h15.5M1803.7 1177h15.5" stroke="#000000" stroke-width="2" fill="none"/>
<circle cx="1402.2" cy="1212" r="6.5" fill="none" stroke="#000000" stroke-width="2"/>
<circle cx="1429.5" cy="1170.3" r="6.5" fill="none" stroke="#000000" stroke-width="2"/>
<circle cx="1470" cy="1150.4" r="6.5" fill="none" stroke="#000000" stroke-width="2"/>
<circle cx="1511.3" cy="1143" r="6.5" fill="none" stroke="#000000" stroke-width="2"/>
<circle cx="1606.8" cy="1148.6" r="6.5" fill="none" stroke="#000000" stroke-width="2"/>
<circle cx="1811.4" cy="1159.6" r="6.5" fill="none" stroke="#000000" stroke-width="2"/>
<path d="M1402.2 1212L1429.5 1170.3M1429.5 1170.3L1470 1150.4M1470 1150.4L1511.3 1143M1511.3 1143L1606.8 1148.6M1606.8 1148.6L1811.4 1159.6" stroke="#000000" stroke-width="1.9" fill="none" stroke-dasharray="20 18.8"/>
<path d="M1402.2 1202.8V1216M1402.2 1230V1243.3M1394.4 1202.8h15.5M1394.4 1243.3h15.5M1429.5 1154.8V1171.8M1429.5 1185.8V1202M1421.7 1154.8h15.5M1421.7 1202h15.5M1470 1126.1V1148.9M1470 1162.9V1186.2M1462.3 1126.1h15.5M1462.3 1186.2h15.5M1511.3 1105.1V1148.9M1511.3 1162.9V1207.2M1503.6 1105.1h15.5M1503.6 1207.2h15.5M1606.8 1140.1V1161.5M1606.8 1175.5V1197.2M1599.1 1140.1h15.5M1599.1 1197.2h15.5M1811.4 1134.6V1161.5M1811.4 1175.5V1202M1803.7 1134.6h15.5M1803.7 1202h15.5" stroke="#1a8a3a" stroke-width="2" fill="none"/>
<circle cx="1402.2" cy="1223" r="6.5" fill="none" stroke="#1a8a3a" stroke-width="2"/>
<circle cx="1429.5" cy="1178.8" r="6.5" fill="none" stroke="#1a8a3a" stroke-width="2"/>
<circle cx="1470" cy="1155.9" r="6.5" fill="none" stroke="#1a8a3a" stroke-width="2"/>
<circle cx="1511.3" cy="1155.9" r="6.5" fill="none" stroke="#1a8a3a" stroke-width="2"/>
<circle cx="1606.8" cy="1168.5" r="6.5" fill="none" stroke="#1a8a3a" stroke-width="2"/>
<circle cx="1811.4" cy="1168.5" r="6.5" fill="none" stroke="#1a8a3a" stroke-width="2"/>
<path d="M1402.2 1223L1429.5 1178.8M1429.5 1178.8L1470 1155.9M1470 1155.9L1511.3 1155.9M1511.3 1155.9L1606.8 1168.5M1606.8 1168.5L1811.4 1168.5" stroke="#1a8a3a" stroke-width="1.9" fill="none" stroke-dasharray="20 18.8"/>
<path d="M1402.2 1219.4V1248.8M1394.4 1219.4h15.5M1394.4 1248.8h15.5M1429.5 1180.6V1220.5M1421.7 1180.6h15.5M1421.7 1220.5h15.5M1470 1158.5V1204.6M1462.3 1158.5h15.5M1462.3 1204.6h15.5M1511.3 1145.6V1221.2M1503.6 1145.6h15.5M1503.6 1221.2h15.5M1606.8 1175.1V1213.1M1599.1 1175.1h15.5M1599.1 1213.1h15.5M1811.4 1171.4V1218.2M1803.7 1171.4h15.5M1803.7 1218.2h15.5" stroke="#1a8a3a" stroke-width="2" fill="none"/>
<circle cx="1402.2" cy="1234.1" r="7.5" fill="#1a8a3a"/>
<circle cx="1429.5" cy="1200.2" r="7.5" fill="#1a8a3a"/>
<circle cx="1470" cy="1181.4" r="7.5" fill="#1a8a3a"/>
<circle cx="1511.3" cy="1183.2" r="7.5" fill="#1a8a3a"/>
<circle cx="1606.8" cy="1194.3" r="7.5" fill="#1a8a3a"/>
<circle cx="1811.4" cy="1194.7" r="7.5" fill="#1a8a3a"/>
<path d="M1402.2 1234.1L1429.5 1200.2L1470 1181.4L1511.3 1183.2L1606.8 1194.3L1811.4 1194.7" stroke="#1a8a3a" stroke-width="1.9" fill="none" stroke-linejoin="round"/>
</g>
<text x="92.2" y="522" font-size="26.3" text-anchor="middle" transform="rotate(-90 92.2 522)" textLength="178" lengthAdjust="spacingAndGlyphs">MFI pSyk(Y<tspan font-size="15.8" dy="-9.5">352</tspan><tspan dy="9.5">)</tspan></text>
<text x="92.5" y="823" font-size="26.3" text-anchor="middle" transform="rotate(-90 92.5 823)" textLength="168" lengthAdjust="spacingAndGlyphs">MFI pBtk(Y<tspan font-size="15.8" dy="-9.5">223</tspan><tspan dy="9.5">)</tspan></text>
<text x="92.5" y="1156" font-size="26.3" text-anchor="middle" transform="rotate(-90 92.5 1156)" textLength="168" lengthAdjust="spacingAndGlyphs">MFI pAkt(S<tspan font-size="15.8" dy="-9.5">473</tspan><tspan dy="9.5">)</tspan></text>
<text x="194.7" y="1361.4" font-size="26.3" textLength="371.5" lengthAdjust="spacingAndGlyphs">time after BCR activation (min)</text>
<text x="655.6" y="1373.8" font-size="26.3" textLength="38.9" lengthAdjust="spacingAndGlyphs">HD</text>
<line x1="656" y1="1393.4" x2="700" y2="1393.4" stroke="#000" stroke-width="4"/>
<circle cx="678" cy="1393.4" r="8.2" fill="#000"/>
<text x="725.6" y="1373.8" font-size="26.3" textLength="51.8" lengthAdjust="spacingAndGlyphs">SLE</text>
<line x1="733.4" y1="1393.4" x2="777.4" y2="1393.4" stroke="#e8442a" stroke-width="4"/>
<circle cx="755.4" cy="1393.4" r="8.2" fill="#e31e24"/>
<text x="811.5" y="1373.8" font-size="26.3" textLength="37.8" lengthAdjust="spacingAndGlyphs">RA</text>
<line x1="810.8" y1="1393.4" x2="854.8" y2="1393.4" stroke="#1f4e9e" stroke-width="4"/>
<circle cx="832.8" cy="1393.4" r="8.2" fill="#1f4e9e"/>
<text x="880.5" y="1373.8" font-size="26.3" textLength="52.5" lengthAdjust="spacingAndGlyphs">pSS</text>
<line x1="888.2" y1="1393.4" x2="932.2" y2="1393.4" stroke="#1a8a3a" stroke-width="4"/>
<circle cx="910.2" cy="1393.4" r="8.2" fill="#1a8a3a"/>
<text x="944.1" y="1400.8" font-size="26.3" textLength="170" lengthAdjust="spacingAndGlyphs" style="white-space:pre">CD27<tspan font-size="15.8" dy="-9.5">-</tspan><tspan dy="9.5">  B cells</tspan></text>
<line x1="1240.5" y1="1393.4" x2="1250" y2="1393.4" stroke="#000" stroke-width="4.4"/>
<line x1="1275.5" y1="1393.4" x2="1285.5" y2="1393.4" stroke="#000" stroke-width="4.4"/>
<circle cx="1263" cy="1393.4" r="8.6" fill="#fff" stroke="#000" stroke-width="2.6"/>
<line x1="1318.1" y1="1393.4" x2="1327.6" y2="1393.4" stroke="#e8442a" stroke-width="4.4"/>
<line x1="1353.1" y1="1393.4" x2="1363.1" y2="1393.4" stroke="#e8442a" stroke-width="4.4"/>
<circle cx="1340.6" cy="1393.4" r="8.6" fill="#fff" stroke="#e31e24" stroke-width="2.6"/>
<line x1="1395.5" y1="1393.4" x2="1405" y2="1393.4" stroke="#1f4e9e" stroke-width="4.4"/>
<line x1="1430.5" y1="1393.4" x2="1440.5" y2="1393.4" stroke="#1f4e9e" stroke-width="4.4"/>
<circle cx="1418" cy="1393.4" r="8.6" fill="#fff" stroke="#1f4e9e" stroke-width="2.6"/>
<line x1="1473" y1="1393.4" x2="1482.5" y2="1393.4" stroke="#1a8a3a" stroke-width="4.4"/>
<line x1="1508" y1="1393.4" x2="1518" y2="1393.4" stroke="#1a8a3a" stroke-width="4.4"/>
<circle cx="1495.5" cy="1393.4" r="8.6" fill="#fff" stroke="#1a8a3a" stroke-width="2.6"/>
<text x="1529" y="1401.8" font-size="26.3" textLength="281" lengthAdjust="spacingAndGlyphs" style="white-space:pre">CD27<tspan font-size="15.8" dy="-9.5">+</tspan><tspan dy="9.5">  memory B cells</tspan></text>
</g>
<g id="panelEF">
<text x="10.2" y="1472.9" font-size="30" font-weight="bold" textLength="20.5" lengthAdjust="spacingAndGlyphs">E</text>
<text x="11" y="1850.9" font-size="30" font-weight="bold" textLength="18.6" lengthAdjust="spacingAndGlyphs">F</text>
<path d="M218.4 1750.2C220.4 1748.3 226 1745.1 229.5 1739.7C233 1734.3 235.3 1728.8 237.8 1720.3C240.3 1711.9 241.3 1705.1 243.3 1692.7C245.3 1680.2 246.9 1668.6 248.8 1651.2C250.8 1633.8 252.6 1613.3 254.4 1595.9C256.1 1578.5 257 1567.4 258.5 1554.4C260 1541.5 261.5 1530.2 262.7 1524C263.8 1517.8 264.1 1518.4 264.9 1519.9C265.6 1521.4 266.1 1528.1 266.8 1532.3C267.5 1536.5 268 1541.6 268.8 1543.4C269.5 1545.1 270.1 1540.5 271 1542C271.9 1543.5 272.7 1545.9 273.7 1551.7C274.7 1557.4 275.5 1563.8 276.5 1573.8C277.5 1583.7 278.3 1595 279.3 1607C280.3 1618.9 280.8 1627.2 282 1640.1C283.3 1653.1 284.7 1666.9 286.2 1678.8C287.7 1690.8 288.8 1697.5 290.3 1706.5C291.8 1715.5 292.7 1722.1 294.5 1728.6C296.2 1735.1 297.8 1738.7 300 1742.4C302.2 1746.2 304.7 1748 306.9 1749.4C309.2 1750.7 311.4 1750 312.4 1750.2Z" fill="#d0d0d0" fill-opacity="0.9" stroke="#c6c6c6" stroke-width="1.4" stroke-linejoin="round"/>
<path d="M201.8 1750.2C203.8 1749.3 209.4 1748.6 212.9 1745.2C216.4 1741.8 218.7 1737.4 221.2 1731.4C223.7 1725.4 224.7 1721.5 226.7 1712C228.7 1702.6 230.3 1691.8 232.3 1678.8C234.2 1665.9 235.8 1655.1 237.8 1640.1C239.8 1625.2 241.6 1611.3 243.3 1595.9C245.1 1580.5 246.1 1567.9 247.5 1554.4C248.9 1541 249.8 1530.5 251.1 1521.2C252.3 1512 253.3 1504.3 254.4 1503.3C255.5 1502.3 256.1 1513.7 257.1 1515.7C258.1 1517.7 258.9 1512.8 259.9 1514.3C260.9 1515.8 261.7 1518.3 262.7 1524C263.7 1529.7 264.2 1536.7 265.4 1546.1C266.7 1555.6 268.1 1565.1 269.6 1576.5C271.1 1588 272.2 1597.3 273.7 1609.7C275.2 1622.2 276.4 1633.2 277.9 1645.7C279.4 1658.1 280.5 1667.9 282 1678.8C283.5 1689.8 284.7 1697.5 286.2 1706.5C287.7 1715.5 288.6 1722.6 290.3 1728.6C292.1 1734.6 293.4 1736.7 295.9 1739.7C298.3 1742.7 300.7 1743.5 304.1 1745.2C307.6 1746.9 312.2 1748.5 315.2 1749.4C318.2 1750.3 319.7 1750 320.7 1750.2Z" fill="#f3bfc1" fill-opacity="0.85" stroke="#f09a9e" stroke-width="1.4" stroke-linejoin="round"/>
<path d="M204.6 1749.9C206.1 1749.1 210.4 1747.5 212.9 1745.2C215.4 1742.9 216.4 1740.9 218.4 1736.9C220.4 1732.9 222.2 1728.1 224 1723.1C225.7 1718.1 226.6 1713.7 228.1 1709.3C229.6 1704.8 230.8 1700.7 232.3 1698.2C233.8 1695.7 234.7 1696.7 236.4 1695.4C238.1 1694.2 240.2 1691.3 241.9 1691.3C243.7 1691.3 244.3 1693.2 246.1 1695.4C247.8 1697.7 249.9 1703.2 251.6 1703.7C253.4 1704.2 254.3 1699.7 255.8 1698.2C257.3 1696.7 258.2 1698.9 259.9 1695.4C261.6 1692 263.4 1685.3 265.4 1678.8C267.4 1672.4 269 1668.5 271 1659.5C273 1650.5 274.8 1639.5 276.5 1629.1C278.2 1618.6 279.2 1611.4 280.6 1601.4C282.1 1591.5 283.3 1583.7 284.8 1573.8C286.3 1563.8 287.7 1553.8 288.9 1546.1C290.2 1538.4 290.7 1533.9 291.7 1530.9C292.7 1527.9 293.5 1527.8 294.5 1529.5C295.5 1531.3 296.2 1542.1 297.2 1540.6C298.2 1539.1 299 1527.8 300 1521.2C301 1514.7 301.8 1506.1 302.8 1504.1C303.8 1502.1 304.5 1506.6 305.5 1510.2C306.5 1513.8 307.4 1521 308.3 1524C309.1 1527 309.5 1522.8 310.2 1526.8C311 1530.8 311.5 1538.7 312.4 1546.1C313.3 1553.6 314.2 1560.8 315.2 1568.2C316.2 1575.7 317 1580.1 318 1587.6C319 1595.1 319.7 1601.3 320.7 1609.7C321.7 1618.2 322.5 1625.6 323.5 1634.6C324.5 1643.6 325 1651.5 326.3 1659.5C327.5 1667.5 328.9 1671.4 330.4 1678.8C331.9 1686.3 333.1 1693.5 334.6 1701C336.1 1708.4 337.2 1714.4 338.7 1720.3C340.2 1726.3 341.4 1729.7 342.9 1734.1C344.4 1738.6 345.3 1742.4 347 1745.2C348.7 1748 351.5 1749.1 352.5 1749.9" fill="none" stroke="#e8282c" stroke-width="1.6" stroke-linejoin="round"/>
<path d="M215.7 1749.9C217.2 1749.1 221 1748 224 1745.2C226.9 1742.4 229.3 1738.1 232.3 1734.1C235.2 1730.2 237.8 1726.8 240.6 1723.1C243.3 1719.4 245.2 1715.6 247.5 1713.4C249.7 1711.2 251 1712.9 253 1710.6C255 1708.4 256.5 1705.2 258.5 1701C260.5 1696.7 262.3 1691.9 264.1 1687.1C265.8 1682.4 266.9 1677.4 268.2 1674.7C269.5 1672 270.4 1675.2 271.5 1671.9C272.6 1668.7 273.1 1663.4 274.3 1656.7C275.4 1650 276.7 1640.6 277.9 1634.6C279 1628.6 279.6 1625.8 280.6 1623.5C281.6 1621.3 282.4 1625.2 283.4 1622.2C284.4 1619.2 285.2 1614.7 286.2 1607C287.2 1599.2 287.9 1589.3 288.9 1579.3C289.9 1569.4 290.7 1559.4 291.7 1551.7C292.7 1543.9 293.6 1538.4 294.5 1536.5C295.3 1534.5 295.7 1536.6 296.4 1540.6C297.2 1544.6 297.7 1557.6 298.6 1558.6C299.5 1559.6 300.5 1549.9 301.4 1546.1C302.2 1542.4 302.6 1536.3 303.3 1537.8C304.1 1539.3 304.6 1548 305.5 1554.4C306.4 1560.9 307.3 1567.3 308.3 1573.8C309.3 1580.2 310.1 1585.1 311.1 1590.4C312.1 1595.6 312.8 1601.3 313.8 1602.8C314.8 1604.3 315.6 1596.9 316.6 1598.7C317.6 1600.4 318.4 1607.5 319.4 1612.5C320.4 1617.5 321.1 1621.3 322.1 1626.3C323.1 1631.3 323.9 1634.9 324.9 1640.1C325.9 1645.4 326.4 1651.9 327.6 1655.3C328.9 1658.8 330.6 1656.8 331.8 1659.5C333 1662.2 333.6 1667.3 334.6 1670.6C335.6 1673.8 336.1 1673.5 337.3 1677.5C338.6 1681.4 340 1686.9 341.5 1692.7C343 1698.4 344.1 1703.3 345.6 1709.3C347.1 1715.2 348 1720.4 349.8 1725.9C351.5 1731.3 353.1 1735.9 355.3 1739.7C357.5 1743.4 359.5 1744.7 362.2 1746.6C364.9 1748.4 369 1749.3 370.5 1749.9" fill="none" stroke="#000000" stroke-width="2" stroke-linejoin="round"/>
<rect x="165.9" y="1484.7" width="265.4" height="265.5" fill="none" stroke="#000" stroke-width="2"/>
<path d="M158.5 1750.2h7.4M161.9 1737.5h4M161.9 1724.9h4M161.9 1712.2h4M158.5 1699.6h7.4M161.9 1687h4M161.9 1674.3h4M161.9 1661.7h4M158.5 1649h7.4M161.9 1636.4h4M161.9 1623.7h4M161.9 1611h4M158.5 1598.4h7.4M161.9 1585.8h4M161.9 1573.1h4M161.9 1560.5h4M158.5 1547.8h7.4M161.9 1535.2h4M161.9 1522.5h4M161.9 1509.9h4M158.5 1497.2h7.4" stroke="#000" stroke-width="1.8" fill="none"/>
<path d="M182.5 1750.2v7.6M225.3 1750.2v7.6M269.6 1750.2v7.6M342.9 1750.2v7.6M405.9 1750.2v7.6M203.8 1750.2v5.2M247.5 1750.2v5.2M320.7 1750.2v5.2M387.1 1750.2v5.2M185.8 1750.2v4M188.8 1750.2v4M191.6 1750.2v4M194.4 1750.2v4M197.1 1750.2v4M200.5 1750.2v4M210.1 1750.2v4M214.3 1750.2v4M218.4 1750.2v4M235 1750.2v4M239.2 1750.2v4M243.3 1750.2v4M251.6 1750.2v4M255.8 1750.2v4M259.9 1750.2v4M263.2 1750.2v4M266.3 1750.2v4M293.1 1750.2v4M306.9 1750.2v4M315.2 1750.2v4M327.6 1750.2v4M331.8 1750.2v4M335.1 1750.2v4M338.7 1750.2v4M363.6 1750.2v4M374.7 1750.2v4M381.6 1750.2v4M391.2 1750.2v4M394.8 1750.2v4M398.2 1750.2v4M401.5 1750.2v4M424.4 1750.2v4" stroke="#000" stroke-width="1.4" fill="none"/>
<rect x="221.2" y="1750.2" width="8.6" height="6.8" fill="#000"/>
<text x="152.9" y="1750" font-size="19.5" text-anchor="end">0</text>
<text x="152.9" y="1705.4" font-size="19.5" text-anchor="end">20</text>
<text x="152.9" y="1654.8" font-size="19.5" text-anchor="end">40</text>
<text x="152.9" y="1604.2" font-size="19.5" text-anchor="end">60</text>
<text x="152.9" y="1553.6" font-size="19.5" text-anchor="end">80</text>
<text x="157.9" y="1503" font-size="19.5" text-anchor="end">100</text>
<text x="169.5" y="1778.4" font-size="19" letter-spacing="0.9">-10<tspan font-size="12" dy="-13.3">3</tspan></text>
<text x="224.5" y="1778.4" font-size="19" text-anchor="middle">0</text>
<text x="260.7" y="1778.4" font-size="19" letter-spacing="1">10<tspan font-size="12" dy="-13.3">3</tspan></text>
<text x="334" y="1778.4" font-size="19" letter-spacing="1">10<tspan font-size="12" dy="-13.3">4</tspan></text>
<text x="396.2" y="1778.4" font-size="19" letter-spacing="1">10<tspan font-size="12" dy="-13.3">5</tspan></text>
<text x="298.6" y="1804" font-size="26.3" text-anchor="middle" textLength="123" lengthAdjust="spacingAndGlyphs">pSyk(Y<tspan font-size="15.3" dy="-9.2">352</tspan><tspan dy="9.2">)</tspan></text>
<text x="204" y="1476.5" font-size="26.3" textLength="189.5" lengthAdjust="spacingAndGlyphs">gated on CD27<tspan font-size="15.8" dy="-9.5">-</tspan></text>
<text x="106.6" y="1617.5" font-size="26.3" text-anchor="middle" transform="rotate(-90 106.6 1617.5)" textLength="177" lengthAdjust="spacingAndGlyphs">realtive counts</text>
<path d="M1072.7 1750.2C1074.7 1748.8 1080.3 1746.3 1083.8 1742.4C1087.3 1738.6 1089.6 1735.1 1092.1 1728.6C1094.6 1722.1 1095.6 1717.9 1097.6 1706.5C1099.6 1695.1 1101.4 1680 1103.1 1665C1104.9 1650.1 1105.8 1639 1107.3 1623.5C1108.8 1608.1 1109.9 1594.2 1111.4 1579.3C1112.9 1564.4 1114.3 1551.1 1115.6 1540.6C1116.8 1530.1 1117.4 1525.3 1118.3 1521.2C1119.2 1517.2 1119.8 1516.9 1120.6 1517.9C1121.3 1518.9 1121.7 1523.4 1122.5 1526.8C1123.2 1530.1 1123.7 1534 1124.7 1536.5C1125.7 1538.9 1127 1538.9 1128 1540.6C1129 1542.3 1129.5 1546.6 1130.2 1546.1C1131 1545.6 1131.5 1536.8 1132.2 1537.8C1132.9 1538.8 1133.4 1544.2 1134.1 1551.7C1134.8 1559.1 1135.4 1567.4 1136.3 1579.3C1137.2 1591.3 1138.1 1604.1 1139.1 1618C1140.1 1632 1140.8 1644.8 1141.8 1656.7C1142.8 1668.7 1143.6 1675.4 1144.6 1684.4C1145.6 1693.3 1146.1 1698.5 1147.4 1706.5C1148.6 1714.5 1150 1722.4 1151.5 1728.6C1153 1734.8 1153.9 1737.6 1155.7 1741.1C1157.4 1744.5 1159.2 1746.3 1161.2 1748C1163.2 1749.6 1165.7 1749.8 1166.7 1750.2Z" fill="#d0d0d0" fill-opacity="0.9" stroke="#c6c6c6" stroke-width="1.4" stroke-linejoin="round"/>
<path d="M1058.9 1750.2C1060.9 1749.3 1066.5 1748.1 1070 1745.2C1073.4 1742.3 1075.8 1739.6 1078.2 1734.1C1080.7 1728.7 1081.8 1723.3 1083.8 1714.8C1085.8 1706.3 1087.3 1698.6 1089.3 1687.1C1091.3 1675.7 1093.1 1662.6 1094.8 1651.2C1096.6 1639.8 1097.5 1632.5 1099 1623.5C1100.5 1614.6 1101.8 1609.4 1103.1 1601.4C1104.5 1593.5 1105.5 1584.5 1106.5 1579.3C1107.4 1574.1 1107.9 1573.4 1108.7 1572.4C1109.5 1571.4 1110.1 1577 1110.9 1573.8C1111.6 1570.5 1112.1 1560.1 1112.8 1554.4C1113.5 1548.7 1114.1 1544.5 1114.7 1542C1115.4 1539.5 1115.8 1538.4 1116.4 1540.6C1117.1 1542.8 1117.5 1547.5 1118.3 1554.4C1119.2 1561.4 1119.9 1569.4 1121.1 1579.3C1122.4 1589.3 1123.8 1598.8 1125.3 1609.7C1126.7 1620.7 1127.9 1629.7 1129.4 1640.1C1130.9 1650.6 1132.1 1657.8 1133.5 1667.8C1135 1677.7 1136.2 1687 1137.7 1695.4C1139.2 1703.9 1140.4 1708.8 1141.8 1714.8C1143.3 1720.8 1144.2 1724.6 1146 1728.6C1147.7 1732.6 1149.3 1734.2 1151.5 1736.9C1153.8 1739.6 1155.7 1741.8 1158.4 1743.8C1161.2 1745.8 1163.7 1746.8 1166.7 1748C1169.7 1749.1 1173.5 1749.8 1175 1750.2Z" fill="#f3bfc1" fill-opacity="0.85" stroke="#f09a9e" stroke-width="1.4" stroke-linejoin="round"/>
<path d="M1061.7 1749.9C1063.6 1749.1 1069.2 1747.5 1072.7 1745.2C1076.2 1742.9 1078.3 1740.4 1081 1736.9C1083.8 1733.4 1085.9 1729.1 1087.9 1725.9C1089.9 1722.6 1090.3 1721.4 1092.1 1718.9C1093.8 1716.5 1095.9 1715.8 1097.6 1712C1099.3 1708.3 1100.3 1702.7 1101.8 1698.2C1103.2 1693.7 1104.6 1690.4 1105.9 1687.1C1107.2 1683.9 1108 1681.7 1109.2 1680.2C1110.5 1678.7 1111.4 1681.1 1112.8 1678.8C1114.2 1676.6 1115.5 1671.8 1117 1667.8C1118.5 1663.8 1119.6 1660.7 1121.1 1656.7C1122.6 1652.7 1123.8 1650.1 1125.3 1645.7C1126.7 1641.2 1128.2 1637.8 1129.4 1631.8C1130.6 1625.9 1131.2 1617.5 1132.2 1612.5C1133.2 1607.5 1133.9 1609.2 1134.9 1604.2C1135.9 1599.2 1136.7 1589.8 1137.7 1584.8C1138.7 1579.9 1139.5 1578.3 1140.5 1576.5C1141.5 1574.8 1142.2 1578.6 1143.2 1575.2C1144.2 1571.7 1145 1564.4 1146 1557.2C1147 1550 1147.8 1541 1148.8 1535.1C1149.8 1529.1 1150.5 1525.8 1151.5 1524C1152.5 1522.3 1153.3 1525.9 1154.3 1525.4C1155.3 1524.9 1156.1 1520 1157.1 1521.2C1158 1522.5 1158.8 1526.8 1159.8 1532.3C1160.8 1537.8 1161.6 1543.2 1162.6 1551.7C1163.6 1560.1 1164.4 1570.4 1165.3 1579.3C1166.3 1588.3 1167.1 1593.5 1168.1 1601.4C1169.1 1609.4 1169.9 1615.6 1170.9 1623.5C1171.9 1631.5 1172.6 1637.7 1173.6 1645.7C1174.6 1653.6 1175.4 1661.3 1176.4 1667.8C1177.4 1674.3 1178.2 1675.6 1179.2 1681.6C1180.2 1687.6 1180.7 1694 1181.9 1701C1183.2 1707.9 1184.6 1714.6 1186.1 1720.3C1187.6 1726 1188.7 1729 1190.2 1732.8C1191.7 1736.5 1192.6 1738.6 1194.4 1741.1C1196.1 1743.5 1197.4 1745 1199.9 1746.6C1202.4 1748.2 1206.7 1749.3 1208.2 1749.9" fill="none" stroke="#e8282c" stroke-width="1.6" stroke-linejoin="round"/>
<path d="M1075.5 1749.9C1077.5 1749.3 1083.1 1748.4 1086.5 1746.6C1090 1744.7 1092.4 1742.4 1094.8 1739.7C1097.3 1736.9 1098.6 1734.1 1100.4 1731.4C1102.1 1728.6 1103 1726 1104.5 1724.5C1106 1723 1107.2 1725.3 1108.7 1723.1C1110.2 1720.8 1111.3 1716.5 1112.8 1712C1114.3 1707.5 1115.5 1703.7 1117 1698.2C1118.5 1692.7 1119.7 1687.6 1121.1 1681.6C1122.5 1675.6 1123.6 1669.5 1124.7 1665C1125.8 1660.5 1126.4 1658.2 1127.5 1656.7C1128.6 1655.2 1129.7 1659.2 1130.8 1656.7C1131.9 1654.2 1132.5 1648.9 1133.5 1642.9C1134.6 1636.9 1135.6 1630 1136.9 1623.5C1138.1 1617.1 1139.3 1610.8 1140.5 1607C1141.6 1603.1 1142.2 1602 1143.2 1602C1144.2 1602 1145 1608.1 1146 1607C1147 1605.9 1147.8 1602.4 1148.8 1595.9C1149.8 1589.4 1150.7 1576.5 1151.5 1571C1152.4 1565.5 1152.7 1565.5 1153.5 1565.5C1154.2 1565.5 1154.8 1567.8 1155.7 1571C1156.6 1574.2 1157.5 1583 1158.4 1583.5C1159.3 1584 1159.9 1577 1160.6 1573.8C1161.4 1570.5 1161.9 1564.5 1162.6 1565.5C1163.3 1566.5 1163.8 1573.6 1164.5 1579.3C1165.3 1585 1165.9 1595.3 1166.7 1597.3C1167.5 1599.3 1167.9 1595.6 1168.9 1590.4C1169.9 1585.1 1171.2 1575.2 1172.3 1568.2C1173.4 1561.3 1173.9 1556.6 1175 1551.7C1176.1 1546.7 1177.2 1542.9 1178.3 1540.6C1179.4 1538.3 1180.1 1538.2 1181.1 1538.7C1182.1 1539.2 1182.9 1541 1183.9 1543.4C1184.9 1545.7 1185.5 1548.4 1186.6 1551.7C1187.8 1554.9 1189.1 1559.3 1190.2 1561.3C1191.4 1563.3 1192.1 1560.5 1193 1562.7C1193.8 1565 1194.2 1566.8 1194.9 1573.8C1195.7 1580.7 1196.2 1590.5 1197.1 1601.4C1198 1612.4 1198.9 1623.2 1199.9 1634.6C1200.9 1646.1 1201.7 1654.6 1202.7 1665C1203.7 1675.5 1204.2 1683.2 1205.4 1692.7C1206.7 1702.1 1208.1 1710.1 1209.6 1717.6C1211.1 1725 1212.2 1729.4 1213.7 1734.1C1215.2 1738.9 1215.6 1741 1217.9 1743.8C1220.1 1746.7 1224.7 1748.8 1226.2 1749.9" fill="none" stroke="#000000" stroke-width="2" stroke-linejoin="round"/>
<rect x="1013.3" y="1484.7" width="266.2" height="265.5" fill="none" stroke="#000" stroke-width="2"/>
<path d="M1005.9 1750.2h7.4M1009.3 1737.5h4M1009.3 1724.9h4M1009.3 1712.2h4M1005.9 1699.6h7.4M1009.3 1687h4M1009.3 1674.3h4M1009.3 1661.7h4M1005.9 1649h7.4M1009.3 1636.4h4M1009.3 1623.7h4M1009.3 1611h4M1005.9 1598.4h7.4M1009.3 1585.8h4M1009.3 1573.1h4M1009.3 1560.5h4M1005.9 1547.8h7.4M1009.3 1535.2h4M1009.3 1522.5h4M1009.3 1509.9h4M1005.9 1497.2h7.4" stroke="#000" stroke-width="1.8" fill="none"/>
<path d="M1029.9 1750.2v7.6M1072.7 1750.2v7.6M1117 1750.2v7.6M1190.2 1750.2v7.6M1253.3 1750.2v7.6M1051.2 1750.2v5.2M1094.8 1750.2v5.2M1168.1 1750.2v5.2M1234.5 1750.2v5.2M1033.2 1750.2v4M1036.2 1750.2v4M1039 1750.2v4M1041.8 1750.2v4M1044.5 1750.2v4M1047.8 1750.2v4M1057.5 1750.2v4M1061.7 1750.2v4M1065.8 1750.2v4M1082.4 1750.2v4M1086.5 1750.2v4M1090.7 1750.2v4M1099 1750.2v4M1103.1 1750.2v4M1107.3 1750.2v4M1110.6 1750.2v4M1113.6 1750.2v4M1140.5 1750.2v4M1154.3 1750.2v4M1162.6 1750.2v4M1175 1750.2v4M1179.2 1750.2v4M1182.5 1750.2v4M1186.1 1750.2v4M1211 1750.2v4M1222 1750.2v4M1228.9 1750.2v4M1238.6 1750.2v4M1242.2 1750.2v4M1245.5 1750.2v4M1248.8 1750.2v4M1271.8 1750.2v4" stroke="#000" stroke-width="1.4" fill="none"/>
<rect x="1068.6" y="1750.2" width="8.6" height="6.8" fill="#000"/>
<text x="1000.3" y="1750" font-size="19.5" text-anchor="end">0</text>
<text x="1000.3" y="1705.4" font-size="19.5" text-anchor="end">20</text>
<text x="1000.3" y="1654.8" font-size="19.5" text-anchor="end">40</text>
<text x="1000.3" y="1604.2" font-size="19.5" text-anchor="end">60</text>
<text x="1000.3" y="1553.6" font-size="19.5" text-anchor="end">80</text>
<text x="1005.3" y="1503" font-size="19.5" text-anchor="end">100</text>
<text x="1016.9" y="1778.4" font-size="19" letter-spacing="0.9">-10<tspan font-size="12" dy="-13.3">3</tspan></text>
<text x="1071.9" y="1778.4" font-size="19" text-anchor="middle">0</text>
<text x="1108.1" y="1778.4" font-size="19" letter-spacing="1">10<tspan font-size="12" dy="-13.3">3</tspan></text>
<text x="1181.4" y="1778.4" font-size="19" letter-spacing="1">10<tspan font-size="12" dy="-13.3">4</tspan></text>
<text x="1243.6" y="1778.4" font-size="19" letter-spacing="1">10<tspan font-size="12" dy="-13.3">5</tspan></text>
<text x="1146" y="1804" font-size="26.3" text-anchor="middle" textLength="123" lengthAdjust="spacingAndGlyphs">pSyk(Y<tspan font-size="15.3" dy="-9.2">352</tspan><tspan dy="9.2">)</tspan></text>
<text x="1050" y="1476.5" font-size="26.3" textLength="192" lengthAdjust="spacingAndGlyphs">gated on CD27<tspan font-size="15.8" dy="-9.5">+</tspan></text>
<path d="M212.9 2136.8C214.4 2133.7 218.7 2128.7 221.2 2119.7C223.7 2110.6 224.7 2101.4 226.7 2086.5C228.7 2071.6 230.5 2052.7 232.3 2036.7C234 2020.8 235.2 2010 236.4 1998C237.6 1986.1 238.2 1977.3 239.2 1970.4C240.2 1963.4 240.9 1961.1 241.9 1959.3C242.9 1957.6 243.7 1962.7 244.7 1960.7C245.7 1958.7 246.5 1953.5 247.5 1948.2C248.5 1943 249.2 1937.6 250.2 1931.7C251.2 1925.7 252 1921 253 1915.1C254 1909.1 254.8 1902.4 255.8 1898.5C256.8 1894.6 257.5 1893 258.5 1893.5C259.5 1894 260.3 1897.4 261.3 1901.2C262.3 1905.1 263.1 1909.6 264.1 1915.1C265.1 1920.5 265.8 1927.2 266.8 1931.7C267.8 1936.1 268.6 1937.5 269.6 1940C270.6 1942.4 271.4 1940 272.4 1945.5C273.3 1951 274.1 1960.9 275.1 1970.4C276.1 1979.8 276.9 1987.1 277.9 1998C278.9 2009 279.6 2019.3 280.6 2031.2C281.6 2043.1 282.2 2052.4 283.4 2064.4C284.7 2076.3 285.8 2088.1 287.6 2097.6C289.3 2107 290.6 2111.2 293.1 2116.9C295.6 2122.6 297.9 2126 301.4 2129.4C304.9 2132.7 309 2134.4 312.4 2135.7C315.9 2137.1 319.2 2136.6 320.7 2136.8Z" fill="#d2d2d2" fill-opacity="0.9" stroke="#cacaca" stroke-width="1.4" stroke-linejoin="round"/>
<path d="M215.7 2136.8C216.9 2134.2 220.3 2130 222.6 2122.4C224.8 2114.9 226.1 2107.2 228.1 2094.8C230.1 2082.4 231.6 2068.7 233.6 2053.3C235.6 2037.9 237.2 2023 239.2 2009.1C241.2 1995.1 243 1985.9 244.7 1975.9C246.4 1965.9 247.4 1962.2 248.8 1953.8C250.3 1945.3 251.8 1936.1 253 1928.9C254.2 1921.7 254.9 1916.9 255.8 1913.7C256.6 1910.5 256.8 1910.2 257.7 1910.9C258.5 1911.7 259.5 1914.1 260.5 1917.8C261.5 1921.6 262.1 1927.7 263.2 1931.7C264.4 1935.6 265.4 1934 266.8 1940C268.2 1945.9 269.5 1953.4 271 1964.8C272.5 1976.3 273.6 1990.1 275.1 2003.5C276.6 2017 277.8 2027.1 279.3 2039.5C280.8 2051.9 281.7 2061.2 283.4 2072.7C285.2 2084.1 286.7 2094.1 288.9 2103.1C291.2 2112 293.1 2117.2 295.9 2122.4C298.6 2127.7 300.7 2129.6 304.1 2132.1C307.6 2134.6 312.2 2135.4 315.2 2136.3C318.2 2137.1 319.7 2136.7 320.7 2136.8Z" fill="#bcd8a6" fill-opacity="0.9" stroke="#a9cf8f" stroke-width="1.4" stroke-linejoin="round"/>
<path d="M207.4 2136.5C208.6 2135.5 212 2134.8 214.3 2130.7C216.5 2126.7 218.1 2122.1 219.8 2114.1C221.6 2106.2 222.5 2098.4 224 2086.5C225.5 2074.6 226.6 2062.7 228.1 2047.8C229.6 2032.9 230.8 2019.5 232.3 2003.5C233.8 1987.6 235.2 1971.8 236.4 1959.3C237.6 1946.9 238.2 1941.4 239.2 1934.4C240.2 1927.5 240.9 1923.7 241.9 1920.6C242.9 1917.5 243.7 1916.8 244.7 1917.3C245.7 1917.8 246.5 1919.8 247.5 1923.4C248.5 1926.9 249.4 1933.2 250.2 1937.2C251.1 1941.2 251.4 1947 252.2 1945.5C252.9 1944 253.6 1933.4 254.4 1928.9C255.1 1924.4 255.7 1919.6 256.3 1920.6C257 1921.6 257.3 1924.5 258 1934.4C258.6 1944.4 259.2 1966.2 259.9 1975.9C260.6 1985.6 261.1 1987.8 261.8 1988.3C262.6 1988.8 263.3 1978.9 264.1 1978.7C264.8 1978.4 265.2 1982 266 1987C266.7 1991.9 267.3 2002.3 268.2 2006.3C269.1 2010.3 270 2010.1 271 2009.1C272 2008.1 272.7 2007.3 273.7 2000.8C274.7 1994.3 275.5 1979.1 276.5 1973.1C277.5 1967.2 278.4 1970.1 279.3 1967.6C280.2 1965.1 280.7 1961.8 281.5 1959.3C282.2 1956.8 282.6 1953.5 283.4 1953.8C284.3 1954 285.3 1961.7 286.2 1960.7C287 1959.7 287.4 1955.5 288.1 1948.2C288.9 1941 289.6 1926.5 290.3 1920.6C291.1 1914.7 291.5 1915.6 292.3 1915.6C293 1915.6 293.6 1919 294.5 1920.6C295.4 1922.2 296.2 1923.8 297.2 1924.7C298.2 1925.7 299 1923.9 300 1926.1C301 1928.4 301.9 1936.7 302.8 1937.2C303.6 1937.7 304 1931.9 304.7 1928.9C305.4 1925.9 306.1 1918.6 306.9 1920.6C307.7 1922.6 308.4 1932 309.1 1940C309.9 1947.9 310.2 1955.4 311.1 1964.8C311.9 1974.3 312.8 1982.5 313.8 1992.5C314.8 2002.4 315.6 2010.7 316.6 2020.1C317.6 2029.6 318.4 2036.1 319.4 2045C320.4 2054 321 2060.5 322.1 2069.9C323.3 2079.4 324.5 2089.6 325.7 2097.6C327 2105.5 327.4 2109.2 329 2114.1C330.6 2119.1 332.3 2121.7 334.6 2125.2C336.8 2128.7 339 2131.5 341.5 2133.5C344 2135.5 347.1 2136 348.4 2136.5" fill="none" stroke="#000000" stroke-width="2" stroke-linejoin="round"/>
<path d="M210.1 2136.5C211.4 2135.5 215.1 2134.3 217.1 2130.7C219 2127.2 219.7 2124.4 221.2 2116.9C222.7 2109.4 223.9 2101.2 225.3 2089.3C226.8 2077.3 228 2066 229.5 2050.6C231 2035.1 232.2 2020 233.6 2003.5C235 1987.1 236.1 1972.7 237.2 1959.3C238.4 1945.9 239 1936.5 240 1928.9C241 1921.3 241.8 1918.8 242.8 1917.3C243.8 1915.8 244.5 1917.5 245.5 1920.6C246.5 1923.7 247.3 1932.4 248.3 1934.4C249.3 1936.4 250.2 1933.4 251.1 1931.7C251.9 1929.9 252.3 1924.2 253 1924.7C253.7 1925.2 254.2 1928.7 254.9 1934.4C255.7 1940.1 256.2 1948.6 257.1 1956.5C258 1964.5 258.9 1973.7 259.9 1978.7C260.9 1983.6 261.6 1983.4 262.7 1984.2C263.8 1984.9 264.7 1982.1 266 1982.8C267.2 1983.6 268.2 1986.8 269.6 1988.3C271 1989.8 272.5 1991.9 273.7 1991.1C275 1990.4 275.5 1986.7 276.5 1984.2C277.5 1981.7 278.3 1978 279.3 1977.3C280.3 1976.5 281 1976.8 282 1980C283 1983.3 283.8 1992 284.8 1995.3C285.8 1998.5 286.7 1998.3 287.6 1998C288.5 1997.8 288.9 1992.6 289.8 1993.9C290.7 1995.1 291.5 2005.2 292.5 2004.9C293.5 2004.7 294.5 1995.2 295.3 1992.5C296.1 1989.8 296.5 1986.7 297.2 1989.7C298 1992.7 298.6 2004.1 299.4 2009.1C300.3 2014.1 301.1 2016.9 301.9 2017.4C302.8 2017.9 303.4 2013.1 304.1 2011.8C304.9 2010.6 305.5 2008.5 306.4 2010.5C307.3 2012.5 308.1 2017.7 309.1 2022.9C310.1 2028.1 310.8 2035.5 311.9 2039.5C313 2043.5 314.1 2042.5 315.2 2045C316.3 2047.5 317 2049.3 318 2053.3C319 2057.3 319.6 2061.2 320.7 2067.1C321.8 2073.1 322.8 2079 324.1 2086.5C325.3 2094 326.3 2103.6 327.6 2108.6C329 2113.6 330.1 2111.2 331.8 2114.1C333.5 2117.1 335.3 2121.7 337.3 2125.2C339.3 2128.7 340.6 2131.5 342.9 2133.5C345.1 2135.5 348.5 2136 349.8 2136.5" fill="none" stroke="#1fa01f" stroke-width="1.7" stroke-linejoin="round"/>
<rect x="165.9" y="1871.4" width="265.4" height="265.4" fill="none" stroke="#000" stroke-width="2"/>
<path d="M158.5 2136.8h7.4M161.9 2124.2h4M161.9 2111.5h4M161.9 2098.9h4M158.5 2086.2h7.4M161.9 2073.6h4M161.9 2060.9h4M161.9 2048.3h4M158.5 2035.6h7.4M161.9 2023h4M161.9 2010.4h4M161.9 1997.7h4M158.5 1985.1h7.4M161.9 1972.4h4M161.9 1959.8h4M161.9 1947.1h4M158.5 1934.5h7.4M161.9 1921.8h4M161.9 1909.2h4M161.9 1896.5h4M158.5 1883.9h7.4" stroke="#000" stroke-width="1.8" fill="none"/>
<path d="M182.5 2136.8v7.6M225.3 2136.8v7.6M269.6 2136.8v7.6M342.9 2136.8v7.6M405.9 2136.8v7.6M203.8 2136.8v5.2M247.5 2136.8v5.2M320.7 2136.8v5.2M387.1 2136.8v5.2M185.8 2136.8v4M188.8 2136.8v4M191.6 2136.8v4M194.4 2136.8v4M197.1 2136.8v4M200.5 2136.8v4M210.1 2136.8v4M214.3 2136.8v4M218.4 2136.8v4M235 2136.8v4M239.2 2136.8v4M243.3 2136.8v4M251.6 2136.8v4M255.8 2136.8v4M259.9 2136.8v4M263.2 2136.8v4M266.3 2136.8v4M293.1 2136.8v4M306.9 2136.8v4M315.2 2136.8v4M327.6 2136.8v4M331.8 2136.8v4M335.1 2136.8v4M338.7 2136.8v4M363.6 2136.8v4M374.7 2136.8v4M381.6 2136.8v4M391.2 2136.8v4M394.8 2136.8v4M398.2 2136.8v4M401.5 2136.8v4M424.4 2136.8v4" stroke="#000" stroke-width="1.4" fill="none"/>
<rect x="221.2" y="2136.8" width="8.6" height="6.8" fill="#000"/>
<text x="152.9" y="2136.6" font-size="19.5" text-anchor="end">0</text>
<text x="152.9" y="2092" font-size="19.5" text-anchor="end">20</text>
<text x="152.9" y="2041.5" font-size="19.5" text-anchor="end">40</text>
<text x="152.9" y="1990.9" font-size="19.5" text-anchor="end">60</text>
<text x="152.9" y="1940.3" font-size="19.5" text-anchor="end">80</text>
<text x="157.9" y="1889.7" font-size="19.5" text-anchor="end">100</text>
<text x="169.5" y="2165" font-size="19" letter-spacing="0.9">-10<tspan font-size="12" dy="-13.3">3</tspan></text>
<text x="224.5" y="2165" font-size="19" text-anchor="middle">0</text>
<text x="260.7" y="2165" font-size="19" letter-spacing="1">10<tspan font-size="12" dy="-13.3">3</tspan></text>
<text x="334" y="2165" font-size="19" letter-spacing="1">10<tspan font-size="12" dy="-13.3">4</tspan></text>
<text x="396.2" y="2165" font-size="19" letter-spacing="1">10<tspan font-size="12" dy="-13.3">5</tspan></text>
<text x="298.6" y="2190.8" font-size="26.3" text-anchor="middle" textLength="123" lengthAdjust="spacingAndGlyphs">pSyk(Y<tspan font-size="15.3" dy="-9.2">352</tspan><tspan dy="9.2">)</tspan></text>
<text x="204" y="1863.1" font-size="26.3" textLength="189.5" lengthAdjust="spacingAndGlyphs">gated on CD27<tspan font-size="15.8" dy="-9.5">-</tspan></text>
<text x="106.6" y="2004.1" font-size="26.3" text-anchor="middle" transform="rotate(-90 106.6 2004.1)" textLength="177" lengthAdjust="spacingAndGlyphs">realtive counts</text>
<path d="M1056.1 2139.9C1058.1 2138.7 1063.7 2137.1 1067.2 2133.5C1070.7 2129.9 1073 2125.2 1075.5 2119.7C1078 2114.2 1079.3 2110.1 1081 2103.1C1082.8 2096.1 1083.7 2089.9 1085.2 2081C1086.7 2072 1087.8 2064.3 1089.3 2053.3C1090.8 2042.4 1092 2032.1 1093.5 2020.1C1094.9 2008.2 1096.1 1996.9 1097.6 1987C1099.1 1977 1100.3 1971.3 1101.8 1964.8C1103.2 1958.4 1104.4 1954 1105.9 1951C1107.4 1948 1108.8 1948.2 1110 1948.2C1111.3 1948.2 1111.8 1951.5 1112.8 1951C1113.8 1950.5 1114.6 1948 1115.6 1945.5C1116.6 1943 1117.5 1938.2 1118.3 1937.2C1119.2 1936.2 1119.5 1937 1120.3 1940C1121 1942.9 1121.6 1947.3 1122.5 1953.8C1123.4 1960.2 1124.3 1966.9 1125.3 1975.9C1126.2 1984.9 1127 1994.1 1128 2003.5C1129 2013 1129.8 2020 1130.8 2028.4C1131.8 2036.9 1132.3 2042.1 1133.5 2050.6C1134.8 2059 1136.2 2067 1137.7 2075.4C1139.2 2083.9 1140.4 2090.6 1141.8 2097.6C1143.3 2104.5 1144.2 2108.7 1146 2114.1C1147.7 2119.6 1149.3 2124 1151.5 2128C1153.8 2132 1155.7 2134.1 1158.4 2136.3C1161.2 2138.4 1165.2 2139.2 1166.7 2139.9Z" fill="#d2d2d2" fill-opacity="0.9" stroke="#cacaca" stroke-width="1.4" stroke-linejoin="round"/>
<path d="M1070 2139.9C1071.4 2137.7 1075.8 2133.6 1078.2 2128C1080.7 2122.3 1081.8 2118.6 1083.8 2108.6C1085.8 2098.7 1087.6 2085.6 1089.3 2072.7C1091.1 2059.7 1092 2050.2 1093.5 2036.7C1094.9 2023.3 1096.1 2010 1097.6 1998C1099.1 1986.1 1100.3 1978.8 1101.8 1970.4C1103.2 1961.9 1104.6 1955.5 1105.9 1951C1107.2 1946.5 1108 1945.5 1109.2 1945.5C1110.5 1945.5 1111.8 1948.3 1112.8 1951C1113.8 1953.8 1114 1960.7 1114.7 1960.7C1115.5 1960.7 1116.2 1953.5 1117 1951C1117.8 1948.5 1118.4 1946.4 1119.2 1946.9C1119.9 1947.4 1120.4 1948.6 1121.1 1953.8C1121.8 1959 1122.3 1966.9 1123 1975.9C1123.8 1984.9 1124.4 1991.1 1125.3 2003.5C1126.1 2016 1127 2032.6 1128 2045C1129 2057.5 1129.5 2065.2 1130.8 2072.7C1132 2080.1 1133.4 2081.5 1134.9 2086.5C1136.4 2091.5 1137.3 2095.3 1139.1 2100.3C1140.8 2105.3 1142.6 2110.2 1144.6 2114.1C1146.6 2118.1 1147.6 2119.5 1150.1 2122.4C1152.6 2125.4 1155.4 2128.2 1158.4 2130.7C1161.4 2133.2 1163.2 2134.6 1166.7 2136.3C1170.2 2137.9 1175.8 2139.2 1177.8 2139.9Z" fill="#bcd8a6" fill-opacity="0.9" stroke="#a9cf8f" stroke-width="1.4" stroke-linejoin="round"/>
<path d="M1072.7 2139.6C1074.2 2138 1078 2135.3 1081 2130.7C1084 2126.2 1086.8 2119.6 1089.3 2114.1C1091.8 2108.7 1092.8 2106.3 1094.8 2100.3C1096.8 2094.4 1098.6 2088.4 1100.4 2081C1102.1 2073.5 1103 2067.3 1104.5 2058.8C1106 2050.4 1107.4 2042.9 1108.7 2034C1109.9 2025 1110.5 2017.5 1111.4 2009.1C1112.3 2000.6 1112.7 1992.9 1113.6 1987C1114.5 1981 1115.3 1977.9 1116.4 1975.9C1117.5 1973.9 1118.7 1975.4 1119.7 1975.9C1120.7 1976.4 1121.2 1981.6 1121.9 1978.7C1122.7 1975.7 1123.2 1966.8 1123.9 1959.3C1124.6 1951.8 1125.1 1940.7 1125.8 1937.2C1126.6 1933.7 1127.2 1935 1128 1940C1128.8 1944.9 1129.3 1956.4 1130.2 1964.8C1131.1 1973.3 1131.9 1981 1133 1987C1134.1 1992.9 1135.2 1994.5 1136.3 1998C1137.4 2001.5 1138.1 2004.6 1139.1 2006.3C1140.1 2008.1 1140.8 2004.7 1141.8 2007.7C1142.8 2010.7 1143.6 2018.2 1144.6 2022.9C1145.6 2027.6 1146.4 2030.5 1147.4 2034C1148.4 2037.4 1149.1 2039.3 1150.1 2042.3C1151.1 2045.2 1151.9 2045.6 1152.9 2050.6C1153.9 2055.5 1154.7 2063.4 1155.7 2069.9C1156.7 2076.4 1157.2 2081 1158.4 2086.5C1159.7 2092 1161.1 2096.1 1162.6 2100.3C1164.1 2104.6 1165.2 2107.8 1166.7 2110C1168.2 2112.2 1169.6 2112.3 1170.9 2112.8C1172.1 2113.3 1172.6 2111.5 1173.6 2112.8C1174.6 2114 1175.2 2116.7 1176.4 2119.7C1177.6 2122.7 1178.8 2126.9 1180.6 2129.4C1182.3 2131.8 1183.6 2132 1186.1 2133.5C1188.6 2135 1191.4 2136.6 1194.4 2137.6C1197.4 2138.7 1201.2 2139.2 1202.7 2139.6" fill="none" stroke="#1fa01f" stroke-width="1.7" stroke-linejoin="round"/>
<path d="M1056.1 2139.6C1057.6 2139 1061.4 2138.9 1064.4 2136.3C1067.4 2133.7 1070 2130.2 1072.7 2125.2C1075.5 2120.2 1077.4 2113.6 1079.6 2108.6C1081.9 2103.6 1083.4 2102 1085.2 2097.6C1086.9 2093.1 1088 2089.2 1089.3 2083.7C1090.7 2078.3 1091.4 2071.1 1092.6 2067.1C1093.9 2063.2 1094.9 2062.5 1096.2 2061.6C1097.5 2060.7 1098.6 2063.7 1099.8 2062.2C1101.1 2060.7 1102 2056.5 1103.1 2053.3C1104.2 2050.1 1104.9 2045.7 1105.9 2044.5C1106.9 2043.2 1107.7 2044.6 1108.7 2046.4C1109.7 2048.2 1110.4 2053.5 1111.4 2054.7C1112.4 2055.9 1113.2 2056.1 1114.2 2053.3C1115.2 2050.6 1116 2045.5 1117 2039.5C1118 2033.5 1118.7 2025.6 1119.7 2020.1C1120.7 2014.7 1121.5 2014.1 1122.5 2009.1C1123.5 2004.1 1124.3 1998.2 1125.3 1992.5C1126.2 1986.8 1127.1 1979.3 1128 1977.3C1128.9 1975.3 1129.5 1979.7 1130.2 1981.4C1131 1983.2 1131.3 1988.5 1132.2 1987C1133 1985.5 1133.9 1979.1 1134.9 1973.1C1135.9 1967.2 1136.8 1958 1137.7 1953.8C1138.5 1949.5 1138.8 1949.6 1139.6 1949.6C1140.5 1949.6 1141.4 1954 1142.4 1953.8C1143.4 1953.5 1144.3 1952.2 1145.2 1948.2C1146.1 1944.3 1146.5 1937.4 1147.4 1931.7C1148.3 1925.9 1149.2 1917.9 1150.1 1916.5C1151 1915 1151.6 1919.1 1152.4 1923.4C1153.1 1927.6 1153.4 1932.5 1154.3 1940C1155.1 1947.4 1156.1 1955.9 1157.1 1964.8C1158 1973.8 1158.8 1981.3 1159.8 1989.7C1160.8 1998.2 1161.6 2004.4 1162.6 2011.8C1163.6 2019.3 1164.4 2025.7 1165.3 2031.2C1166.3 2036.7 1167.1 2037.8 1168.1 2042.3C1169.1 2046.7 1169.9 2051.1 1170.9 2056.1C1171.9 2061.1 1172.6 2064.9 1173.6 2069.9C1174.6 2074.9 1175.2 2079.3 1176.4 2083.7C1177.6 2088.2 1179.3 2090.3 1180.6 2094.8C1181.8 2099.3 1182.1 2103.6 1183.3 2108.6C1184.6 2113.6 1185.7 2118.5 1187.5 2122.4C1189.2 2126.4 1190.8 2128.2 1193 2130.7C1195.2 2133.2 1197.2 2134.7 1199.9 2136.3C1202.6 2137.9 1206.7 2139 1208.2 2139.6" fill="none" stroke="#000000" stroke-width="2" stroke-linejoin="round"/>
<rect x="1014.7" y="1874.1" width="267.3" height="265.8" fill="none" stroke="#000" stroke-width="2"/>
<path d="M1007.3 2139.9h7.4M1010.7 2127.2h4M1010.7 2114.6h4M1010.7 2101.9h4M1007.3 2089.2h7.4M1010.7 2076.6h4M1010.7 2063.9h4M1010.7 2051.2h4M1007.3 2038.6h7.4M1010.7 2025.9h4M1010.7 2013.2h4M1010.7 2000.6h4M1007.3 1987.9h7.4M1010.7 1975.3h4M1010.7 1962.6h4M1010.7 1949.9h4M1007.3 1937.3h7.4M1010.7 1924.6h4M1010.7 1911.9h4M1010.7 1899.3h4M1007.3 1886.6h7.4" stroke="#000" stroke-width="1.8" fill="none"/>
<path d="M1031.2 2139.9v7.6M1074.1 2139.9v7.6M1118.3 2139.9v7.6M1191.6 2139.9v7.6M1254.7 2139.9v7.6M1052.5 2139.9v5.2M1096.2 2139.9v5.2M1169.5 2139.9v5.2M1235.9 2139.9v5.2M1034.6 2139.9v4M1037.6 2139.9v4M1040.4 2139.9v4M1043.1 2139.9v4M1045.9 2139.9v4M1049.2 2139.9v4M1058.9 2139.9v4M1063 2139.9v4M1067.2 2139.9v4M1083.8 2139.9v4M1087.9 2139.9v4M1092.1 2139.9v4M1100.4 2139.9v4M1104.5 2139.9v4M1108.7 2139.9v4M1112 2139.9v4M1115 2139.9v4M1141.8 2139.9v4M1155.7 2139.9v4M1164 2139.9v4M1176.4 2139.9v4M1180.6 2139.9v4M1183.9 2139.9v4M1187.5 2139.9v4M1212.3 2139.9v4M1223.4 2139.9v4M1230.3 2139.9v4M1240 2139.9v4M1243.6 2139.9v4M1246.9 2139.9v4M1250.2 2139.9v4M1273.2 2139.9v4" stroke="#000" stroke-width="1.4" fill="none"/>
<rect x="1070" y="2139.9" width="8.6" height="6.8" fill="#000"/>
<text x="1001.7" y="2139.7" font-size="19.5" text-anchor="end">0</text>
<text x="1001.7" y="2095.1" font-size="19.5" text-anchor="end">20</text>
<text x="1001.7" y="2044.4" font-size="19.5" text-anchor="end">40</text>
<text x="1001.7" y="1993.7" font-size="19.5" text-anchor="end">60</text>
<text x="1001.7" y="1943.1" font-size="19.5" text-anchor="end">80</text>
<text x="1006.7" y="1892.4" font-size="19.5" text-anchor="end">100</text>
<text x="1018.2" y="2168.1" font-size="19" letter-spacing="0.9">-10<tspan font-size="12" dy="-13.3">3</tspan></text>
<text x="1073.3" y="2168.1" font-size="19" text-anchor="middle">0</text>
<text x="1109.5" y="2168.1" font-size="19" letter-spacing="1">10<tspan font-size="12" dy="-13.3">3</tspan></text>
<text x="1182.8" y="2168.1" font-size="19" letter-spacing="1">10<tspan font-size="12" dy="-13.3">4</tspan></text>
<text x="1245" y="2168.1" font-size="19" letter-spacing="1">10<tspan font-size="12" dy="-13.3">5</tspan></text>
<text x="1146" y="2190.8" font-size="26.3" text-anchor="middle" textLength="123" lengthAdjust="spacingAndGlyphs">pSyk(Y<tspan font-size="15.3" dy="-9.2">352</tspan><tspan dy="9.2">)</tspan></text>
<text x="1050" y="1863.1" font-size="26.3" textLength="192" lengthAdjust="spacingAndGlyphs">gated on CD27<tspan font-size="15.8" dy="-9.5">+</tspan></text>
<path d="M538.2 1479.4V1753.5H948M528.7 1480.4h9.5M528.7 1571.5h9.5M528.7 1662.7h9.5M528.7 1753.5h9.5M538.2 1753.5v9M565.6 1753.5v9M606.4 1753.5v9M647.7 1753.5v9M742.6 1753.5v9M947 1753.5v9" stroke="#000" stroke-width="2" fill="none"/>
<text x="523.4" y="1487.1" font-size="19" text-anchor="end">6,000</text>
<text x="523.4" y="1578.2" font-size="19" text-anchor="end">4,000</text>
<text x="523.4" y="1669.4" font-size="19" text-anchor="end">2,000</text>
<text x="523.4" y="1760.2" font-size="19" text-anchor="end">0</text>
<text x="538.2" y="1780" font-size="19" text-anchor="middle">0</text>
<text x="565.6" y="1780" font-size="19" text-anchor="middle">2</text>
<text x="606.4" y="1780" font-size="19" text-anchor="middle">5</text>
<text x="647.7" y="1780" font-size="19" text-anchor="middle">8</text>
<text x="742.6" y="1780" font-size="19" text-anchor="middle">15</text>
<text x="947" y="1780" font-size="19" text-anchor="middle">30</text>
<circle cx="538.2" cy="1705.3" r="7.8" fill="#000000"/>
<circle cx="565.6" cy="1660.2" r="7.8" fill="#000000"/>
<circle cx="606.4" cy="1640.9" r="7.8" fill="#000000"/>
<circle cx="647.7" cy="1650.2" r="7.8" fill="#000000"/>
<circle cx="742.6" cy="1668" r="7.8" fill="#000000"/>
<circle cx="947" cy="1673.6" r="7.8" fill="#000000"/>
<path d="M538.2 1705.3L565.6 1660.2L606.4 1640.9L647.7 1650.2L742.6 1668L947 1673.6" stroke="#000000" stroke-width="1.8" fill="none" stroke-linejoin="round"/>
<circle cx="538.2" cy="1710" r="7.8" fill="#000000"/>
<circle cx="565.6" cy="1660.8" r="7.8" fill="#000000"/>
<circle cx="606.4" cy="1641.5" r="7.8" fill="#000000"/>
<circle cx="647.7" cy="1654.6" r="7.8" fill="#000000"/>
<circle cx="742.6" cy="1651.5" r="7.8" fill="#000000"/>
<circle cx="947" cy="1691.3" r="7.8" fill="#000000"/>
<path d="M538.2 1710L565.6 1660.8L606.4 1641.5L647.7 1654.6L742.6 1651.5L947 1691.3" stroke="#000000" stroke-width="1.8" fill="none" stroke-linejoin="round"/>
<circle cx="538.2" cy="1716.2" r="7.8" fill="#000000"/>
<circle cx="565.6" cy="1672.6" r="7.8" fill="#000000"/>
<circle cx="606.4" cy="1652.4" r="7.8" fill="#000000"/>
<circle cx="647.7" cy="1653.3" r="7.8" fill="#000000"/>
<circle cx="742.6" cy="1654" r="7.8" fill="#000000"/>
<circle cx="947" cy="1674.2" r="7.8" fill="#000000"/>
<path d="M538.2 1716.2L565.6 1672.6L606.4 1652.4L647.7 1653.3L742.6 1654L947 1674.2" stroke="#000000" stroke-width="1.8" fill="none" stroke-linejoin="round"/>
<circle cx="538.2" cy="1722.4" r="7.8" fill="#000000"/>
<circle cx="565.6" cy="1674.2" r="7.8" fill="#000000"/>
<circle cx="606.4" cy="1668.9" r="7.8" fill="#000000"/>
<circle cx="647.7" cy="1672.6" r="7.8" fill="#000000"/>
<circle cx="742.6" cy="1688.2" r="7.8" fill="#000000"/>
<circle cx="947" cy="1694.4" r="7.8" fill="#000000"/>
<path d="M538.2 1722.4L565.6 1674.2L606.4 1668.9L647.7 1672.6L742.6 1688.2L947 1694.4" stroke="#000000" stroke-width="1.8" fill="none" stroke-linejoin="round"/>
<circle cx="538.2" cy="1725.5" r="7.8" fill="#000000"/>
<circle cx="565.6" cy="1682.6" r="7.8" fill="#000000"/>
<circle cx="606.4" cy="1681.3" r="7.8" fill="#000000"/>
<circle cx="647.7" cy="1680.4" r="7.8" fill="#000000"/>
<circle cx="742.6" cy="1685.1" r="7.8" fill="#000000"/>
<circle cx="947" cy="1695" r="7.8" fill="#000000"/>
<path d="M538.2 1725.5L565.6 1682.6L606.4 1681.3L647.7 1680.4L742.6 1685.1L947 1695" stroke="#000000" stroke-width="1.8" fill="none" stroke-linejoin="round"/>
<circle cx="538.2" cy="1728.6" r="7.8" fill="#000000"/>
<circle cx="565.6" cy="1711.5" r="7.8" fill="#000000"/>
<circle cx="606.4" cy="1687.6" r="7.8" fill="#000000"/>
<circle cx="647.7" cy="1678.8" r="7.8" fill="#000000"/>
<circle cx="742.6" cy="1682" r="7.8" fill="#000000"/>
<circle cx="947" cy="1688.2" r="7.8" fill="#000000"/>
<path d="M538.2 1728.6L565.6 1711.5L606.4 1687.6L647.7 1678.8L742.6 1682L947 1688.2" stroke="#000000" stroke-width="1.8" fill="none" stroke-linejoin="round"/>
<circle cx="538.2" cy="1734.8" r="7.8" fill="#000000"/>
<circle cx="565.6" cy="1735.8" r="7.8" fill="#000000"/>
<circle cx="606.4" cy="1735.5" r="7.8" fill="#000000"/>
<circle cx="647.7" cy="1737.9" r="7.8" fill="#000000"/>
<circle cx="742.6" cy="1738.6" r="7.8" fill="#000000"/>
<circle cx="947" cy="1737.9" r="7.8" fill="#000000"/>
<path d="M538.2 1734.8L565.6 1735.8L606.4 1735.5L647.7 1737.9L742.6 1738.6L947 1737.9" stroke="#000000" stroke-width="1.8" fill="none" stroke-linejoin="round"/>
<circle cx="538.2" cy="1717.7" r="7.8" fill="#f0959b"/>
<circle cx="565.6" cy="1660.8" r="7.8" fill="#f0959b"/>
<circle cx="606.4" cy="1653.3" r="7.8" fill="#f0959b"/>
<circle cx="647.7" cy="1663.9" r="7.8" fill="#f0959b"/>
<circle cx="742.6" cy="1673.2" r="7.8" fill="#f0959b"/>
<circle cx="947" cy="1691.3" r="7.8" fill="#f0959b"/>
<path d="M538.2 1717.7L565.6 1660.8L606.4 1653.3L647.7 1663.9L742.6 1673.2L947 1691.3" stroke="#f0959b" stroke-width="1.8" fill="none" stroke-linejoin="round"/>
<circle cx="538.2" cy="1722.4" r="7.8" fill="#f0959b"/>
<circle cx="565.6" cy="1685.7" r="7.8" fill="#f0959b"/>
<circle cx="606.4" cy="1685.1" r="7.8" fill="#f0959b"/>
<circle cx="647.7" cy="1689.7" r="7.8" fill="#f0959b"/>
<circle cx="742.6" cy="1691.9" r="7.8" fill="#f0959b"/>
<circle cx="947" cy="1690.7" r="7.8" fill="#f0959b"/>
<path d="M538.2 1722.4L565.6 1685.7L606.4 1685.1L647.7 1689.7L742.6 1691.9L947 1690.7" stroke="#f0959b" stroke-width="1.8" fill="none" stroke-linejoin="round"/>
<circle cx="538.2" cy="1727.1" r="7.8" fill="#f0959b"/>
<circle cx="565.6" cy="1686.6" r="7.8" fill="#f0959b"/>
<circle cx="606.4" cy="1685.7" r="7.8" fill="#f0959b"/>
<circle cx="647.7" cy="1694.4" r="7.8" fill="#f0959b"/>
<circle cx="742.6" cy="1703.7" r="7.8" fill="#f0959b"/>
<circle cx="947" cy="1697.5" r="7.8" fill="#f0959b"/>
<path d="M538.2 1727.1L565.6 1686.6L606.4 1685.7L647.7 1694.4L742.6 1703.7L947 1697.5" stroke="#f0959b" stroke-width="1.8" fill="none" stroke-linejoin="round"/>
<circle cx="538.2" cy="1728.6" r="7.8" fill="#f0959b"/>
<circle cx="565.6" cy="1706.8" r="7.8" fill="#f0959b"/>
<circle cx="606.4" cy="1705.3" r="7.8" fill="#f0959b"/>
<circle cx="647.7" cy="1697.5" r="7.8" fill="#f0959b"/>
<circle cx="742.6" cy="1703.7" r="7.8" fill="#f0959b"/>
<circle cx="947" cy="1703.7" r="7.8" fill="#f0959b"/>
<path d="M538.2 1728.6L565.6 1706.8L606.4 1705.3L647.7 1697.5L742.6 1703.7L947 1703.7" stroke="#f0959b" stroke-width="1.8" fill="none" stroke-linejoin="round"/>
<circle cx="538.2" cy="1730.2" r="7.8" fill="#f0959b"/>
<circle cx="565.6" cy="1708.4" r="7.8" fill="#f0959b"/>
<circle cx="606.4" cy="1706.2" r="7.8" fill="#f0959b"/>
<circle cx="647.7" cy="1702.2" r="7.8" fill="#f0959b"/>
<circle cx="742.6" cy="1709" r="7.8" fill="#f0959b"/>
<circle cx="947" cy="1713.1" r="7.8" fill="#f0959b"/>
<path d="M538.2 1730.2L565.6 1708.4L606.4 1706.2L647.7 1702.2L742.6 1709L947 1713.1" stroke="#f0959b" stroke-width="1.8" fill="none" stroke-linejoin="round"/>
<path d="M1403.2 1474.6V1754.3H1821.1M1393.7 1475.6h9.5M1393.7 1568.8h9.5M1393.7 1661.4h9.5M1393.7 1754.3h9.5M1403.2 1754.3v9M1431 1754.3v9M1472.3 1754.3v9M1514.3 1754.3v9M1611.5 1754.3v9M1820.1 1754.3v9" stroke="#000" stroke-width="2" fill="none"/>
<text x="1388.4" y="1482.3" font-size="19" text-anchor="end">6,000</text>
<text x="1388.4" y="1575.5" font-size="19" text-anchor="end">4,000</text>
<text x="1388.4" y="1668.1" font-size="19" text-anchor="end">2,000</text>
<text x="1388.4" y="1761" font-size="19" text-anchor="end">0</text>
<text x="1403.2" y="1780.7" font-size="19" text-anchor="middle">0</text>
<text x="1431" y="1780.7" font-size="19" text-anchor="middle">2</text>
<text x="1472.3" y="1780.7" font-size="19" text-anchor="middle">5</text>
<text x="1514.3" y="1780.7" font-size="19" text-anchor="middle">8</text>
<text x="1611.5" y="1780.7" font-size="19" text-anchor="middle">15</text>
<text x="1820.1" y="1785.3" font-size="19" text-anchor="middle">30</text>
<circle cx="1403.2" cy="1689.9" r="6.6" fill="none" stroke="#000000" stroke-width="1.8"/>
<circle cx="1431" cy="1551" r="6.6" fill="none" stroke="#000000" stroke-width="1.8"/>
<circle cx="1472.3" cy="1511.9" r="6.6" fill="none" stroke="#000000" stroke-width="1.8"/>
<circle cx="1514.3" cy="1565.3" r="6.6" fill="none" stroke="#000000" stroke-width="1.8"/>
<circle cx="1611.5" cy="1572.4" r="6.6" fill="none" stroke="#000000" stroke-width="1.8"/>
<circle cx="1820.1" cy="1615.8" r="6.6" fill="none" stroke="#000000" stroke-width="1.8"/>
<path d="M1403.2 1689.9L1405 1680.8M1408.3 1664.2L1412 1646.1M1415.3 1629.5L1418.9 1611.4M1422.2 1594.8L1425.8 1576.7M1429.2 1560.1L1431 1551M1431 1551L1441.7 1540.9M1461.5 1522.1L1472.3 1511.9M1472.3 1511.9L1477.7 1518.8M1487.8 1531.6L1498.7 1545.5M1508.8 1558.3L1514.3 1565.3M1514.3 1565.3L1522.7 1565.9M1538.2 1567L1555.1 1568.3M1570.6 1569.4L1587.5 1570.6M1603 1571.8L1611.5 1572.4M1611.5 1572.4L1622.3 1574.7M1642.3 1578.8L1664 1583.3M1684.1 1587.5L1705.8 1592M1725.8 1596.2L1747.5 1600.7M1767.5 1604.9L1789.2 1609.4M1809.2 1613.6L1820.1 1615.8" stroke="#000000" stroke-width="1.8" fill="none"/>
<circle cx="1403.2" cy="1691.7" r="6.6" fill="none" stroke="#000000" stroke-width="1.8"/>
<circle cx="1431" cy="1553.9" r="6.6" fill="none" stroke="#000000" stroke-width="1.8"/>
<circle cx="1472.3" cy="1549.3" r="6.6" fill="none" stroke="#000000" stroke-width="1.8"/>
<circle cx="1514.3" cy="1567.1" r="6.6" fill="none" stroke="#000000" stroke-width="1.8"/>
<circle cx="1611.5" cy="1586.6" r="6.6" fill="none" stroke="#000000" stroke-width="1.8"/>
<circle cx="1820.1" cy="1638.3" r="6.6" fill="none" stroke="#000000" stroke-width="1.8"/>
<path d="M1403.2 1691.7L1405 1682.7M1408.3 1666.2L1412 1648.3M1415.3 1631.7L1418.9 1613.8M1422.2 1597.3L1425.8 1579.4M1429.2 1562.8L1431 1553.9M1431 1553.9L1441.7 1552.7M1461.5 1550.5L1472.3 1549.3M1472.3 1549.3L1483.2 1553.9M1503.4 1562.4L1514.3 1567.1M1514.3 1567.1L1522.7 1568.8M1538.2 1571.9L1555.1 1575.3M1570.6 1578.4L1587.5 1581.8M1603 1584.9L1611.5 1586.6M1611.5 1586.6L1622.3 1589.3M1642.3 1594.3L1664 1599.6M1684.1 1604.6L1705.8 1610M1725.8 1614.9L1747.5 1620.3M1767.5 1625.2L1789.2 1630.6M1809.2 1635.6L1820.1 1638.3" stroke="#000000" stroke-width="1.8" fill="none"/>
<circle cx="1403.2" cy="1695.2" r="6.6" fill="none" stroke="#000000" stroke-width="1.8"/>
<circle cx="1431" cy="1584.9" r="6.6" fill="none" stroke="#000000" stroke-width="1.8"/>
<circle cx="1472.3" cy="1551" r="6.6" fill="none" stroke="#000000" stroke-width="1.8"/>
<circle cx="1514.3" cy="1574.2" r="6.6" fill="none" stroke="#000000" stroke-width="1.8"/>
<circle cx="1611.5" cy="1606.9" r="6.6" fill="none" stroke="#000000" stroke-width="1.8"/>
<circle cx="1820.1" cy="1643.6" r="6.6" fill="none" stroke="#000000" stroke-width="1.8"/>
<path d="M1403.2 1695.2L1405.6 1685.6M1410.1 1668L1414.9 1648.9M1419.3 1631.2L1424.1 1612.1M1428.6 1594.4L1431 1584.9M1431 1584.9L1441.7 1576.1M1461.5 1559.8L1472.3 1551M1472.3 1551L1483.2 1557.1M1503.4 1568.2L1514.3 1574.2M1514.3 1574.2L1522.7 1577M1538.2 1582.3L1555.1 1587.9M1570.6 1593.2L1587.5 1598.8M1603 1604.1L1611.5 1606.9M1611.5 1606.9L1622.3 1608.8M1642.3 1612.4L1664 1616.2M1684.1 1619.7L1705.8 1623.5M1725.8 1627L1747.5 1630.8M1767.5 1634.4L1789.2 1638.2M1809.2 1641.7L1820.1 1643.6" stroke="#000000" stroke-width="1.8" fill="none"/>
<circle cx="1403.2" cy="1697" r="6.6" fill="none" stroke="#000000" stroke-width="1.8"/>
<circle cx="1431" cy="1596.6" r="6.6" fill="none" stroke="#000000" stroke-width="1.8"/>
<circle cx="1472.3" cy="1570.6" r="6.6" fill="none" stroke="#000000" stroke-width="1.8"/>
<circle cx="1514.3" cy="1592" r="6.6" fill="none" stroke="#000000" stroke-width="1.8"/>
<circle cx="1611.5" cy="1622.9" r="6.6" fill="none" stroke="#000000" stroke-width="1.8"/>
<circle cx="1820.1" cy="1647.2" r="6.6" fill="none" stroke="#000000" stroke-width="1.8"/>
<path d="M1403.2 1697L1405.6 1688.3M1410.1 1672.2L1414.9 1654.8M1419.3 1638.8L1424.1 1621.4M1428.6 1605.3L1431 1596.6M1431 1596.6L1441.7 1589.8M1461.5 1577.4L1472.3 1570.6M1472.3 1570.6L1483.2 1576.2M1503.4 1586.4L1514.3 1592M1514.3 1592L1522.7 1594.7M1538.2 1599.6L1555.1 1605M1570.6 1609.9L1587.5 1615.3M1603 1620.3L1611.5 1622.9M1611.5 1622.9L1622.3 1624.2M1642.3 1626.5L1664 1629M1684.1 1631.4L1705.8 1633.9M1725.8 1636.2L1747.5 1638.7M1767.5 1641.1L1789.2 1643.6M1809.2 1645.9L1820.1 1647.2" stroke="#000000" stroke-width="1.8" fill="none"/>
<circle cx="1403.2" cy="1707.7" r="6.6" fill="none" stroke="#000000" stroke-width="1.8"/>
<circle cx="1431" cy="1606.2" r="6.6" fill="none" stroke="#000000" stroke-width="1.8"/>
<circle cx="1472.3" cy="1603.4" r="6.6" fill="none" stroke="#000000" stroke-width="1.8"/>
<circle cx="1514.3" cy="1610.8" r="6.6" fill="none" stroke="#000000" stroke-width="1.8"/>
<circle cx="1611.5" cy="1632.9" r="6.6" fill="none" stroke="#000000" stroke-width="1.8"/>
<circle cx="1820.1" cy="1648.9" r="6.6" fill="none" stroke="#000000" stroke-width="1.8"/>
<path d="M1403.2 1707.7L1405.6 1698.9M1410.1 1682.6L1414.9 1665.1M1419.3 1648.8L1424.1 1631.2M1428.6 1615L1431 1606.2M1431 1606.2L1441.7 1605.5M1461.5 1604.1L1472.3 1603.4M1472.3 1603.4L1483.2 1605.3M1503.4 1608.9L1514.3 1610.8M1514.3 1610.8L1522.7 1612.8M1538.2 1616.3L1555.1 1620.1M1570.6 1623.6L1587.5 1627.5M1603 1631L1611.5 1632.9M1611.5 1632.9L1622.3 1633.7M1642.3 1635.3L1664 1637M1684.1 1638.5L1705.8 1640.2M1725.8 1641.7L1747.5 1643.4M1767.5 1644.9L1789.2 1646.6M1809.2 1648.1L1820.1 1648.9" stroke="#000000" stroke-width="1.8" fill="none"/>
<circle cx="1403.2" cy="1711.2" r="6.6" fill="none" stroke="#000000" stroke-width="1.8"/>
<circle cx="1431" cy="1624.7" r="6.6" fill="none" stroke="#000000" stroke-width="1.8"/>
<circle cx="1472.3" cy="1626.9" r="6.6" fill="none" stroke="#000000" stroke-width="1.8"/>
<circle cx="1514.3" cy="1634.7" r="6.6" fill="none" stroke="#000000" stroke-width="1.8"/>
<circle cx="1611.5" cy="1635.8" r="6.6" fill="none" stroke="#000000" stroke-width="1.8"/>
<circle cx="1820.1" cy="1652.5" r="6.6" fill="none" stroke="#000000" stroke-width="1.8"/>
<path d="M1403.2 1711.2L1406.8 1700M1413.5 1679.2L1420.7 1656.7M1427.4 1636L1431 1624.7M1431 1624.7L1441.7 1625.3M1461.5 1626.3L1472.3 1626.9M1472.3 1626.9L1483.2 1628.9M1503.4 1632.7L1514.3 1634.7M1514.3 1634.7L1522.7 1634.8M1538.2 1635L1555.1 1635.1M1570.6 1635.3L1587.5 1635.5M1603 1635.7L1611.5 1635.8M1611.5 1635.8L1622.3 1636.6M1642.3 1638.2L1664 1640M1684.1 1641.6L1705.8 1643.3M1725.8 1644.9L1747.5 1646.7M1767.5 1648.3L1789.2 1650M1809.2 1651.6L1820.1 1652.5" stroke="#000000" stroke-width="1.8" fill="none"/>
<circle cx="1403.2" cy="1713" r="6.6" fill="none" stroke="#000000" stroke-width="1.8"/>
<circle cx="1431" cy="1663.2" r="6.6" fill="none" stroke="#000000" stroke-width="1.8"/>
<circle cx="1472.3" cy="1629.4" r="6.6" fill="none" stroke="#000000" stroke-width="1.8"/>
<circle cx="1514.3" cy="1636.5" r="6.6" fill="none" stroke="#000000" stroke-width="1.8"/>
<circle cx="1611.5" cy="1637.5" r="6.6" fill="none" stroke="#000000" stroke-width="1.8"/>
<circle cx="1820.1" cy="1659.6" r="6.6" fill="none" stroke="#000000" stroke-width="1.8"/>
<path d="M1403.2 1713L1410.4 1700.1M1423.8 1676.1L1431 1663.2M1431 1663.2L1441.7 1654.4M1461.5 1638.1L1472.3 1629.4M1472.3 1629.4L1483.2 1631.2M1503.4 1634.6L1514.3 1636.5M1514.3 1636.5L1522.7 1636.6M1538.2 1636.7L1555.1 1636.9M1570.6 1637.1L1587.5 1637.3M1603 1637.5L1611.5 1637.5M1611.5 1637.5L1622.3 1638.7M1642.3 1640.8L1664 1643.1M1684.1 1645.2L1705.8 1647.5M1725.8 1649.6L1747.5 1651.9M1767.5 1654.1L1789.2 1656.3M1809.2 1658.5L1820.1 1659.6" stroke="#000000" stroke-width="1.8" fill="none"/>
<circle cx="1403.2" cy="1704.1" r="6.6" fill="none" stroke="#f0959b" stroke-width="1.8"/>
<circle cx="1431" cy="1627.6" r="6.6" fill="none" stroke="#f0959b" stroke-width="1.8"/>
<circle cx="1472.3" cy="1632.9" r="6.6" fill="none" stroke="#f0959b" stroke-width="1.8"/>
<circle cx="1514.3" cy="1643.6" r="6.6" fill="none" stroke="#f0959b" stroke-width="1.8"/>
<circle cx="1611.5" cy="1651.4" r="6.6" fill="none" stroke="#f0959b" stroke-width="1.8"/>
<circle cx="1820.1" cy="1665" r="6.6" fill="none" stroke="#f0959b" stroke-width="1.8"/>
<path d="M1403.2 1704.1L1406.8 1694.2M1413.5 1675.8L1420.7 1655.9M1427.4 1637.5L1431 1627.6M1431 1627.6L1441.7 1629M1461.5 1631.5L1472.3 1632.9M1472.3 1632.9L1483.2 1635.7M1503.4 1640.8L1514.3 1643.6M1514.3 1643.6L1522.7 1644.3M1538.2 1645.5L1555.1 1646.9M1570.6 1648.1L1587.5 1649.5M1603 1650.7L1611.5 1651.4M1611.5 1651.4L1622.3 1652.1M1642.3 1653.4L1664 1654.8M1684.1 1656.1L1705.8 1657.5M1725.8 1658.8L1747.5 1660.2M1767.5 1661.5L1789.2 1663M1809.2 1664.3L1820.1 1665" stroke="#f0959b" stroke-width="1.8" fill="none"/>
<circle cx="1403.2" cy="1709.5" r="6.6" fill="none" stroke="#f0959b" stroke-width="1.8"/>
<circle cx="1431" cy="1632.2" r="6.6" fill="none" stroke="#f0959b" stroke-width="1.8"/>
<circle cx="1472.3" cy="1636.5" r="6.6" fill="none" stroke="#f0959b" stroke-width="1.8"/>
<circle cx="1514.3" cy="1647.2" r="6.6" fill="none" stroke="#f0959b" stroke-width="1.8"/>
<circle cx="1611.5" cy="1659.6" r="6.6" fill="none" stroke="#f0959b" stroke-width="1.8"/>
<circle cx="1820.1" cy="1670.3" r="6.6" fill="none" stroke="#f0959b" stroke-width="1.8"/>
<path d="M1403.2 1709.5L1406.8 1699.4M1413.5 1680.9L1420.7 1660.8M1427.4 1642.2L1431 1632.2M1431 1632.2L1441.7 1633.3M1461.5 1635.4L1472.3 1636.5M1472.3 1636.5L1483.2 1639.3M1503.4 1644.4L1514.3 1647.2M1514.3 1647.2L1522.7 1648.2M1538.2 1650.2L1555.1 1652.4M1570.6 1654.4L1587.5 1656.5M1603 1658.5L1611.5 1659.6M1611.5 1659.6L1622.3 1660.2M1642.3 1661.2L1664 1662.3M1684.1 1663.3L1705.8 1664.4M1725.8 1665.5L1747.5 1666.6M1767.5 1667.6L1789.2 1668.7M1809.2 1669.7L1820.1 1670.3" stroke="#f0959b" stroke-width="1.8" fill="none"/>
<circle cx="1403.2" cy="1711.2" r="6.6" fill="none" stroke="#f0959b" stroke-width="1.8"/>
<circle cx="1431" cy="1666.7" r="6.6" fill="none" stroke="#f0959b" stroke-width="1.8"/>
<circle cx="1472.3" cy="1662.5" r="6.6" fill="none" stroke="#f0959b" stroke-width="1.8"/>
<circle cx="1514.3" cy="1645.4" r="6.6" fill="none" stroke="#f0959b" stroke-width="1.8"/>
<circle cx="1611.5" cy="1668.5" r="6.6" fill="none" stroke="#f0959b" stroke-width="1.8"/>
<circle cx="1820.1" cy="1673.9" r="6.6" fill="none" stroke="#f0959b" stroke-width="1.8"/>
<path d="M1403.2 1711.2L1410.4 1699.7M1423.8 1678.3L1431 1666.7M1431 1666.7L1441.7 1665.6M1461.5 1663.6L1472.3 1662.5M1472.3 1662.5L1483.2 1658M1503.4 1649.8L1514.3 1645.4M1514.3 1645.4L1522.7 1647.4M1538.2 1651.1L1555.1 1655.1M1570.6 1658.8L1587.5 1662.8M1603 1666.5L1611.5 1668.5M1611.5 1668.5L1622.3 1668.8M1642.3 1669.3L1664 1669.9M1684.1 1670.4L1705.8 1670.9M1725.8 1671.4L1747.5 1672M1767.5 1672.5L1789.2 1673.1M1809.2 1673.6L1820.1 1673.9" stroke="#f0959b" stroke-width="1.8" fill="none"/>
<circle cx="1403.2" cy="1723.7" r="6.6" fill="none" stroke="#f0959b" stroke-width="1.8"/>
<circle cx="1431" cy="1684.5" r="6.6" fill="none" stroke="#f0959b" stroke-width="1.8"/>
<circle cx="1472.3" cy="1684.5" r="6.6" fill="none" stroke="#f0959b" stroke-width="1.8"/>
<circle cx="1514.3" cy="1667.4" r="6.6" fill="none" stroke="#f0959b" stroke-width="1.8"/>
<circle cx="1611.5" cy="1673.1" r="6.6" fill="none" stroke="#f0959b" stroke-width="1.8"/>
<circle cx="1820.1" cy="1697.7" r="6.6" fill="none" stroke="#f0959b" stroke-width="1.8"/>
<path d="M1403.2 1723.7L1410.4 1713.5M1423.8 1694.7L1431 1684.5M1431 1684.5L1441.7 1684.5M1461.5 1684.5L1472.3 1684.5M1472.3 1684.5L1483.2 1680.1M1503.4 1671.9L1514.3 1667.4M1514.3 1667.4L1522.7 1667.9M1538.2 1668.9L1555.1 1669.8M1570.6 1670.7L1587.5 1671.7M1603 1672.6L1611.5 1673.1M1611.5 1673.1L1622.3 1674.4M1642.3 1676.8L1664 1679.3M1684.1 1681.7L1705.8 1684.2M1725.8 1686.6L1747.5 1689.2M1767.5 1691.5L1789.2 1694.1M1809.2 1696.4L1820.1 1697.7" stroke="#f0959b" stroke-width="1.8" fill="none"/>
<circle cx="1403.2" cy="1707.7" r="6.6" fill="none" stroke="#f0959b" stroke-width="1.8"/>
<circle cx="1431" cy="1631.1" r="6.6" fill="none" stroke="#f0959b" stroke-width="1.8"/>
<circle cx="1472.3" cy="1638.3" r="6.6" fill="none" stroke="#f0959b" stroke-width="1.8"/>
<circle cx="1514.3" cy="1646.4" r="6.6" fill="none" stroke="#f0959b" stroke-width="1.8"/>
<circle cx="1611.5" cy="1672.1" r="6.6" fill="none" stroke="#f0959b" stroke-width="1.8"/>
<circle cx="1820.1" cy="1675.6" r="6.6" fill="none" stroke="#f0959b" stroke-width="1.8"/>
<path d="M1403.2 1707.7L1406.8 1697.7M1413.5 1679.4L1420.7 1659.5M1427.4 1641.1L1431 1631.1M1431 1631.1L1441.7 1633M1461.5 1636.4L1472.3 1638.3M1472.3 1638.3L1483.2 1640.4M1503.4 1644.3L1514.3 1646.4M1514.3 1646.4L1522.7 1648.7M1538.2 1652.8L1555.1 1657.2M1570.6 1661.3L1587.5 1665.8M1603 1669.9L1611.5 1672.1M1611.5 1672.1L1622.3 1672.3M1642.3 1672.6L1664 1673M1684.1 1673.3L1705.8 1673.7M1725.8 1674L1747.5 1674.4M1767.5 1674.7L1789.2 1675.1M1809.2 1675.4L1820.1 1675.6" stroke="#f0959b" stroke-width="1.8" fill="none"/>
<text transform="translate(1431.3 1536.9) scale(1.15 1)" x="-12.6" y="0" font-size="31" letter-spacing="1.2" stroke="#000" stroke-width="0.5">**</text>
<text transform="translate(1476.9 1498.4) scale(1.15 1)" x="-19.2" y="0" font-size="31" letter-spacing="1.2" stroke="#000" stroke-width="0.5">***</text>
<text transform="translate(1521.4 1544.7) scale(1.15 1)" x="-6" y="0" font-size="31" letter-spacing="1.2" stroke="#000" stroke-width="0.5">*</text>
<text transform="translate(1611.5 1559.7) scale(1.15 1)" x="-6" y="0" font-size="31" letter-spacing="1.2" stroke="#000" stroke-width="0.5">*</text>
<path d="M539.8 1872.1V2144.7H948.6M530.3 1873.1h9.5M530.3 1927.3h9.5M530.3 1981.4h9.5M530.3 2035.5h9.5M530.3 2090.6h9.5M530.3 2144.7h9.5M539.8 2144.7v9M566.9 2144.7v9M607.6 2144.7v9M648.4 2144.7v9M743.5 2144.7v9M947.6 2144.7v9" stroke="#000" stroke-width="2" fill="none"/>
<text x="529" y="1879.8" font-size="19" text-anchor="end">2,500</text>
<text x="529" y="1934" font-size="19" text-anchor="end">2,000</text>
<text x="529" y="1988.1" font-size="19" text-anchor="end">1,500</text>
<text x="529" y="2042.2" font-size="19" text-anchor="end">1,000</text>
<text x="529" y="2097.3" font-size="19" text-anchor="end">500</text>
<text x="529" y="2151.4" font-size="19" text-anchor="end">0</text>
<text x="539.8" y="2174" font-size="19" text-anchor="middle">0</text>
<text x="566.9" y="2174" font-size="19" text-anchor="middle">2</text>
<text x="607.6" y="2174" font-size="19" text-anchor="middle">5</text>
<text x="648.4" y="2174" font-size="19" text-anchor="middle">8</text>
<text x="743.5" y="2174" font-size="19" text-anchor="middle">15</text>
<text x="947.6" y="2174" font-size="19" text-anchor="middle">30</text>
<circle cx="539.8" cy="2069.7" r="7.8" fill="#000000"/>
<circle cx="566.9" cy="2031.8" r="7.8" fill="#000000"/>
<circle cx="607.6" cy="2006.9" r="7.8" fill="#000000"/>
<circle cx="648.4" cy="2008.5" r="7.8" fill="#000000"/>
<circle cx="743.5" cy="2034.6" r="7.8" fill="#000000"/>
<circle cx="947.6" cy="2048" r="7.8" fill="#000000"/>
<path d="M539.8 2069.7L566.9 2031.8L607.6 2006.9L648.4 2008.5L743.5 2034.6L947.6 2048" stroke="#000000" stroke-width="1.8" fill="none" stroke-linejoin="round"/>
<circle cx="539.8" cy="2078.1" r="7.8" fill="#000000"/>
<circle cx="566.9" cy="2058.8" r="7.8" fill="#000000"/>
<circle cx="607.6" cy="2033" r="7.8" fill="#000000"/>
<circle cx="648.4" cy="2031.5" r="7.8" fill="#000000"/>
<circle cx="743.5" cy="2034.6" r="7.8" fill="#000000"/>
<circle cx="947.6" cy="2047" r="7.8" fill="#000000"/>
<path d="M539.8 2078.1L566.9 2058.8L607.6 2033L648.4 2031.5L743.5 2034.6L947.6 2047" stroke="#000000" stroke-width="1.8" fill="none" stroke-linejoin="round"/>
<circle cx="539.8" cy="2091.5" r="7.8" fill="#000000"/>
<circle cx="566.9" cy="2083.7" r="7.8" fill="#000000"/>
<circle cx="607.6" cy="2072.8" r="7.8" fill="#000000"/>
<circle cx="648.4" cy="2076.6" r="7.8" fill="#000000"/>
<circle cx="743.5" cy="2067.6" r="7.8" fill="#000000"/>
<circle cx="947.6" cy="2085.3" r="7.8" fill="#000000"/>
<path d="M539.8 2091.5L566.9 2083.7L607.6 2072.8L648.4 2076.6L743.5 2067.6L947.6 2085.3" stroke="#000000" stroke-width="1.8" fill="none" stroke-linejoin="round"/>
<circle cx="539.8" cy="2096.2" r="7.8" fill="#000000"/>
<circle cx="566.9" cy="2091.5" r="7.8" fill="#000000"/>
<circle cx="607.6" cy="2083.7" r="7.8" fill="#000000"/>
<circle cx="648.4" cy="2084.4" r="7.8" fill="#000000"/>
<circle cx="743.5" cy="2079.1" r="7.8" fill="#000000"/>
<circle cx="947.6" cy="2092.4" r="7.8" fill="#000000"/>
<path d="M539.8 2096.2L566.9 2091.5L607.6 2083.7L648.4 2084.4L743.5 2079.1L947.6 2092.4" stroke="#000000" stroke-width="1.8" fill="none" stroke-linejoin="round"/>
<circle cx="539.8" cy="2069.7" r="7.8" fill="#4db748"/>
<circle cx="566.9" cy="2041.7" r="7.8" fill="#4db748"/>
<circle cx="607.6" cy="2034" r="7.8" fill="#4db748"/>
<circle cx="648.4" cy="2023.1" r="7.8" fill="#4db748"/>
<circle cx="743.5" cy="2030.2" r="7.8" fill="#4db748"/>
<circle cx="947.6" cy="2042.7" r="7.8" fill="#4db748"/>
<path d="M539.8 2069.7L566.9 2041.7L607.6 2034L648.4 2023.1L743.5 2030.2L947.6 2042.7" stroke="#4db748" stroke-width="1.8" fill="none" stroke-linejoin="round"/>
<path d="M1406.4 1873.1V2145.7H1815.7M1396.9 1874.1h9.5M1396.9 1928.5h9.5M1396.9 1983.4h9.5M1396.9 2037.8h9.5M1396.9 2092.3h9.5M1396.9 2145.7h9.5M1406.4 2145.7v9M1433.5 2145.7v9M1474.4 2145.7v9M1515 2145.7v9M1610.7 2145.7v9M1814.7 2145.7v9" stroke="#000" stroke-width="2" fill="none"/>
<text x="1396" y="1880.8" font-size="19" text-anchor="end">2,500</text>
<text x="1396" y="1935.2" font-size="19" text-anchor="end">2,000</text>
<text x="1396" y="1990.1" font-size="19" text-anchor="end">1,500</text>
<text x="1396" y="2044.5" font-size="19" text-anchor="end">1,000</text>
<text x="1396" y="2099" font-size="19" text-anchor="end">500</text>
<text x="1396" y="2152.4" font-size="19" text-anchor="end">0</text>
<text x="1406.4" y="2176" font-size="19" text-anchor="middle">0</text>
<text x="1433.5" y="2176" font-size="19" text-anchor="middle">2</text>
<text x="1474.4" y="2176" font-size="19" text-anchor="middle">5</text>
<text x="1515" y="2176" font-size="19" text-anchor="middle">8</text>
<text x="1610.7" y="2176" font-size="19" text-anchor="middle">15</text>
<text x="1814.7" y="2176" font-size="19" text-anchor="middle">30</text>
<circle cx="1406.4" cy="2048.5" r="6.6" fill="none" stroke="#000000" stroke-width="1.8"/>
<circle cx="1433.5" cy="1937.4" r="6.6" fill="none" stroke="#000000" stroke-width="1.8"/>
<circle cx="1474.4" cy="1910.4" r="6.6" fill="none" stroke="#000000" stroke-width="1.8"/>
<circle cx="1515" cy="1919.6" r="6.6" fill="none" stroke="#000000" stroke-width="1.8"/>
<circle cx="1610.7" cy="1933.5" r="6.6" fill="none" stroke="#000000" stroke-width="1.8"/>
<circle cx="1814.7" cy="1975.5" r="6.6" fill="none" stroke="#000000" stroke-width="1.8"/>
<path d="M1406.4 2048.5L1408.8 2038.9M1413.1 2021.1L1417.8 2001.9M1422.1 1984.1L1426.8 1964.8M1431.1 1947.1L1433.5 1937.4M1433.5 1937.4L1444.1 1930.4M1463.8 1917.4L1474.4 1910.4M1474.4 1910.4L1485 1912.8M1504.4 1917.2L1515 1919.6M1515 1919.6L1523.3 1920.8M1538.6 1923.1L1555.2 1925.5M1570.5 1927.7L1587.1 1930.1M1602.4 1932.3L1610.7 1933.5M1610.7 1933.5L1621.4 1935.7M1640.9 1939.7L1662.2 1944.1M1681.7 1948.1L1702.9 1952.5M1722.5 1956.5L1743.7 1960.9M1763.3 1964.9L1784.5 1969.3M1804.1 1973.4L1814.7 1975.5" stroke="#000000" stroke-width="1.8" fill="none"/>
<circle cx="1406.4" cy="2049.2" r="6.6" fill="none" stroke="#000000" stroke-width="1.8"/>
<circle cx="1433.5" cy="1975.5" r="6.6" fill="none" stroke="#000000" stroke-width="1.8"/>
<circle cx="1474.4" cy="1942.8" r="6.6" fill="none" stroke="#000000" stroke-width="1.8"/>
<circle cx="1515" cy="1949.9" r="6.6" fill="none" stroke="#000000" stroke-width="1.8"/>
<circle cx="1610.7" cy="1980.9" r="6.6" fill="none" stroke="#000000" stroke-width="1.8"/>
<circle cx="1814.7" cy="2022.5" r="6.6" fill="none" stroke="#000000" stroke-width="1.8"/>
<path d="M1406.4 2049.2L1409.9 2039.6M1416.4 2022L1423.5 2002.8M1429.9 1985.1L1433.5 1975.5M1433.5 1975.5L1444.1 1967M1463.8 1951.3L1474.4 1942.8M1474.4 1942.8L1485 1944.6M1504.4 1948.1L1515 1949.9M1515 1949.9L1523.3 1952.6M1538.6 1957.5L1555.2 1962.9M1570.5 1967.9L1587.1 1973.2M1602.4 1978.2L1610.7 1980.9M1610.7 1980.9L1621.4 1983M1640.9 1987L1662.2 1991.4M1681.7 1995.4L1702.9 1999.7M1722.5 2003.7L1743.7 2008M1763.3 2012L1784.5 2016.4M1804.1 2020.4L1814.7 2022.5" stroke="#000000" stroke-width="1.8" fill="none"/>
<circle cx="1406.4" cy="2073.4" r="6.6" fill="none" stroke="#000000" stroke-width="1.8"/>
<circle cx="1433.5" cy="2024.3" r="6.6" fill="none" stroke="#000000" stroke-width="1.8"/>
<circle cx="1474.4" cy="1993.3" r="6.6" fill="none" stroke="#000000" stroke-width="1.8"/>
<circle cx="1515" cy="2004" r="6.6" fill="none" stroke="#000000" stroke-width="1.8"/>
<circle cx="1610.7" cy="1981.6" r="6.6" fill="none" stroke="#000000" stroke-width="1.8"/>
<circle cx="1814.7" cy="1993" r="6.6" fill="none" stroke="#000000" stroke-width="1.8"/>
<path d="M1406.4 2073.4L1413.4 2060.7M1426.4 2037.1L1433.5 2024.3M1433.5 2024.3L1444.1 2016.3M1463.8 2001.4L1474.4 1993.3M1474.4 1993.3L1485 1996.1M1504.4 2001.2L1515 2004M1515 2004L1523.3 2002.1M1538.6 1998.5L1555.2 1994.6M1570.5 1991L1587.1 1987.1M1602.4 1983.5L1610.7 1981.6M1610.7 1981.6L1621.4 1982.2M1640.9 1983.3L1662.2 1984.5M1681.7 1985.6L1702.9 1986.7M1722.5 1987.8L1743.7 1989M1763.3 1990.1L1784.5 1991.3M1804.1 1992.4L1814.7 1993" stroke="#000000" stroke-width="1.8" fill="none"/>
<circle cx="1406.4" cy="2074.1" r="6.6" fill="none" stroke="#000000" stroke-width="1.8"/>
<circle cx="1433.5" cy="2062" r="6.6" fill="none" stroke="#000000" stroke-width="1.8"/>
<circle cx="1474.4" cy="2047.4" r="6.6" fill="none" stroke="#000000" stroke-width="1.8"/>
<circle cx="1515" cy="2060.3" r="6.6" fill="none" stroke="#000000" stroke-width="1.8"/>
<circle cx="1610.7" cy="2036.8" r="6.6" fill="none" stroke="#000000" stroke-width="1.8"/>
<circle cx="1814.7" cy="2068.8" r="6.6" fill="none" stroke="#000000" stroke-width="1.8"/>
<path d="M1406.4 2074.1L1413.4 2071M1426.4 2065.2L1433.5 2062M1433.5 2062L1444.1 2058.2M1463.8 2051.2L1474.4 2047.4M1474.4 2047.4L1485 2050.8M1504.4 2056.9L1515 2060.3M1515 2060.3L1523.3 2058.2M1538.6 2054.5L1555.2 2050.4M1570.5 2046.6L1587.1 2042.6M1602.4 2038.8L1610.7 2036.8M1610.7 2036.8L1621.4 2038.4M1640.9 2041.5L1662.2 2044.8M1681.7 2047.9L1702.9 2051.2M1722.5 2054.3L1743.7 2057.7M1763.3 2060.7L1784.5 2064.1M1804.1 2067.1L1814.7 2068.8" stroke="#000000" stroke-width="1.8" fill="none"/>
<circle cx="1406.4" cy="2053.9" r="6.6" fill="none" stroke="#4db748" stroke-width="1.8"/>
<circle cx="1433.5" cy="1976.6" r="6.6" fill="none" stroke="#4db748" stroke-width="1.8"/>
<circle cx="1474.4" cy="1994.4" r="6.6" fill="none" stroke="#4db748" stroke-width="1.8"/>
<circle cx="1515" cy="1997.6" r="6.6" fill="none" stroke="#4db748" stroke-width="1.8"/>
<circle cx="1610.7" cy="2010.1" r="6.6" fill="none" stroke="#4db748" stroke-width="1.8"/>
<circle cx="1814.7" cy="2029.6" r="6.6" fill="none" stroke="#4db748" stroke-width="1.8"/>
<path d="M1406.4 2053.9L1409.9 2043.8M1416.4 2025.3L1423.5 2005.2M1429.9 1986.6L1433.5 1976.6M1433.5 1976.6L1444.1 1981.2M1463.8 1989.8L1474.4 1994.4M1474.4 1994.4L1485 1995.2M1504.4 1996.8L1515 1997.6M1515 1997.6L1523.3 1998.7M1538.6 2000.7L1555.2 2002.8M1570.5 2004.8L1587.1 2007M1602.4 2009L1610.7 2010.1M1610.7 2010.1L1621.4 2011.1M1640.9 2013L1662.2 2015M1681.7 2016.9L1702.9 2018.9M1722.5 2020.8L1743.7 2022.8M1763.3 2024.7L1784.5 2026.7M1804.1 2028.6L1814.7 2029.6" stroke="#4db748" stroke-width="1.8" fill="none"/>
<text x="559.1" y="1804.8" font-size="26.3" textLength="372" lengthAdjust="spacingAndGlyphs">time after BCR activation (min)</text>
<text x="1429.9" y="1805.6" font-size="26.3" textLength="372" lengthAdjust="spacingAndGlyphs">time after BCR activation (min)</text>
<text x="558.2" y="2198.8" font-size="26.3" textLength="371.5" lengthAdjust="spacingAndGlyphs">time after BCR activation (min)</text>
<text x="1431.3" y="2198" font-size="26.3" textLength="371.5" lengthAdjust="spacingAndGlyphs">time after BCR activation (min)</text>
<text x="464.6" y="1618.5" font-size="26.3" text-anchor="middle" transform="rotate(-90 464.6 1618.5)" textLength="177" lengthAdjust="spacingAndGlyphs">MFI pSyk(Y<tspan font-size="15.8" dy="-9.5">352</tspan><tspan dy="9.5">)</tspan></text>
<text x="1328" y="1603.5" font-size="26.3" text-anchor="middle" transform="rotate(-90 1328 1603.5)" textLength="177" lengthAdjust="spacingAndGlyphs">MFI pSyk(Y<tspan font-size="15.8" dy="-9.5">352</tspan><tspan dy="9.5">)</tspan></text>
<text x="464.6" y="1994" font-size="26.3" text-anchor="middle" transform="rotate(-90 464.6 1994)" textLength="177" lengthAdjust="spacingAndGlyphs">MFI pSyk(Y<tspan font-size="15.8" dy="-9.5">352</tspan><tspan dy="9.5">)</tspan></text>
<text x="1330.5" y="1996.5" font-size="26.3" text-anchor="middle" transform="rotate(-90 1330.5 1996.5)" textLength="177" lengthAdjust="spacingAndGlyphs">MFI pSyk(Y<tspan font-size="15.8" dy="-9.5">352</tspan><tspan dy="9.5">)</tspan></text>
</g>
<g id="legend">
<text x="80.4" y="2277.1" font-size="26.3" textLength="394.4" lengthAdjust="spacingAndGlyphs">non autoimmune spleen or tonsil</text>
<rect x="4.4" y="2290.4" width="45.4" height="21" fill="#c8c8c8" stroke="#a0a0a0" stroke-width="1.3"/>
<text x="56.7" y="2309.5" font-size="26.3" textLength="68.3" lengthAdjust="spacingAndGlyphs">RPMI</text>
<line x1="141.2" y1="2300.3" x2="184.3" y2="2300.3" stroke="#000" stroke-width="3.9"/>
<text x="195.7" y="2309.5" font-size="26.3" textLength="97" lengthAdjust="spacingAndGlyphs">IgG/IgM</text>
<line x1="308" y1="2300.3" x2="352" y2="2300.3" stroke="#000" stroke-width="3.9"/>
<circle cx="330" cy="2300.3" r="8.6" fill="#000"/>
<text x="364.7" y="2309.5" font-size="26.3" textLength="67.6" lengthAdjust="spacingAndGlyphs">CD27</text>
<text x="436.9" y="2298" font-size="21" style="stroke-width:0.6px">-</text>
<line x1="456.2" y1="2300.3" x2="465.7" y2="2300.3" stroke="#000" stroke-width="3.9"/>
<line x1="490.7" y1="2300.3" x2="500.2" y2="2300.3" stroke="#000" stroke-width="3.9"/>
<circle cx="478.2" cy="2300.3" r="7.9" fill="#fff" stroke="#000" stroke-width="2.8"/>
<text x="511.4" y="2309.5" font-size="26.3" textLength="67.6" lengthAdjust="spacingAndGlyphs">CD27</text>
<text x="583.2" y="2300.5" font-size="19" style="stroke-width:0.7px">+</text>
<text x="896.2" y="2280.8" font-size="26.3" textLength="127.9" lengthAdjust="spacingAndGlyphs">ITP spleen</text>
<rect x="659.2" y="2290.4" width="45.3" height="21" fill="#f4b3b6" stroke="#dc8f94" stroke-width="1.3"/>
<text x="711.5" y="2310.5" font-size="26.3" textLength="69" lengthAdjust="spacingAndGlyphs">RPMI</text>
<line x1="796" y1="2300.3" x2="839.8" y2="2300.3" stroke="#cc0a0a" stroke-width="3.9"/>
<text x="850.5" y="2310.5" font-size="26.3" textLength="97" lengthAdjust="spacingAndGlyphs">IgG/IgM</text>
<line x1="963.4" y1="2300.3" x2="1007.4" y2="2300.3" stroke="#f0959b" stroke-width="3.9"/>
<circle cx="985.4" cy="2300.3" r="8.6" fill="#f0959b"/>
<text x="1019.8" y="2310.5" font-size="26.3" textLength="68.4" lengthAdjust="spacingAndGlyphs">CD27</text>
<text x="1092.8" y="2299" font-size="21" style="stroke-width:0.6px">-</text>
<line x1="1110.9" y1="2300.3" x2="1120.4" y2="2300.3" stroke="#f0959b" stroke-width="3.9"/>
<line x1="1145.4" y1="2300.3" x2="1154.9" y2="2300.3" stroke="#f0959b" stroke-width="3.9"/>
<circle cx="1132.9" cy="2300.3" r="7.9" fill="#fff" stroke="#f0959b" stroke-width="2.8"/>
<text x="1165.5" y="2310.5" font-size="26.3" textLength="68.3" lengthAdjust="spacingAndGlyphs">CD27</text>
<text x="1238" y="2301.5" font-size="19" style="stroke-width:0.7px">+</text>
<text x="1547.1" y="2276.4" font-size="26.3" textLength="141.2" lengthAdjust="spacingAndGlyphs">pSS parotid</text>
<rect x="1314.1" y="2290.4" width="45.3" height="21" fill="#b7d9a3" stroke="#90ba7e" stroke-width="1.3"/>
<text x="1366.8" y="2307" font-size="26.3" textLength="68.6" lengthAdjust="spacingAndGlyphs">RPMI</text>
<line x1="1451.2" y1="2300.3" x2="1494.7" y2="2300.3" stroke="#8aa97c" stroke-width="3.9"/>
<text x="1505.4" y="2307" font-size="26.3" textLength="97" lengthAdjust="spacingAndGlyphs">IgG/IgM</text>
<line x1="1618.3" y1="2300.3" x2="1662.3" y2="2300.3" stroke="#3aaa35" stroke-width="3.9"/>
<circle cx="1640.3" cy="2300.3" r="8.6" fill="#3aaa35"/>
<text x="1675.1" y="2307" font-size="26.3" textLength="68.4" lengthAdjust="spacingAndGlyphs">CD27</text>
<text x="1748.1" y="2295.5" font-size="21" style="stroke-width:0.6px">-</text>
<line x1="1765.8" y1="2300.3" x2="1775.3" y2="2300.3" stroke="#3aaa35" stroke-width="3.9"/>
<line x1="1800.3" y1="2300.3" x2="1809.8" y2="2300.3" stroke="#3aaa35" stroke-width="3.9"/>
<circle cx="1787.8" cy="2300.3" r="7.9" fill="#fff" stroke="#3aaa35" stroke-width="2.8"/>
<text x="1820.7" y="2307" font-size="26.3" textLength="68.4" lengthAdjust="spacingAndGlyphs">CD27</text>
<text x="1893.3" y="2298" font-size="19" style="stroke-width:0.7px">+</text>
</g>
</svg>
</body></html>
